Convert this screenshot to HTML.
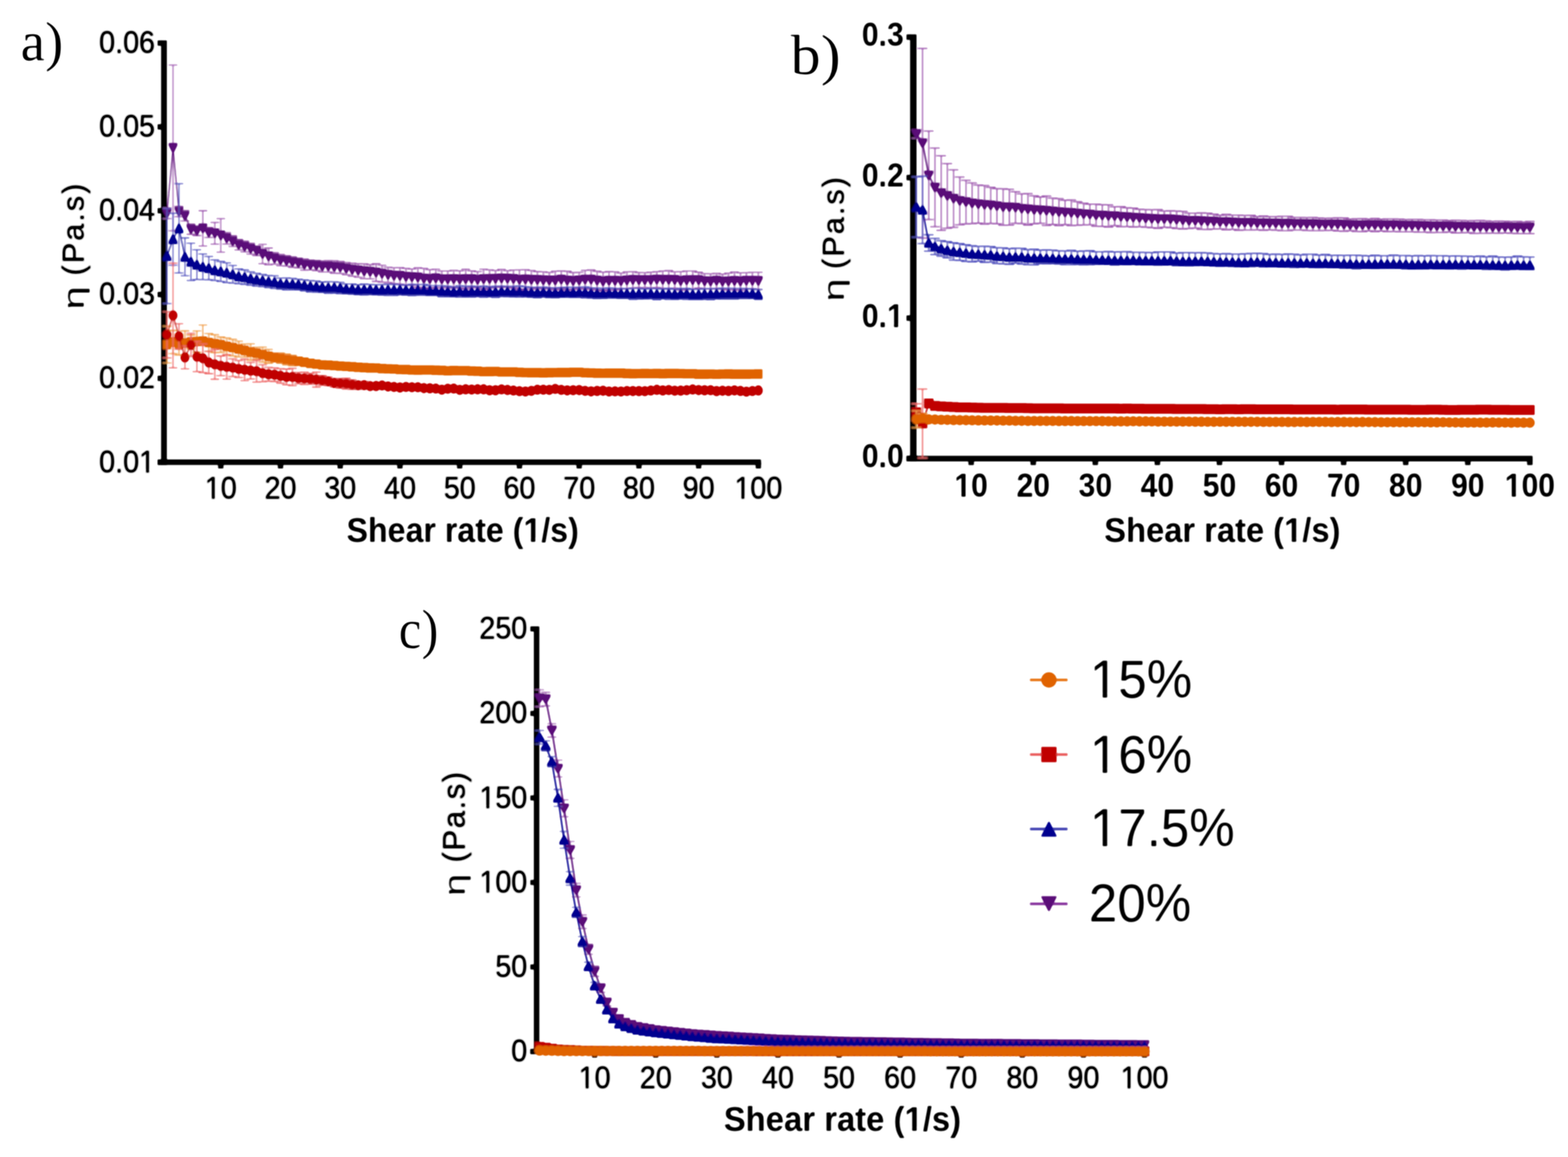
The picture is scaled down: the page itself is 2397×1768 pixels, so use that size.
<!DOCTYPE html>
<html lang="en">
<head>
<meta charset="utf-8">
<title>Viscosity vs shear rate</title>
<style>
html,body{margin:0;padding:0;background:#fff;}
body{width:2397px;height:1768px;overflow:hidden;}
svg{display:block;}
text{font-family:"Liberation Sans",Arial,Helvetica,sans-serif;fill:#000;font-kerning:none;font-variant-ligatures:none;}
.t{filter:url(#thick);}
.tb text,.tb2 text,.tb3 text{font-weight:bold;}
.tb{filter:url(#soft);}
.tb2{filter:url(#soft);}
.tb3{filter:url(#soft);}
.eta{filter:url(#soft);}
.lg{filter:url(#soft);}
.tag text{font-family:"Liberation Serif","DejaVu Serif",serif;}
.tag{filter:url(#thin);}
</style>
</head>
<body>
<svg width="2397" height="1768" viewBox="0 0 2397 1768">
<defs>
<filter id="thick" x="-20%" y="-20%" width="140%" height="140%"><feGaussianBlur stdDeviation="0.9"/><feComponentTransfer><feFuncA type="linear" slope="1.35" intercept="0"/></feComponentTransfer></filter>
<filter id="thick2" x="-20%" y="-20%" width="140%" height="140%"><feGaussianBlur stdDeviation="0.9"/><feComponentTransfer><feFuncA type="linear" slope="1.6" intercept="0"/></feComponentTransfer></filter>
<filter id="thick3" x="-20%" y="-20%" width="140%" height="140%"><feGaussianBlur stdDeviation="0.9"/><feComponentTransfer><feFuncA type="linear" slope="1.5" intercept="0"/></feComponentTransfer></filter>
<filter id="semib" x="-20%" y="-20%" width="140%" height="140%"><feGaussianBlur stdDeviation="0.9"/><feComponentTransfer><feFuncA type="linear" slope="1.5" intercept="-0.4"/></feComponentTransfer></filter>
<filter id="soft" x="-20%" y="-20%" width="140%" height="140%"><feGaussianBlur stdDeviation="0.9"/><feComponentTransfer><feFuncA type="linear" slope="1.3" intercept="-0.15"/></feComponentTransfer></filter>
<filter id="thin" x="-20%" y="-20%" width="140%" height="140%"><feGaussianBlur stdDeviation="0.9"/><feComponentTransfer><feFuncA type="linear" slope="1.5" intercept="-0.32"/></feComponentTransfer></filter>
<clipPath id="c1"><path clip-rule="evenodd" d="M-900 -200h1800v400h-1800zM-24.78 -4.22h10.00v6.22h-10.00zM-10.49 -4.22h9.62v6.22h-9.62z"/></clipPath><clipPath id="c2"><path clip-rule="evenodd" d="M-900 -200h1800v400h-1800zM-24.78 -4.22h10.00v6.22h-10.00zM-10.49 -4.22h9.62v6.22h-9.62z"/></clipPath><clipPath id="c3"><path clip-rule="evenodd" d="M-900 -200h1800v400h-1800zM-38.27 -4.22h10.00v6.22h-10.00zM-23.98 -4.22h9.62v6.22h-9.62z"/></clipPath><clipPath id="c4"><path clip-rule="evenodd" d="M-900 -200h1800v400h-1800zM100.04 -5.91h10.36v7.91h-10.36zM117.53 -5.91h9.70v7.91h-9.70z"/></clipPath><clipPath id="c5"><path clip-rule="evenodd" d="M-900 -200h1800v400h-1800zM-25.91 -5.65h9.94v7.65h-9.94zM-9.18 -5.65h9.31v7.65h-9.31z"/></clipPath><clipPath id="c6"><path clip-rule="evenodd" d="M-900 -200h1800v400h-1800zM-25.91 -5.65h9.94v7.65h-9.94zM-9.18 -5.65h9.31v7.65h-9.31z"/></clipPath><clipPath id="c7"><path clip-rule="evenodd" d="M-900 -200h1800v400h-1800zM-39.68 -5.65h9.94v7.65h-9.94zM-22.95 -5.65h9.31v7.65h-9.31z"/></clipPath><clipPath id="c8"><path clip-rule="evenodd" d="M-900 -200h1800v400h-1800zM-78.73 -4.22h10.00v6.22h-10.00zM-64.44 -4.22h9.62v6.22h-9.62z"/></clipPath><clipPath id="c9"><path clip-rule="evenodd" d="M-900 -200h1800v400h-1800zM-78.73 -4.22h10.00v6.22h-10.00zM-64.44 -4.22h9.62v6.22h-9.62z"/></clipPath><clipPath id="c10"><path clip-rule="evenodd" d="M-900 -200h1800v400h-1800zM4.75 -6.73h15.87v8.73h-15.87zM27.87 -6.73h15.23v8.73h-15.23z"/></clipPath><clipPath id="c11"><path clip-rule="evenodd" d="M-900 -200h1800v400h-1800zM4.75 -6.73h15.87v8.73h-15.87zM27.87 -6.73h15.23v8.73h-15.23z"/></clipPath><clipPath id="c12"><path clip-rule="evenodd" d="M-900 -200h1800v400h-1800zM4.75 -6.73h15.87v8.73h-15.87zM27.87 -6.73h15.23v8.73h-15.23z"/></clipPath>
<filter id="blur" x="-5%" y="-5%" width="110%" height="110%"><feGaussianBlur stdDeviation="0.9"/><feComponentTransfer><feFuncA type="linear" slope="1.3" intercept="-0.15"/></feComponentTransfer></filter>
</defs>
<rect width="2397" height="1768" fill="#fff"/>
<g id="panel-a">
<g filter="url(#blur)">
<g fill="#000"><rect x="246.3" y="61.7" width="8.8" height="648.8"/><rect x="240.9" y="702.1" width="922.5" height="8.4"/><rect x="240.9" y="702.2" width="6.4" height="8.2"/><rect x="240.9" y="574.1" width="6.4" height="8.2"/><rect x="240.9" y="446" width="6.4" height="8.2"/><rect x="240.9" y="317.9" width="6.4" height="8.2"/><rect x="240.9" y="189.8" width="6.4" height="8.2"/><rect x="240.9" y="61.7" width="6.4" height="8.2"/><rect x="333.4" y="706.3" width="8.2" height="9.6"/><rect x="424.7" y="706.3" width="8.2" height="9.6"/><rect x="516" y="706.3" width="8.2" height="9.6"/><rect x="607.3" y="706.3" width="8.2" height="9.6"/><rect x="698.6" y="706.3" width="8.2" height="9.6"/><rect x="790" y="706.3" width="8.2" height="9.6"/><rect x="881.3" y="706.3" width="8.2" height="9.6"/><rect x="972.6" y="706.3" width="8.2" height="9.6"/><rect x="1063.9" y="706.3" width="8.2" height="9.6"/><rect x="1155.2" y="706.3" width="8.2" height="9.6"/></g>
<path d="M255.3 317.6V334.1M248.6 317.6h13.5M248.6 334.1h13.5M264.5 99.3V352.6M257.7 99.3h13.5M257.7 352.6h13.5M273.6 315.5V331.1M266.8 315.5h13.5M266.8 331.1h13.5M282.7 321.7V337.7M276 321.7h13.5M276 337.7h13.5M291.9 342.3V358M285.1 342.3h13.5M285.1 358h13.5M301 345.5V360M294.2 345.5h13.5M294.2 360h13.5M310.1 322V375.8M303.4 322h13.5M303.4 375.8h13.5M319.2 347.7V362.9M312.5 347.7h13.5M312.5 362.9h13.5M328.4 339.9V373.2M321.6 339.9h13.5M321.6 373.2h13.5M337.5 334.1V385.3M330.8 334.1h13.5M330.8 385.3h13.5M346.6 355.3V372.8M339.9 355.3h13.5M339.9 372.8h13.5M355.8 360.2V376.7M349 360.2h13.5M349 376.7h13.5M364.9 366V381.9M358.2 366h13.5M358.2 381.9h13.5M374 368.5V384.9M367.3 368.5h13.5M367.3 384.9h13.5M383.2 371.6V388.3M376.4 371.6h13.5M376.4 388.3h13.5M392.3 376.1V390.5M385.5 376.1h13.5M385.5 390.5h13.5M401.4 373.3V402.8M394.7 373.3h13.5M394.7 402.8h13.5M410.6 379V404.6M403.8 379h13.5M403.8 404.6h13.5M419.7 385.9V403.6M412.9 385.9h13.5M412.9 403.6h13.5M428.8 388.7V406.2M422.1 388.7h13.5M422.1 406.2h13.5M438 390.7V406.7M431.2 390.7h13.5M431.2 406.7h13.5M447.1 392.4V408.5M440.3 392.4h13.5M440.3 408.5h13.5M456.2 394.5V409.4M449.5 394.5h13.5M449.5 409.4h13.5M465.3 395.7V412.9M458.6 395.7h13.5M458.6 412.9h13.5M474.5 397.5V412.4M467.7 397.5h13.5M467.7 412.4h13.5M483.6 397.9V413.5M476.9 397.9h13.5M476.9 413.5h13.5M492.7 398.7V415.6M486 398.7h13.5M486 415.6h13.5M501.9 398.2V415.6M495.1 398.2h13.5M495.1 415.6h13.5M511 398.5V417.5M504.2 398.5h13.5M504.2 417.5h13.5M520.1 399.5V417.8M513.4 399.5h13.5M513.4 417.8h13.5M529.3 401.2V419.9M522.5 401.2h13.5M522.5 419.9h13.5M538.4 402.1V422.2M531.6 402.1h13.5M531.6 422.2h13.5M547.5 403V423.6M540.8 403h13.5M540.8 423.6h13.5M556.7 403.1V425.9M549.9 403.1h13.5M549.9 425.9h13.5M565.8 404.5V426.1M559 404.5h13.5M559 426.1h13.5M574.9 403V430M568.2 403h13.5M568.2 430h13.5M584 405.3V431.1M577.3 405.3h13.5M577.3 431.1h13.5M593.2 408.3V431.7M586.4 408.3h13.5M586.4 431.7h13.5M602.3 409.2V433.5M595.6 409.2h13.5M595.6 433.5h13.5M611.4 408.9V434.2M604.7 408.9h13.5M604.7 434.2h13.5M620.6 410.1V435.9M613.8 410.1h13.5M613.8 435.9h13.5M629.7 411.2V435.8M623 411.2h13.5M623 435.8h13.5M638.8 409.1V438.8M632.1 409.1h13.5M632.1 438.8h13.5M648 410.2V441.3M641.2 410.2h13.5M641.2 441.3h13.5M657.1 412.2V440.2M650.3 412.2h13.5M650.3 440.2h13.5M666.2 411.3V439.3M659.5 411.3h13.5M659.5 439.3h13.5M675.4 414.2V439.5M668.6 414.2h13.5M668.6 439.5h13.5M684.5 414.1V439.4M677.7 414.1h13.5M677.7 439.4h13.5M693.6 413.2V440M686.9 413.2h13.5M686.9 440h13.5M702.8 413.9V440.1M696 413.9h13.5M696 440.1h13.5M711.9 411.5V441.4M705.1 411.5h13.5M705.1 441.4h13.5M721 413.8V439.2M714.3 413.8h13.5M714.3 439.2h13.5M730.1 415.2V439.7M723.4 415.2h13.5M723.4 439.7h13.5M739.3 411.3V441.9M732.5 411.3h13.5M732.5 441.9h13.5M748.4 412.4V440.1M741.7 412.4h13.5M741.7 440.1h13.5M757.5 413.4V438.4M750.8 413.4h13.5M750.8 438.4h13.5M766.7 411.6V439.2M759.9 411.6h13.5M759.9 439.2h13.5M775.8 413.7V437.9M769 413.7h13.5M769 437.9h13.5M784.9 412.6V440M778.2 412.6h13.5M778.2 440h13.5M794.1 412.3V442.5M787.3 412.3h13.5M787.3 442.5h13.5M803.2 412.2V441.7M796.4 412.2h13.5M796.4 441.7h13.5M812.3 413.3V441.6M805.6 413.3h13.5M805.6 441.6h13.5M821.5 415V440.4M814.7 415h13.5M814.7 440.4h13.5M830.6 415.3V441.3M823.8 415.3h13.5M823.8 441.3h13.5M839.7 416.3V440.9M833 416.3h13.5M833 440.9h13.5M848.8 414.3V442.7M842.1 414.3h13.5M842.1 442.7h13.5M858 413.9V440.8M851.2 413.9h13.5M851.2 440.8h13.5M867.1 414.5V442.9M860.4 414.5h13.5M860.4 442.9h13.5M876.2 416.5V441.9M869.5 416.5h13.5M869.5 441.9h13.5M885.4 416.2V440.8M878.6 416.2h13.5M878.6 440.8h13.5M894.5 413.2V441.5M887.8 413.2h13.5M887.8 441.5h13.5M903.6 412.5V441.9M896.9 412.5h13.5M896.9 441.9h13.5M912.8 414.5V442.9M906 414.5h13.5M906 442.9h13.5M921.9 415.9V444M915.1 415.9h13.5M915.1 444h13.5M931 415V443M924.3 415h13.5M924.3 443h13.5M940.2 415.4V442.9M933.4 415.4h13.5M933.4 442.9h13.5M949.3 417.3V441.6M942.5 417.3h13.5M942.5 441.6h13.5M958.4 415.4V441.4M951.7 415.4h13.5M951.7 441.4h13.5M967.5 415.2V440.2M960.8 415.2h13.5M960.8 440.2h13.5M976.7 416.5V439.3M969.9 416.5h13.5M969.9 439.3h13.5M985.8 416.6V439.4M979.1 416.6h13.5M979.1 439.4h13.5M994.9 415.8V440.1M988.2 415.8h13.5M988.2 440.1h13.5M1004.1 415.2V439.3M997.3 415.2h13.5M997.3 439.3h13.5M1013.2 414.1V440.7M1006.5 414.1h13.5M1006.5 440.7h13.5M1022.3 413.5V441.7M1015.6 413.5h13.5M1015.6 441.7h13.5M1031.5 415.3V440.3M1024.7 415.3h13.5M1024.7 440.3h13.5M1040.6 415.2V443.1M1033.8 415.2h13.5M1033.8 443.1h13.5M1049.7 414.2V442.3M1043 414.2h13.5M1043 442.3h13.5M1058.9 414.1V441.9M1052.1 414.1h13.5M1052.1 441.9h13.5M1068 416V440.2M1061.2 416h13.5M1061.2 440.2h13.5M1077.1 418.1V441.4M1070.4 418.1h13.5M1070.4 441.4h13.5M1086.3 418.3V441.5M1079.5 418.3h13.5M1079.5 441.5h13.5M1095.4 417.6V440.6M1088.6 417.6h13.5M1088.6 440.6h13.5M1104.5 418.8V441.8M1097.8 418.8h13.5M1097.8 441.8h13.5M1113.6 417.3V442.8M1106.9 417.3h13.5M1106.9 442.8h13.5M1122.8 415.7V442.7M1116 415.7h13.5M1116 442.7h13.5M1131.9 416.8V443.4M1125.2 416.8h13.5M1125.2 443.4h13.5M1141 416.7V441.1M1134.3 416.7h13.5M1134.3 441.1h13.5M1150.2 416.2V441.5M1143.4 416.2h13.5M1143.4 441.5h13.5M1159.3 416.2V442.3M1152.5 416.2h13.5M1152.5 442.3h13.5" fill="none" stroke="#a260b2" stroke-width="1.8"/>
<path d="M255.3 325.8L264.5 225.9L273.6 323.3L282.7 329.7L291.9 350.2L301 352.7L310.1 348.9L319.2 355.3L328.4 356.6L337.5 359.7L346.6 364L355.8 368.5L364.9 374L374 376.7L383.2 379.9L392.3 383.3L401.4 388.1L410.6 391.8L419.7 394.8L428.8 397.5L438 398.7L447.1 400.5L456.2 401.9L465.3 404.3L474.5 404.9L483.6 405.7L492.7 407.1L501.9 406.9L511 408L520.1 408.6L529.3 410.5L538.4 412.2L547.5 413.3L556.7 414.5L565.8 415.3L574.9 416.5L584 418.2L593.2 420L602.3 421.3L611.4 421.6L620.6 423L629.7 423.5L638.8 424L648 425.8L657.1 426.2L666.2 425.3L675.4 426.8L684.5 426.8L693.6 426.6L702.8 427L711.9 426.5L721 426.5L730.1 427.4L739.3 426.6L748.4 426.3L757.5 425.9L766.7 425.4L775.8 425.8L784.9 426.3L794.1 427.4L803.2 427L812.3 427.5L821.5 427.7L830.6 428.3L839.7 428.6L848.8 428.5L858 427.3L867.1 428.7L876.2 429.2L885.4 428.5L894.5 427.3L903.6 427.2L912.8 428.7L921.9 430L931 429L940.2 429.1L949.3 429.5L958.4 428.4L967.5 427.7L976.7 427.9L985.8 428L994.9 427.9L1004.1 427.2L1013.2 427.4L1022.3 427.6L1031.5 427.8L1040.6 429.2L1049.7 428.3L1058.9 428L1068 428.1L1077.1 429.7L1086.3 429.9L1095.4 429.1L1104.5 430.3L1113.6 430.1L1122.8 429.2L1131.9 430.1L1141 428.9L1150.2 428.9L1159.3 429.3" fill="none" stroke="#5a0a78" stroke-width="1.6" stroke-linejoin="round"/>
<path d="M254.2 333.3L256.4 333.3L261.9 322.2L261.9 318.3L248.7 318.3L248.7 322.2zM263.4 233.4L265.6 233.4L271.1 222.3L271.1 218.4L257.9 218.4L257.9 222.3zM272.5 330.8L274.7 330.8L280.2 319.7L280.2 315.8L267 315.8L267 319.7zM281.6 337.2L283.8 337.2L289.3 326.1L289.3 322.2L276.1 322.2L276.1 326.1zM290.8 357.7L293 357.7L298.5 346.6L298.5 342.7L285.3 342.7L285.3 346.6zM299.9 360.2L302.1 360.2L307.6 349.1L307.6 345.2L294.4 345.2L294.4 349.1zM309 356.4L311.2 356.4L316.7 345.3L316.7 341.4L303.5 341.4L303.5 345.3zM318.1 362.8L320.3 362.8L325.8 351.7L325.8 347.8L312.6 347.8L312.6 351.7zM327.3 364.1L329.5 364.1L335 353L335 349.1L321.8 349.1L321.8 353zM336.4 367.2L338.6 367.2L344.1 356.1L344.1 352.2L330.9 352.2L330.9 356.1zM345.5 371.5L347.7 371.5L353.2 360.4L353.2 356.5L340 356.5L340 360.4zM354.7 376L356.9 376L362.4 364.9L362.4 361L349.2 361L349.2 364.9zM363.8 381.5L366 381.5L371.5 370.4L371.5 366.5L358.3 366.5L358.3 370.4zM372.9 384.2L375.1 384.2L380.6 373.1L380.6 369.2L367.4 369.2L367.4 373.1zM382.1 387.4L384.3 387.4L389.8 376.3L389.8 372.4L376.6 372.4L376.6 376.3zM391.2 390.8L393.4 390.8L398.9 379.7L398.9 375.8L385.7 375.8L385.7 379.7zM400.3 395.6L402.5 395.6L408 384.5L408 380.6L394.8 380.6L394.8 384.5zM409.5 399.3L411.7 399.3L417.2 388.2L417.2 384.3L404 384.3L404 388.2zM418.6 402.3L420.8 402.3L426.3 391.2L426.3 387.3L413.1 387.3L413.1 391.2zM427.7 405L429.9 405L435.4 393.9L435.4 390L422.2 390L422.2 393.9zM436.9 406.2L439.1 406.2L444.6 395.1L444.6 391.2L431.4 391.2L431.4 395.1zM446 408L448.2 408L453.7 396.9L453.7 393L440.5 393L440.5 396.9zM455.1 409.4L457.3 409.4L462.8 398.3L462.8 394.4L449.6 394.4L449.6 398.3zM464.2 411.8L466.4 411.8L471.9 400.7L471.9 396.8L458.7 396.8L458.7 400.7zM473.4 412.4L475.6 412.4L481.1 401.3L481.1 397.4L467.9 397.4L467.9 401.3zM482.5 413.2L484.7 413.2L490.2 402.1L490.2 398.2L477 398.2L477 402.1zM491.6 414.6L493.8 414.6L499.3 403.5L499.3 399.6L486.1 399.6L486.1 403.5zM500.8 414.4L503 414.4L508.5 403.3L508.5 399.4L495.3 399.4L495.3 403.3zM509.9 415.5L512.1 415.5L517.6 404.4L517.6 400.5L504.4 400.5L504.4 404.4zM519 416.1L521.2 416.1L526.7 405L526.7 401.1L513.5 401.1L513.5 405zM528.2 418L530.4 418L535.9 406.9L535.9 403L522.7 403L522.7 406.9zM537.3 419.7L539.5 419.7L545 408.6L545 404.7L531.8 404.7L531.8 408.6zM546.4 420.8L548.6 420.8L554.1 409.7L554.1 405.8L540.9 405.8L540.9 409.7zM555.6 422L557.8 422L563.3 410.9L563.3 407L550.1 407L550.1 410.9zM564.7 422.8L566.9 422.8L572.4 411.7L572.4 407.8L559.2 407.8L559.2 411.7zM573.8 424L576 424L581.5 412.9L581.5 409L568.3 409L568.3 412.9zM582.9 425.7L585.1 425.7L590.6 414.6L590.6 410.7L577.4 410.7L577.4 414.6zM592.1 427.5L594.3 427.5L599.8 416.4L599.8 412.5L586.6 412.5L586.6 416.4zM601.2 428.8L603.4 428.8L608.9 417.7L608.9 413.8L595.7 413.8L595.7 417.7zM610.3 429.1L612.5 429.1L618 418L618 414.1L604.8 414.1L604.8 418zM619.5 430.5L621.7 430.5L627.2 419.4L627.2 415.5L614 415.5L614 419.4zM628.6 431L630.8 431L636.3 419.9L636.3 416L623.1 416L623.1 419.9zM637.7 431.5L639.9 431.5L645.4 420.4L645.4 416.5L632.2 416.5L632.2 420.4zM646.9 433.3L649.1 433.3L654.6 422.2L654.6 418.3L641.4 418.3L641.4 422.2zM656 433.7L658.2 433.7L663.7 422.6L663.7 418.7L650.5 418.7L650.5 422.6zM665.1 432.8L667.3 432.8L672.8 421.7L672.8 417.8L659.6 417.8L659.6 421.7zM674.3 434.3L676.5 434.3L682 423.2L682 419.3L668.8 419.3L668.8 423.2zM683.4 434.3L685.6 434.3L691.1 423.2L691.1 419.3L677.9 419.3L677.9 423.2zM692.5 434.1L694.7 434.1L700.2 423L700.2 419.1L687 419.1L687 423zM701.6 434.5L703.9 434.5L709.4 423.4L709.4 419.5L696.1 419.5L696.1 423.4zM710.8 434L713 434L718.5 422.9L718.5 419L705.3 419L705.3 422.9zM719.9 434L722.1 434L727.6 422.9L727.6 419L714.4 419L714.4 422.9zM729 434.9L731.2 434.9L736.7 423.8L736.7 419.9L723.5 419.9L723.5 423.8zM738.2 434.1L740.4 434.1L745.9 423L745.9 419.1L732.7 419.1L732.7 423zM747.3 433.8L749.5 433.8L755 422.7L755 418.8L741.8 418.8L741.8 422.7zM756.4 433.4L758.6 433.4L764.1 422.3L764.1 418.4L750.9 418.4L750.9 422.3zM765.6 432.9L767.8 432.9L773.3 421.8L773.3 417.9L760.1 417.9L760.1 421.8zM774.7 433.3L776.9 433.3L782.4 422.2L782.4 418.3L769.2 418.3L769.2 422.2zM783.8 433.8L786 433.8L791.5 422.7L791.5 418.8L778.3 418.8L778.3 422.7zM793 434.9L795.2 434.9L800.7 423.8L800.7 419.9L787.5 419.9L787.5 423.8zM802.1 434.5L804.3 434.5L809.8 423.4L809.8 419.5L796.6 419.5L796.6 423.4zM811.2 435L813.4 435L818.9 423.9L818.9 420L805.7 420L805.7 423.9zM820.4 435.2L822.6 435.2L828.1 424.1L828.1 420.2L814.9 420.2L814.9 424.1zM829.5 435.8L831.7 435.8L837.2 424.7L837.2 420.8L824 420.8L824 424.7zM838.6 436.1L840.8 436.1L846.3 425L846.3 421.1L833.1 421.1L833.1 425zM847.7 436L849.9 436L855.4 424.9L855.4 421L842.2 421L842.2 424.9zM856.9 434.8L859.1 434.8L864.6 423.7L864.6 419.8L851.4 419.8L851.4 423.7zM866 436.2L868.2 436.2L873.7 425.1L873.7 421.2L860.5 421.2L860.5 425.1zM875.1 436.7L877.3 436.7L882.8 425.6L882.8 421.7L869.6 421.7L869.6 425.6zM884.3 436L886.5 436L892 424.9L892 421L878.8 421L878.8 424.9zM893.4 434.8L895.6 434.8L901.1 423.7L901.1 419.8L887.9 419.8L887.9 423.7zM902.5 434.7L904.7 434.7L910.2 423.6L910.2 419.7L897 419.7L897 423.6zM911.7 436.2L913.9 436.2L919.4 425.1L919.4 421.2L906.2 421.2L906.2 425.1zM920.8 437.5L923 437.5L928.5 426.4L928.5 422.5L915.3 422.5L915.3 426.4zM929.9 436.5L932.1 436.5L937.6 425.4L937.6 421.5L924.4 421.5L924.4 425.4zM939.1 436.6L941.3 436.6L946.8 425.5L946.8 421.6L933.6 421.6L933.6 425.5zM948.2 437L950.4 437L955.9 425.9L955.9 422L942.7 422L942.7 425.9zM957.3 435.9L959.5 435.9L965 424.8L965 420.9L951.8 420.9L951.8 424.8zM966.4 435.2L968.6 435.2L974.1 424.1L974.1 420.2L960.9 420.2L960.9 424.1zM975.6 435.4L977.8 435.4L983.3 424.3L983.3 420.4L970.1 420.4L970.1 424.3zM984.7 435.5L986.9 435.5L992.4 424.4L992.4 420.5L979.2 420.5L979.2 424.4zM993.8 435.4L996 435.4L1001.5 424.3L1001.5 420.4L988.3 420.4L988.3 424.3zM1003 434.7L1005.2 434.7L1010.7 423.6L1010.7 419.7L997.5 419.7L997.5 423.6zM1012.1 434.9L1014.3 434.9L1019.8 423.8L1019.8 419.9L1006.6 419.9L1006.6 423.8zM1021.2 435.1L1023.4 435.1L1028.9 424L1028.9 420.1L1015.7 420.1L1015.7 424zM1030.4 435.3L1032.6 435.3L1038.1 424.2L1038.1 420.3L1024.9 420.3L1024.9 424.2zM1039.5 436.7L1041.7 436.7L1047.2 425.6L1047.2 421.7L1034 421.7L1034 425.6zM1048.6 435.8L1050.8 435.8L1056.3 424.7L1056.3 420.8L1043.1 420.8L1043.1 424.7zM1057.8 435.5L1060 435.5L1065.5 424.4L1065.5 420.5L1052.3 420.5L1052.3 424.4zM1066.9 435.6L1069.1 435.6L1074.6 424.5L1074.6 420.6L1061.4 420.6L1061.4 424.5zM1076 437.2L1078.2 437.2L1083.7 426.1L1083.7 422.2L1070.5 422.2L1070.5 426.1zM1085.2 437.4L1087.4 437.4L1092.9 426.3L1092.9 422.4L1079.7 422.4L1079.7 426.3zM1094.3 436.6L1096.5 436.6L1102 425.5L1102 421.6L1088.8 421.6L1088.8 425.5zM1103.4 437.8L1105.6 437.8L1111.1 426.7L1111.1 422.8L1097.9 422.8L1097.9 426.7zM1112.5 437.6L1114.7 437.6L1120.2 426.5L1120.2 422.6L1107 422.6L1107 426.5zM1121.7 436.7L1123.9 436.7L1129.4 425.6L1129.4 421.7L1116.2 421.7L1116.2 425.6zM1130.8 437.6L1133 437.6L1138.5 426.5L1138.5 422.6L1125.3 422.6L1125.3 426.5zM1139.9 436.4L1142.1 436.4L1147.6 425.3L1147.6 421.4L1134.4 421.4L1134.4 425.3zM1149.1 436.4L1151.3 436.4L1156.8 425.3L1156.8 421.4L1143.6 421.4L1143.6 425.3zM1158.2 436.8L1160.4 436.8L1165.9 425.7L1165.9 421.8L1152.7 421.8L1152.7 425.7z" fill="#5a0a78"/>
<path d="M255.3 318.6V463.8M248.6 318.6h13.5M248.6 463.8h13.5M264.5 325.8V405.3M257.7 325.8h13.5M257.7 405.3h13.5M273.6 280.6V417.2M266.8 280.6h13.5M266.8 417.2h13.5M282.7 363.5V421.4M276 363.5h13.5M276 421.4h13.5M291.9 371.6V428.7M285.1 371.6h13.5M285.1 428.7h13.5M301 381.7V427.1M294.2 381.7h13.5M294.2 427.1h13.5M310.1 388.2V427.3M303.4 388.2h13.5M303.4 427.3h13.5M319.2 391.8V427.5M312.5 391.8h13.5M312.5 427.5h13.5M328.4 397.1V428.6M321.6 397.1h13.5M321.6 428.6h13.5M337.5 399.5V430.2M330.8 399.5h13.5M330.8 430.2h13.5M346.6 401.6V431.9M339.9 401.6h13.5M339.9 431.9h13.5M355.8 405.7V432.7M349 405.7h13.5M349 432.7h13.5M364.9 410.9V433.5M358.2 410.9h13.5M358.2 433.5h13.5M374 412.5V434.5M367.3 412.5h13.5M367.3 434.5h13.5M383.2 415.4V435.9M376.4 415.4h13.5M376.4 435.9h13.5M392.3 417.7V437.3M385.5 417.7h13.5M385.5 437.3h13.5M401.4 419.4V438.1M394.7 419.4h13.5M394.7 438.1h13.5M410.6 420.8V439.5M403.8 420.8h13.5M403.8 439.5h13.5M419.7 421.4V440.9M412.9 421.4h13.5M412.9 440.9h13.5M428.8 424.9V441.9M422.1 424.9h13.5M422.1 441.9h13.5M438 424.6V443M431.2 424.6h13.5M431.2 443h13.5M447.1 425.3V443.1M440.3 425.3h13.5M440.3 443.1h13.5M456.2 426.6V443M449.5 426.6h13.5M449.5 443h13.5M465.3 427.6V444.7M458.6 427.6h13.5M458.6 444.7h13.5M474.5 428.6V446.4M467.7 428.6h13.5M467.7 446.4h13.5M483.6 429.3V446.6M476.9 429.3h13.5M476.9 446.6h13.5M492.7 431V446.8M486 431h13.5M486 446.8h13.5M501.9 430.3V448.4M495.1 430.3h13.5M495.1 448.4h13.5M511 430.6V448M504.2 430.6h13.5M504.2 448h13.5M520.1 431.3V448.9M513.4 431.3h13.5M513.4 448.9h13.5M529.3 433.9V449.2M522.5 433.9h13.5M522.5 449.2h13.5M538.4 433.9V449.7M531.6 433.9h13.5M531.6 449.7h13.5M547.5 435.1V450.3M540.8 435.1h13.5M540.8 450.3h13.5M556.7 433.8V450.9M549.9 433.8h13.5M549.9 450.9h13.5M565.8 434.6V450.4M559 434.6h13.5M559 450.4h13.5M574.9 435.2V450.6M568.2 435.2h13.5M568.2 450.6h13.5M584 434.9V451.1M577.3 434.9h13.5M577.3 451.1h13.5M593.2 434.1V451.5M586.4 434.1h13.5M586.4 451.5h13.5M602.3 434.5V451.7M595.6 434.5h13.5M595.6 451.7h13.5M611.4 434.9V450.6M604.7 434.9h13.5M604.7 450.6h13.5M620.6 435.6V451M613.8 435.6h13.5M613.8 451h13.5M629.7 434.5V451.9M623 434.5h13.5M623 451.9h13.5M638.8 434.8V451.3M632.1 434.8h13.5M632.1 451.3h13.5M648 434.6V451.4M641.2 434.6h13.5M641.2 451.4h13.5M657.1 436.4V451.6M650.3 436.4h13.5M650.3 451.6h13.5M666.2 436.4V451.5M659.5 436.4h13.5M659.5 451.5h13.5M675.4 436.7V453.5M668.6 436.7h13.5M668.6 453.5h13.5M684.5 437.4V453.5M677.7 437.4h13.5M677.7 453.5h13.5M693.6 438.6V453.7M686.9 438.6h13.5M686.9 453.7h13.5M702.8 436.6V454.1M696 436.6h13.5M696 454.1h13.5M711.9 437.5V454.2M705.1 437.5h13.5M705.1 454.2h13.5M721 437.2V454.2M714.3 437.2h13.5M714.3 454.2h13.5M730.1 438.2V453.3M723.4 438.2h13.5M723.4 453.3h13.5M739.3 437.2V454.3M732.5 437.2h13.5M732.5 454.3h13.5M748.4 438.5V453.6M741.7 438.5h13.5M741.7 453.6h13.5M757.5 437.3V454.5M750.8 437.3h13.5M750.8 454.5h13.5M766.7 437.2V453.3M759.9 437.2h13.5M759.9 453.3h13.5M775.8 437.7V453.5M769 437.7h13.5M769 453.5h13.5M784.9 437.5V453.9M778.2 437.5h13.5M778.2 453.9h13.5M794.1 436.9V454.2M787.3 436.9h13.5M787.3 454.2h13.5M803.2 438.2V453.8M796.4 438.2h13.5M796.4 453.8h13.5M812.3 439.1V454.4M805.6 439.1h13.5M805.6 454.4h13.5M821.5 438.8V455.1M814.7 438.8h13.5M814.7 455.1h13.5M830.6 438.7V454.2M823.8 438.7h13.5M823.8 454.2h13.5M839.7 439.7V454.9M833 439.7h13.5M833 454.9h13.5M848.8 439.8V455.1M842.1 439.8h13.5M842.1 455.1h13.5M858 439.4V454.4M851.2 439.4h13.5M851.2 454.4h13.5M867.1 439V454.4M860.4 439h13.5M860.4 454.4h13.5M876.2 439.1V454.7M869.5 439.1h13.5M869.5 454.7h13.5M885.4 438.9V454.6M878.6 438.9h13.5M878.6 454.6h13.5M894.5 438.5V455.4M887.8 438.5h13.5M887.8 455.4h13.5M903.6 439.9V455.5M896.9 439.9h13.5M896.9 455.5h13.5M912.8 440.2V456.4M906 440.2h13.5M906 456.4h13.5M921.9 440.7V456M915.1 440.7h13.5M915.1 456h13.5M931 439.9V455.6M924.3 439.9h13.5M924.3 455.6h13.5M940.2 440.6V455.5M933.4 440.6h13.5M933.4 455.5h13.5M949.3 440.7V456.2M942.5 440.7h13.5M942.5 456.2h13.5M958.4 441.2V456.1M951.7 441.2h13.5M951.7 456.1h13.5M967.5 440.7V457.5M960.8 440.7h13.5M960.8 457.5h13.5M976.7 440.7V457M969.9 440.7h13.5M969.9 457h13.5M985.8 441.5V456.8M979.1 441.5h13.5M979.1 456.8h13.5M994.9 440.7V456.7M988.2 440.7h13.5M988.2 456.7h13.5M1004.1 441V458.2M997.3 441h13.5M997.3 458.2h13.5M1013.2 441.5V456.6M1006.5 441.5h13.5M1006.5 456.6h13.5M1022.3 440.7V457.6M1015.6 440.7h13.5M1015.6 457.6h13.5M1031.5 441.8V457.7M1024.7 441.8h13.5M1024.7 457.7h13.5M1040.6 441V457.1M1033.8 441h13.5M1033.8 457.1h13.5M1049.7 440.6V457.5M1043 440.6h13.5M1043 457.5h13.5M1058.9 442V457.8M1052.1 442h13.5M1052.1 457.8h13.5M1068 441.8V457.9M1061.2 441.8h13.5M1061.2 457.9h13.5M1077.1 441.1V457.7M1070.4 441.1h13.5M1070.4 457.7h13.5M1086.3 440.8V458.1M1079.5 440.8h13.5M1079.5 458.1h13.5M1095.4 441.2V456.8M1088.6 441.2h13.5M1088.6 456.8h13.5M1104.5 440.3V457.2M1097.8 440.3h13.5M1097.8 457.2h13.5M1113.6 440.4V457M1106.9 440.4h13.5M1106.9 457h13.5M1122.8 440.6V457M1116 440.6h13.5M1116 457h13.5M1131.9 440.6V456.4M1125.2 440.6h13.5M1125.2 456.4h13.5M1141 440.8V456.4M1134.3 440.8h13.5M1134.3 456.4h13.5M1150.2 441.3V456.2M1143.4 441.3h13.5M1143.4 456.2h13.5M1159.3 442.4V457.5M1152.5 442.4h13.5M1152.5 457.5h13.5" fill="none" stroke="#5858c0" stroke-width="1.8"/>
<path d="M255.3 391.2L264.5 365.6L273.6 348.9L282.7 392.5L291.9 400.1L301 404.4L310.1 407.8L319.2 409.7L328.4 412.9L337.5 414.8L346.6 416.8L355.8 419.2L364.9 422.2L374 423.5L383.2 425.7L392.3 427.5L401.4 428.8L410.6 430.2L419.7 431.2L428.8 433.4L438 433.8L447.1 434.2L456.2 434.8L465.3 436.1L474.5 437.5L483.6 437.9L492.7 438.9L501.9 439.4L511 439.3L520.1 440.1L529.3 441.6L538.4 441.8L547.5 442.7L556.7 442.4L565.8 442.5L574.9 442.9L584 443L593.2 442.8L602.3 443.1L611.4 442.8L620.6 443.3L629.7 443.2L638.8 443.1L648 443L657.1 444L666.2 443.9L675.4 445.1L684.5 445.5L693.6 446.1L702.8 445.3L711.9 445.9L721 445.7L730.1 445.7L739.3 445.7L748.4 446L757.5 445.9L766.7 445.2L775.8 445.6L784.9 445.7L794.1 445.6L803.2 446L812.3 446.8L821.5 447L830.6 446.5L839.7 447.3L848.8 447.4L858 446.9L867.1 446.7L876.2 446.9L885.4 446.8L894.5 447L903.6 447.7L912.8 448.3L921.9 448.3L931 447.8L940.2 448.1L949.3 448.4L958.4 448.6L967.5 449.1L976.7 448.8L985.8 449.1L994.9 448.7L1004.1 449.6L1013.2 449L1022.3 449.1L1031.5 449.7L1040.6 449L1049.7 449L1058.9 449.9L1068 449.9L1077.1 449.4L1086.3 449.4L1095.4 449L1104.5 448.8L1113.6 448.7L1122.8 448.8L1131.9 448.5L1141 448.6L1150.2 448.8L1159.3 449.9" fill="none" stroke="#00008f" stroke-width="1.6" stroke-linejoin="round"/>
<path d="M254.2 383.7L256.4 383.7L261.9 394.8L261.9 398.7L248.7 398.7L248.7 394.8zM263.4 358.1L265.6 358.1L271.1 369.2L271.1 373.1L257.9 373.1L257.9 369.2zM272.5 341.4L274.7 341.4L280.2 352.5L280.2 356.4L267 356.4L267 352.5zM281.6 385L283.8 385L289.3 396.1L289.3 400L276.1 400L276.1 396.1zM290.8 392.6L293 392.6L298.5 403.7L298.5 407.6L285.3 407.6L285.3 403.7zM299.9 396.9L302.1 396.9L307.6 408L307.6 411.9L294.4 411.9L294.4 408zM309 400.3L311.2 400.3L316.7 411.4L316.7 415.3L303.5 415.3L303.5 411.4zM318.1 402.2L320.3 402.2L325.8 413.3L325.8 417.2L312.6 417.2L312.6 413.3zM327.3 405.4L329.5 405.4L335 416.5L335 420.4L321.8 420.4L321.8 416.5zM336.4 407.3L338.6 407.3L344.1 418.4L344.1 422.3L330.9 422.3L330.9 418.4zM345.5 409.3L347.7 409.3L353.2 420.4L353.2 424.3L340 424.3L340 420.4zM354.7 411.7L356.9 411.7L362.4 422.8L362.4 426.7L349.2 426.7L349.2 422.8zM363.8 414.7L366 414.7L371.5 425.8L371.5 429.7L358.3 429.7L358.3 425.8zM372.9 416L375.1 416L380.6 427.1L380.6 431L367.4 431L367.4 427.1zM382.1 418.2L384.3 418.2L389.8 429.3L389.8 433.2L376.6 433.2L376.6 429.3zM391.2 420L393.4 420L398.9 431.1L398.9 435L385.7 435L385.7 431.1zM400.3 421.3L402.5 421.3L408 432.4L408 436.3L394.8 436.3L394.8 432.4zM409.5 422.7L411.7 422.7L417.2 433.8L417.2 437.7L404 437.7L404 433.8zM418.6 423.7L420.8 423.7L426.3 434.8L426.3 438.7L413.1 438.7L413.1 434.8zM427.7 425.9L429.9 425.9L435.4 437L435.4 440.9L422.2 440.9L422.2 437zM436.9 426.3L439.1 426.3L444.6 437.4L444.6 441.3L431.4 441.3L431.4 437.4zM446 426.7L448.2 426.7L453.7 437.8L453.7 441.7L440.5 441.7L440.5 437.8zM455.1 427.3L457.3 427.3L462.8 438.4L462.8 442.3L449.6 442.3L449.6 438.4zM464.2 428.6L466.4 428.6L471.9 439.7L471.9 443.6L458.7 443.6L458.7 439.7zM473.4 430L475.6 430L481.1 441.1L481.1 445L467.9 445L467.9 441.1zM482.5 430.4L484.7 430.4L490.2 441.5L490.2 445.4L477 445.4L477 441.5zM491.6 431.4L493.8 431.4L499.3 442.5L499.3 446.4L486.1 446.4L486.1 442.5zM500.8 431.9L503 431.9L508.5 443L508.5 446.9L495.3 446.9L495.3 443zM509.9 431.8L512.1 431.8L517.6 442.9L517.6 446.8L504.4 446.8L504.4 442.9zM519 432.6L521.2 432.6L526.7 443.7L526.7 447.6L513.5 447.6L513.5 443.7zM528.2 434.1L530.4 434.1L535.9 445.2L535.9 449.1L522.7 449.1L522.7 445.2zM537.3 434.3L539.5 434.3L545 445.4L545 449.3L531.8 449.3L531.8 445.4zM546.4 435.2L548.6 435.2L554.1 446.3L554.1 450.2L540.9 450.2L540.9 446.3zM555.6 434.9L557.8 434.9L563.3 446L563.3 449.9L550.1 449.9L550.1 446zM564.7 435L566.9 435L572.4 446.1L572.4 450L559.2 450L559.2 446.1zM573.8 435.4L576 435.4L581.5 446.5L581.5 450.4L568.3 450.4L568.3 446.5zM582.9 435.5L585.1 435.5L590.6 446.6L590.6 450.5L577.4 450.5L577.4 446.6zM592.1 435.3L594.3 435.3L599.8 446.4L599.8 450.3L586.6 450.3L586.6 446.4zM601.2 435.6L603.4 435.6L608.9 446.7L608.9 450.6L595.7 450.6L595.7 446.7zM610.3 435.3L612.5 435.3L618 446.4L618 450.3L604.8 450.3L604.8 446.4zM619.5 435.8L621.7 435.8L627.2 446.9L627.2 450.8L614 450.8L614 446.9zM628.6 435.7L630.8 435.7L636.3 446.8L636.3 450.7L623.1 450.7L623.1 446.8zM637.7 435.6L639.9 435.6L645.4 446.7L645.4 450.6L632.2 450.6L632.2 446.7zM646.9 435.5L649.1 435.5L654.6 446.6L654.6 450.5L641.4 450.5L641.4 446.6zM656 436.5L658.2 436.5L663.7 447.6L663.7 451.5L650.5 451.5L650.5 447.6zM665.1 436.4L667.3 436.4L672.8 447.5L672.8 451.4L659.6 451.4L659.6 447.5zM674.3 437.6L676.5 437.6L682 448.7L682 452.6L668.8 452.6L668.8 448.7zM683.4 438L685.6 438L691.1 449.1L691.1 453L677.9 453L677.9 449.1zM692.5 438.6L694.7 438.6L700.2 449.7L700.2 453.6L687 453.6L687 449.7zM701.6 437.8L703.9 437.8L709.4 448.9L709.4 452.8L696.1 452.8L696.1 448.9zM710.8 438.4L713 438.4L718.5 449.5L718.5 453.4L705.3 453.4L705.3 449.5zM719.9 438.2L722.1 438.2L727.6 449.3L727.6 453.2L714.4 453.2L714.4 449.3zM729 438.2L731.2 438.2L736.7 449.3L736.7 453.2L723.5 453.2L723.5 449.3zM738.2 438.2L740.4 438.2L745.9 449.3L745.9 453.2L732.7 453.2L732.7 449.3zM747.3 438.5L749.5 438.5L755 449.6L755 453.5L741.8 453.5L741.8 449.6zM756.4 438.4L758.6 438.4L764.1 449.5L764.1 453.4L750.9 453.4L750.9 449.5zM765.6 437.7L767.8 437.7L773.3 448.8L773.3 452.7L760.1 452.7L760.1 448.8zM774.7 438.1L776.9 438.1L782.4 449.2L782.4 453.1L769.2 453.1L769.2 449.2zM783.8 438.2L786 438.2L791.5 449.3L791.5 453.2L778.3 453.2L778.3 449.3zM793 438.1L795.2 438.1L800.7 449.2L800.7 453.1L787.5 453.1L787.5 449.2zM802.1 438.5L804.3 438.5L809.8 449.6L809.8 453.5L796.6 453.5L796.6 449.6zM811.2 439.3L813.4 439.3L818.9 450.4L818.9 454.3L805.7 454.3L805.7 450.4zM820.4 439.5L822.6 439.5L828.1 450.6L828.1 454.5L814.9 454.5L814.9 450.6zM829.5 439L831.7 439L837.2 450.1L837.2 454L824 454L824 450.1zM838.6 439.8L840.8 439.8L846.3 450.9L846.3 454.8L833.1 454.8L833.1 450.9zM847.7 439.9L849.9 439.9L855.4 451L855.4 454.9L842.2 454.9L842.2 451zM856.9 439.4L859.1 439.4L864.6 450.5L864.6 454.4L851.4 454.4L851.4 450.5zM866 439.2L868.2 439.2L873.7 450.3L873.7 454.2L860.5 454.2L860.5 450.3zM875.1 439.4L877.3 439.4L882.8 450.5L882.8 454.4L869.6 454.4L869.6 450.5zM884.3 439.3L886.5 439.3L892 450.4L892 454.3L878.8 454.3L878.8 450.4zM893.4 439.5L895.6 439.5L901.1 450.6L901.1 454.5L887.9 454.5L887.9 450.6zM902.5 440.2L904.7 440.2L910.2 451.3L910.2 455.2L897 455.2L897 451.3zM911.7 440.8L913.9 440.8L919.4 451.9L919.4 455.8L906.2 455.8L906.2 451.9zM920.8 440.8L923 440.8L928.5 451.9L928.5 455.8L915.3 455.8L915.3 451.9zM929.9 440.3L932.1 440.3L937.6 451.4L937.6 455.3L924.4 455.3L924.4 451.4zM939.1 440.6L941.3 440.6L946.8 451.7L946.8 455.6L933.6 455.6L933.6 451.7zM948.2 440.9L950.4 440.9L955.9 452L955.9 455.9L942.7 455.9L942.7 452zM957.3 441.1L959.5 441.1L965 452.2L965 456.1L951.8 456.1L951.8 452.2zM966.4 441.6L968.6 441.6L974.1 452.7L974.1 456.6L960.9 456.6L960.9 452.7zM975.6 441.3L977.8 441.3L983.3 452.4L983.3 456.3L970.1 456.3L970.1 452.4zM984.7 441.6L986.9 441.6L992.4 452.7L992.4 456.6L979.2 456.6L979.2 452.7zM993.8 441.2L996 441.2L1001.5 452.3L1001.5 456.2L988.3 456.2L988.3 452.3zM1003 442.1L1005.2 442.1L1010.7 453.2L1010.7 457.1L997.5 457.1L997.5 453.2zM1012.1 441.5L1014.3 441.5L1019.8 452.6L1019.8 456.5L1006.6 456.5L1006.6 452.6zM1021.2 441.6L1023.4 441.6L1028.9 452.7L1028.9 456.6L1015.7 456.6L1015.7 452.7zM1030.4 442.2L1032.6 442.2L1038.1 453.3L1038.1 457.2L1024.9 457.2L1024.9 453.3zM1039.5 441.5L1041.7 441.5L1047.2 452.6L1047.2 456.5L1034 456.5L1034 452.6zM1048.6 441.5L1050.8 441.5L1056.3 452.6L1056.3 456.5L1043.1 456.5L1043.1 452.6zM1057.8 442.4L1060 442.4L1065.5 453.5L1065.5 457.4L1052.3 457.4L1052.3 453.5zM1066.9 442.4L1069.1 442.4L1074.6 453.5L1074.6 457.4L1061.4 457.4L1061.4 453.5zM1076 441.9L1078.2 441.9L1083.7 453L1083.7 456.9L1070.5 456.9L1070.5 453zM1085.2 441.9L1087.4 441.9L1092.9 453L1092.9 456.9L1079.7 456.9L1079.7 453zM1094.3 441.5L1096.5 441.5L1102 452.6L1102 456.5L1088.8 456.5L1088.8 452.6zM1103.4 441.3L1105.6 441.3L1111.1 452.4L1111.1 456.3L1097.9 456.3L1097.9 452.4zM1112.5 441.2L1114.7 441.2L1120.2 452.3L1120.2 456.2L1107 456.2L1107 452.3zM1121.7 441.3L1123.9 441.3L1129.4 452.4L1129.4 456.3L1116.2 456.3L1116.2 452.4zM1130.8 441L1133 441L1138.5 452.1L1138.5 456L1125.3 456L1125.3 452.1zM1139.9 441.1L1142.1 441.1L1147.6 452.2L1147.6 456.1L1134.4 456.1L1134.4 452.2zM1149.1 441.3L1151.3 441.3L1156.8 452.4L1156.8 456.3L1143.6 456.3L1143.6 452.4zM1158.2 442.4L1160.4 442.4L1165.9 453.5L1165.9 457.4L1152.7 457.4L1152.7 453.5z" fill="#00008f"/>
<path d="M255.3 498.5V554.7M248.6 498.5h13.5M248.6 554.7h13.5M264.5 505V540.4M257.7 505h13.5M257.7 540.4h13.5M273.6 510.9V542.5M266.8 510.9h13.5M266.8 542.5h13.5M282.7 505.5V542.7M276 505.5h13.5M276 542.7h13.5M291.9 512V533.1M285.1 512h13.5M285.1 533.1h13.5M301 505.6V538.1M294.2 505.6h13.5M294.2 538.1h13.5M310.1 496.6V545.9M303.4 496.6h13.5M303.4 545.9h13.5M319.2 509.6V537.2M312.5 509.6h13.5M312.5 537.2h13.5M328.4 511.5V538.9M321.6 511.5h13.5M321.6 538.9h13.5M337.5 515V538.5M330.8 515h13.5M330.8 538.5h13.5M346.6 516.3V542.1M339.9 516.3h13.5M339.9 542.1h13.5M355.8 518.5V543.8M349 518.5h13.5M349 543.8h13.5M364.9 521.3V545.4M358.2 521.3h13.5M358.2 545.4h13.5M374 525.7V545.3M367.3 525.7h13.5M367.3 545.3h13.5M383.2 525.4V550.6M376.4 525.4h13.5M376.4 550.6h13.5M392.3 530.6V548.7M385.5 530.6h13.5M385.5 548.7h13.5M401.4 530.4V553.3M394.7 530.4h13.5M394.7 553.3h13.5M410.6 533.9V555M403.8 533.9h13.5M403.8 555h13.5M419.7 539.4V553M412.9 539.4h13.5M412.9 553h13.5M428.8 539.5V555M422.1 539.5h13.5M422.1 555h13.5M438 541V557.5M431.2 541h13.5M431.2 557.5h13.5M447.1 542.8V558.9M440.3 542.8h13.5M440.3 558.9h13.5M456.2 546V558.1M449.5 546h13.5M449.5 558.1h13.5M465.3 548.4V558.7M458.6 548.4h13.5M458.6 558.7h13.5M474.5 550.7V559.8M467.7 550.7h13.5M467.7 559.8h13.5M483.6 551.6V561.3M476.9 551.6h13.5M476.9 561.3h13.5M492.7 554.9V560.3M486 554.9h13.5M486 560.3h13.5M501.9 555.9V560.1M495.1 555.9h13.5M495.1 560.1h13.5" fill="none" stroke="#f0a050" stroke-width="1.8"/>
<path d="M255.3 526.6L264.5 522.7L273.6 526.7L282.7 524.1L291.9 522.5L301 521.9L310.1 521.2L319.2 523.4L328.4 525.2L337.5 526.8L346.6 529.2L355.8 531.1L364.9 533.4L374 535.5L383.2 538L392.3 539.6L401.4 541.9L410.6 544.5L419.7 546.2L428.8 547.3L438 549.3L447.1 550.8L456.2 552L465.3 553.5L474.5 555.2L483.6 556.4L492.7 557.6L501.9 558L511 558.6L520.1 559.4L529.3 559.9L538.4 560.5L547.5 561.3L556.7 561.7L565.8 562.2L574.9 562.4L584 563.2L593.2 563.6L602.3 563.9L611.4 564.6L620.6 564.8L629.7 565.4L638.8 565.5L648 565.4L657.1 565.4L666.2 565.7L675.4 566L684.5 566.6L693.6 566.2L702.8 566.4L711.9 566.4L721 567L730.1 567.3L739.3 567.9L748.4 567.7L757.5 567.6L766.7 568.4L775.8 568.4L784.9 568.4L794.1 569L803.2 569.4L812.3 569.5L821.5 569.5L830.6 569.7L839.7 569.5L848.8 569.4L858 569.2L867.1 569.2L876.2 568.9L885.4 568.9L894.5 569.6L903.6 569.9L912.8 570.2L921.9 570.4L931 570.3L940.2 570.3L949.3 570.2L958.4 570.7L967.5 571L976.7 570.9L985.8 570.8L994.9 570.9L1004.1 570.8L1013.2 571L1022.3 570.8L1031.5 570.7L1040.6 570.9L1049.7 571.1L1058.9 571.1L1068 571.8L1077.1 571.8L1086.3 571.6L1095.4 571.9L1104.5 571.6L1113.6 571.5L1122.8 571.8L1131.9 571.8L1141 571.8L1150.2 571.6L1159.3 571.5" fill="none" stroke="#e06400" stroke-width="1.6" stroke-linejoin="round"/>
<path d="M249 519.4h12.6v14.4h-12.6zM258.2 515.5h12.6v14.4h-12.6zM267.3 519.5h12.6v14.4h-12.6zM276.4 516.9h12.6v14.4h-12.6zM285.6 515.3h12.6v14.4h-12.6zM294.7 514.7h12.6v14.4h-12.6zM303.8 514h12.6v14.4h-12.6zM312.9 516.2h12.6v14.4h-12.6zM322.1 518h12.6v14.4h-12.6zM331.2 519.6h12.6v14.4h-12.6zM340.3 522h12.6v14.4h-12.6zM349.5 523.9h12.6v14.4h-12.6zM358.6 526.2h12.6v14.4h-12.6zM367.7 528.3h12.6v14.4h-12.6zM376.9 530.8h12.6v14.4h-12.6zM386 532.4h12.6v14.4h-12.6zM395.1 534.7h12.6v14.4h-12.6zM404.3 537.3h12.6v14.4h-12.6zM413.4 539h12.6v14.4h-12.6zM422.5 540.1h12.6v14.4h-12.6zM431.7 542.1h12.6v14.4h-12.6zM440.8 543.6h12.6v14.4h-12.6zM449.9 544.8h12.6v14.4h-12.6zM459 546.3h12.6v14.4h-12.6zM468.2 548h12.6v14.4h-12.6zM477.3 549.2h12.6v14.4h-12.6zM486.4 550.4h12.6v14.4h-12.6zM495.6 550.8h12.6v14.4h-12.6zM504.7 551.4h12.6v14.4h-12.6zM513.8 552.2h12.6v14.4h-12.6zM523 552.7h12.6v14.4h-12.6zM532.1 553.3h12.6v14.4h-12.6zM541.2 554.1h12.6v14.4h-12.6zM550.4 554.5h12.6v14.4h-12.6zM559.5 555h12.6v14.4h-12.6zM568.6 555.2h12.6v14.4h-12.6zM577.7 556h12.6v14.4h-12.6zM586.9 556.4h12.6v14.4h-12.6zM596 556.7h12.6v14.4h-12.6zM605.1 557.4h12.6v14.4h-12.6zM614.3 557.6h12.6v14.4h-12.6zM623.4 558.2h12.6v14.4h-12.6zM632.5 558.3h12.6v14.4h-12.6zM641.7 558.2h12.6v14.4h-12.6zM650.8 558.2h12.6v14.4h-12.6zM659.9 558.5h12.6v14.4h-12.6zM669.1 558.8h12.6v14.4h-12.6zM678.2 559.4h12.6v14.4h-12.6zM687.3 559h12.6v14.4h-12.6zM696.5 559.2h12.6v14.4h-12.6zM705.6 559.2h12.6v14.4h-12.6zM714.7 559.8h12.6v14.4h-12.6zM723.8 560.1h12.6v14.4h-12.6zM733 560.7h12.6v14.4h-12.6zM742.1 560.5h12.6v14.4h-12.6zM751.2 560.4h12.6v14.4h-12.6zM760.4 561.2h12.6v14.4h-12.6zM769.5 561.2h12.6v14.4h-12.6zM778.6 561.2h12.6v14.4h-12.6zM787.8 561.8h12.6v14.4h-12.6zM796.9 562.2h12.6v14.4h-12.6zM806 562.3h12.6v14.4h-12.6zM815.2 562.3h12.6v14.4h-12.6zM824.3 562.5h12.6v14.4h-12.6zM833.4 562.3h12.6v14.4h-12.6zM842.5 562.2h12.6v14.4h-12.6zM851.7 562h12.6v14.4h-12.6zM860.8 562h12.6v14.4h-12.6zM869.9 561.7h12.6v14.4h-12.6zM879.1 561.7h12.6v14.4h-12.6zM888.2 562.4h12.6v14.4h-12.6zM897.3 562.7h12.6v14.4h-12.6zM906.5 563h12.6v14.4h-12.6zM915.6 563.2h12.6v14.4h-12.6zM924.7 563.1h12.6v14.4h-12.6zM933.9 563.1h12.6v14.4h-12.6zM943 563h12.6v14.4h-12.6zM952.1 563.5h12.6v14.4h-12.6zM961.2 563.8h12.6v14.4h-12.6zM970.4 563.7h12.6v14.4h-12.6zM979.5 563.6h12.6v14.4h-12.6zM988.6 563.7h12.6v14.4h-12.6zM997.8 563.6h12.6v14.4h-12.6zM1006.9 563.8h12.6v14.4h-12.6zM1016 563.6h12.6v14.4h-12.6zM1025.2 563.5h12.6v14.4h-12.6zM1034.3 563.7h12.6v14.4h-12.6zM1043.4 563.9h12.6v14.4h-12.6zM1052.6 563.9h12.6v14.4h-12.6zM1061.7 564.6h12.6v14.4h-12.6zM1070.8 564.6h12.6v14.4h-12.6zM1080 564.4h12.6v14.4h-12.6zM1089.1 564.7h12.6v14.4h-12.6zM1098.2 564.4h12.6v14.4h-12.6zM1107.3 564.3h12.6v14.4h-12.6zM1116.5 564.6h12.6v14.4h-12.6zM1125.6 564.6h12.6v14.4h-12.6zM1134.7 564.6h12.6v14.4h-12.6zM1143.9 564.4h12.6v14.4h-12.6zM1153 564.3h12.6v14.4h-12.6z" fill="#e06400"/>
<path d="M255.3 476.3V546.9M248.6 476.3h13.5M248.6 546.9h13.5M264.5 402.2V562.1M257.7 402.2h13.5M257.7 562.1h13.5M273.6 494.6V533.7M266.8 494.6h13.5M266.8 533.7h13.5M282.7 528.8V563.6M276 528.8h13.5M276 563.6h13.5M291.9 509.3V544.6M285.1 509.3h13.5M285.1 544.6h13.5M301 521.9V567.8M294.2 521.9h13.5M294.2 567.8h13.5M310.1 525.6V569.3M303.4 525.6h13.5M303.4 569.3h13.5M319.2 536.7V571M312.5 536.7h13.5M312.5 571h13.5M328.4 534.2V579.5M321.6 534.2h13.5M321.6 579.5h13.5M337.5 544V574.2M330.8 544h13.5M330.8 574.2h13.5M346.6 541.8V579.3M339.9 541.8h13.5M339.9 579.3h13.5M355.8 548.3V575.3M349 548.3h13.5M349 575.3h13.5M364.9 550.8V576.8M358.2 550.8h13.5M358.2 576.8h13.5M374 548.6V581.6M367.3 548.6h13.5M367.3 581.6h13.5M383.2 553.8V579.1M376.4 553.8h13.5M376.4 579.1h13.5M392.3 550.5V583.8M385.5 550.5h13.5M385.5 583.8h13.5M401.4 557.3V583.4M394.7 557.3h13.5M394.7 583.4h13.5M410.6 561.3V582.5M403.8 561.3h13.5M403.8 582.5h13.5M419.7 562.2V583M412.9 562.2h13.5M412.9 583h13.5M428.8 563.4V585.5M422.1 563.4h13.5M422.1 585.5h13.5M438 564V588.1M431.2 564h13.5M431.2 588.1h13.5M447.1 562.9V589.3M440.3 562.9h13.5M440.3 589.3h13.5M456.2 569.2V586.3M449.5 569.2h13.5M449.5 586.3h13.5M465.3 568.7V587.6M458.6 568.7h13.5M458.6 587.6h13.5M474.5 570.6V587.1M467.7 570.6h13.5M467.7 587.1h13.5M483.6 568.7V591.5M476.9 568.7h13.5M476.9 591.5h13.5M492.7 574V588.5M486 574h13.5M486 588.5h13.5M501.9 576.2V589.3M495.1 576.2h13.5M495.1 589.3h13.5M511 578.8V591.4M504.2 578.8h13.5M504.2 591.4h13.5M520.1 578.5V593.1M513.4 578.5h13.5M513.4 593.1h13.5M529.3 578V594.6M522.5 578h13.5M522.5 594.6h13.5M538.4 580.5V595.1M531.6 580.5h13.5M531.6 595.1h13.5M547.5 582.8V594.8M540.8 582.8h13.5M540.8 594.8h13.5M556.7 582.8V594.3M549.9 582.8h13.5M549.9 594.3h13.5M565.8 585.3V594.7M559 585.3h13.5M559 594.7h13.5M574.9 587V592.7M568.2 587h13.5M568.2 592.7h13.5M584 587V590.9M577.3 587h13.5M577.3 590.9h13.5M593.2 588.8V592.5M586.4 588.8h13.5M586.4 592.5h13.5" fill="none" stroke="#ee6a6a" stroke-width="1.8"/>
<path d="M255.3 511.6L264.5 482.1L273.6 514.1L282.7 546.2L291.9 527L301 544.9L310.1 547.5L319.2 553.9L328.4 556.8L337.5 559.1L346.6 560.5L355.8 561.8L364.9 563.8L374 565.1L383.2 566.4L392.3 567.2L401.4 570.3L410.6 571.9L419.7 572.6L428.8 574.4L438 576L447.1 576.1L456.2 577.7L465.3 578.2L474.5 578.9L483.6 580.1L492.7 581.2L501.9 582.7L511 585.1L520.1 585.8L529.3 586.3L538.4 587.8L547.5 588.8L556.7 588.6L565.8 590L574.9 589.9L584 589L593.2 590.6L602.3 591.3L611.4 592.1L620.6 591.2L629.7 591.7L638.8 591.7L648 593.1L657.1 593.4L666.2 593.8L675.4 595.5L684.5 594L693.6 593.7L702.8 595.7L711.9 594.9L721 595.2L730.1 594.9L739.3 594.9L748.4 596.4L757.5 596.4L766.7 595L775.8 595.9L784.9 596.8L794.1 597.8L803.2 598.2L812.3 597.2L821.5 595.5L830.6 595.5L839.7 595.7L848.8 594.3L858 595.7L867.1 596.6L876.2 596.3L885.4 596.1L894.5 597.2L903.6 598.1L912.8 597.4L921.9 597.1L931 598.2L940.2 598L949.3 598.2L958.4 597.5L967.5 597.6L976.7 597.6L985.8 597.8L994.9 596.7L1004.1 595.7L1013.2 596.6L1022.3 596L1031.5 597L1040.6 596.9L1049.7 596.2L1058.9 595.2L1068 596.1L1077.1 596.4L1086.3 596.3L1095.4 597.6L1104.5 597.1L1113.6 597.4L1122.8 596.6L1131.9 597.4L1141 598.5L1150.2 597.5L1159.3 596.7" fill="none" stroke="#c00000" stroke-width="1.6" stroke-linejoin="round"/>
<path d="M248.5 511.6a6.8 7.8 0 1 0 13.6 0a6.8 7.8 0 1 0 -13.6 0zM257.7 482.1a6.8 7.8 0 1 0 13.6 0a6.8 7.8 0 1 0 -13.6 0zM266.8 514.1a6.8 7.8 0 1 0 13.6 0a6.8 7.8 0 1 0 -13.6 0zM275.9 546.2a6.8 7.8 0 1 0 13.6 0a6.8 7.8 0 1 0 -13.6 0zM285.1 527a6.8 7.8 0 1 0 13.6 0a6.8 7.8 0 1 0 -13.6 0zM294.2 544.9a6.8 7.8 0 1 0 13.6 0a6.8 7.8 0 1 0 -13.6 0zM303.3 547.5a6.8 7.8 0 1 0 13.6 0a6.8 7.8 0 1 0 -13.6 0zM312.4 553.9a6.8 7.8 0 1 0 13.6 0a6.8 7.8 0 1 0 -13.6 0zM321.6 556.8a6.8 7.8 0 1 0 13.6 0a6.8 7.8 0 1 0 -13.6 0zM330.7 559.1a6.8 7.8 0 1 0 13.6 0a6.8 7.8 0 1 0 -13.6 0zM339.8 560.5a6.8 7.8 0 1 0 13.6 0a6.8 7.8 0 1 0 -13.6 0zM349 561.8a6.8 7.8 0 1 0 13.6 0a6.8 7.8 0 1 0 -13.6 0zM358.1 563.8a6.8 7.8 0 1 0 13.6 0a6.8 7.8 0 1 0 -13.6 0zM367.2 565.1a6.8 7.8 0 1 0 13.6 0a6.8 7.8 0 1 0 -13.6 0zM376.4 566.4a6.8 7.8 0 1 0 13.6 0a6.8 7.8 0 1 0 -13.6 0zM385.5 567.2a6.8 7.8 0 1 0 13.6 0a6.8 7.8 0 1 0 -13.6 0zM394.6 570.3a6.8 7.8 0 1 0 13.6 0a6.8 7.8 0 1 0 -13.6 0zM403.8 571.9a6.8 7.8 0 1 0 13.6 0a6.8 7.8 0 1 0 -13.6 0zM412.9 572.6a6.8 7.8 0 1 0 13.6 0a6.8 7.8 0 1 0 -13.6 0zM422 574.4a6.8 7.8 0 1 0 13.6 0a6.8 7.8 0 1 0 -13.6 0zM431.2 576a6.8 7.8 0 1 0 13.6 0a6.8 7.8 0 1 0 -13.6 0zM440.3 576.1a6.8 7.8 0 1 0 13.6 0a6.8 7.8 0 1 0 -13.6 0zM449.4 577.7a6.8 7.8 0 1 0 13.6 0a6.8 7.8 0 1 0 -13.6 0zM458.5 578.2a6.8 7.8 0 1 0 13.6 0a6.8 7.8 0 1 0 -13.6 0zM467.7 578.9a6.8 7.8 0 1 0 13.6 0a6.8 7.8 0 1 0 -13.6 0zM476.8 580.1a6.8 7.8 0 1 0 13.6 0a6.8 7.8 0 1 0 -13.6 0zM485.9 581.2a6.8 7.8 0 1 0 13.6 0a6.8 7.8 0 1 0 -13.6 0zM495.1 582.7a6.8 7.8 0 1 0 13.6 0a6.8 7.8 0 1 0 -13.6 0zM504.2 585.1a6.8 7.8 0 1 0 13.6 0a6.8 7.8 0 1 0 -13.6 0zM513.3 585.8a6.8 7.8 0 1 0 13.6 0a6.8 7.8 0 1 0 -13.6 0zM522.5 586.3a6.8 7.8 0 1 0 13.6 0a6.8 7.8 0 1 0 -13.6 0zM531.6 587.8a6.8 7.8 0 1 0 13.6 0a6.8 7.8 0 1 0 -13.6 0zM540.7 588.8a6.8 7.8 0 1 0 13.6 0a6.8 7.8 0 1 0 -13.6 0zM549.9 588.6a6.8 7.8 0 1 0 13.6 0a6.8 7.8 0 1 0 -13.6 0zM559 590a6.8 7.8 0 1 0 13.6 0a6.8 7.8 0 1 0 -13.6 0zM568.1 589.9a6.8 7.8 0 1 0 13.6 0a6.8 7.8 0 1 0 -13.6 0zM577.2 589a6.8 7.8 0 1 0 13.6 0a6.8 7.8 0 1 0 -13.6 0zM586.4 590.6a6.8 7.8 0 1 0 13.6 0a6.8 7.8 0 1 0 -13.6 0zM595.5 591.3a6.8 7.8 0 1 0 13.6 0a6.8 7.8 0 1 0 -13.6 0zM604.6 592.1a6.8 7.8 0 1 0 13.6 0a6.8 7.8 0 1 0 -13.6 0zM613.8 591.2a6.8 7.8 0 1 0 13.6 0a6.8 7.8 0 1 0 -13.6 0zM622.9 591.7a6.8 7.8 0 1 0 13.6 0a6.8 7.8 0 1 0 -13.6 0zM632 591.7a6.8 7.8 0 1 0 13.6 0a6.8 7.8 0 1 0 -13.6 0zM641.2 593.1a6.8 7.8 0 1 0 13.6 0a6.8 7.8 0 1 0 -13.6 0zM650.3 593.4a6.8 7.8 0 1 0 13.6 0a6.8 7.8 0 1 0 -13.6 0zM659.4 593.8a6.8 7.8 0 1 0 13.6 0a6.8 7.8 0 1 0 -13.6 0zM668.6 595.5a6.8 7.8 0 1 0 13.6 0a6.8 7.8 0 1 0 -13.6 0zM677.7 594a6.8 7.8 0 1 0 13.6 0a6.8 7.8 0 1 0 -13.6 0zM686.8 593.7a6.8 7.8 0 1 0 13.6 0a6.8 7.8 0 1 0 -13.6 0zM696 595.7a6.8 7.8 0 1 0 13.6 0a6.8 7.8 0 1 0 -13.6 0zM705.1 594.9a6.8 7.8 0 1 0 13.6 0a6.8 7.8 0 1 0 -13.6 0zM714.2 595.2a6.8 7.8 0 1 0 13.6 0a6.8 7.8 0 1 0 -13.6 0zM723.3 594.9a6.8 7.8 0 1 0 13.6 0a6.8 7.8 0 1 0 -13.6 0zM732.5 594.9a6.8 7.8 0 1 0 13.6 0a6.8 7.8 0 1 0 -13.6 0zM741.6 596.4a6.8 7.8 0 1 0 13.6 0a6.8 7.8 0 1 0 -13.6 0zM750.7 596.4a6.8 7.8 0 1 0 13.6 0a6.8 7.8 0 1 0 -13.6 0zM759.9 595a6.8 7.8 0 1 0 13.6 0a6.8 7.8 0 1 0 -13.6 0zM769 595.9a6.8 7.8 0 1 0 13.6 0a6.8 7.8 0 1 0 -13.6 0zM778.1 596.8a6.8 7.8 0 1 0 13.6 0a6.8 7.8 0 1 0 -13.6 0zM787.3 597.8a6.8 7.8 0 1 0 13.6 0a6.8 7.8 0 1 0 -13.6 0zM796.4 598.2a6.8 7.8 0 1 0 13.6 0a6.8 7.8 0 1 0 -13.6 0zM805.5 597.2a6.8 7.8 0 1 0 13.6 0a6.8 7.8 0 1 0 -13.6 0zM814.7 595.5a6.8 7.8 0 1 0 13.6 0a6.8 7.8 0 1 0 -13.6 0zM823.8 595.5a6.8 7.8 0 1 0 13.6 0a6.8 7.8 0 1 0 -13.6 0zM832.9 595.7a6.8 7.8 0 1 0 13.6 0a6.8 7.8 0 1 0 -13.6 0zM842 594.3a6.8 7.8 0 1 0 13.6 0a6.8 7.8 0 1 0 -13.6 0zM851.2 595.7a6.8 7.8 0 1 0 13.6 0a6.8 7.8 0 1 0 -13.6 0zM860.3 596.6a6.8 7.8 0 1 0 13.6 0a6.8 7.8 0 1 0 -13.6 0zM869.4 596.3a6.8 7.8 0 1 0 13.6 0a6.8 7.8 0 1 0 -13.6 0zM878.6 596.1a6.8 7.8 0 1 0 13.6 0a6.8 7.8 0 1 0 -13.6 0zM887.7 597.2a6.8 7.8 0 1 0 13.6 0a6.8 7.8 0 1 0 -13.6 0zM896.8 598.1a6.8 7.8 0 1 0 13.6 0a6.8 7.8 0 1 0 -13.6 0zM906 597.4a6.8 7.8 0 1 0 13.6 0a6.8 7.8 0 1 0 -13.6 0zM915.1 597.1a6.8 7.8 0 1 0 13.6 0a6.8 7.8 0 1 0 -13.6 0zM924.2 598.2a6.8 7.8 0 1 0 13.6 0a6.8 7.8 0 1 0 -13.6 0zM933.4 598a6.8 7.8 0 1 0 13.6 0a6.8 7.8 0 1 0 -13.6 0zM942.5 598.2a6.8 7.8 0 1 0 13.6 0a6.8 7.8 0 1 0 -13.6 0zM951.6 597.5a6.8 7.8 0 1 0 13.6 0a6.8 7.8 0 1 0 -13.6 0zM960.7 597.6a6.8 7.8 0 1 0 13.6 0a6.8 7.8 0 1 0 -13.6 0zM969.9 597.6a6.8 7.8 0 1 0 13.6 0a6.8 7.8 0 1 0 -13.6 0zM979 597.8a6.8 7.8 0 1 0 13.6 0a6.8 7.8 0 1 0 -13.6 0zM988.1 596.7a6.8 7.8 0 1 0 13.6 0a6.8 7.8 0 1 0 -13.6 0zM997.3 595.7a6.8 7.8 0 1 0 13.6 0a6.8 7.8 0 1 0 -13.6 0zM1006.4 596.6a6.8 7.8 0 1 0 13.6 0a6.8 7.8 0 1 0 -13.6 0zM1015.5 596a6.8 7.8 0 1 0 13.6 0a6.8 7.8 0 1 0 -13.6 0zM1024.7 597a6.8 7.8 0 1 0 13.6 0a6.8 7.8 0 1 0 -13.6 0zM1033.8 596.9a6.8 7.8 0 1 0 13.6 0a6.8 7.8 0 1 0 -13.6 0zM1042.9 596.2a6.8 7.8 0 1 0 13.6 0a6.8 7.8 0 1 0 -13.6 0zM1052.1 595.2a6.8 7.8 0 1 0 13.6 0a6.8 7.8 0 1 0 -13.6 0zM1061.2 596.1a6.8 7.8 0 1 0 13.6 0a6.8 7.8 0 1 0 -13.6 0zM1070.3 596.4a6.8 7.8 0 1 0 13.6 0a6.8 7.8 0 1 0 -13.6 0zM1079.5 596.3a6.8 7.8 0 1 0 13.6 0a6.8 7.8 0 1 0 -13.6 0zM1088.6 597.6a6.8 7.8 0 1 0 13.6 0a6.8 7.8 0 1 0 -13.6 0zM1097.7 597.1a6.8 7.8 0 1 0 13.6 0a6.8 7.8 0 1 0 -13.6 0zM1106.8 597.4a6.8 7.8 0 1 0 13.6 0a6.8 7.8 0 1 0 -13.6 0zM1116 596.6a6.8 7.8 0 1 0 13.6 0a6.8 7.8 0 1 0 -13.6 0zM1125.1 597.4a6.8 7.8 0 1 0 13.6 0a6.8 7.8 0 1 0 -13.6 0zM1134.2 598.5a6.8 7.8 0 1 0 13.6 0a6.8 7.8 0 1 0 -13.6 0zM1143.4 597.5a6.8 7.8 0 1 0 13.6 0a6.8 7.8 0 1 0 -13.6 0zM1152.5 596.7a6.8 7.8 0 1 0 13.6 0a6.8 7.8 0 1 0 -13.6 0z" fill="#c00000"/>
</g>
<g class="t" transform="translate(237 721.5) scale(0.905 1)"><text font-size="48.5" text-anchor="end" clip-path="url(#c1)">0.01</text></g>
<g class="t" transform="translate(237 593.4) scale(0.905 1)"><text font-size="48.5" text-anchor="end">0.02</text></g>
<g class="t" transform="translate(237 465.3) scale(0.905 1)"><text font-size="48.5" text-anchor="end">0.03</text></g>
<g class="t" transform="translate(237 337.2) scale(0.905 1)"><text font-size="48.5" text-anchor="end">0.04</text></g>
<g class="t" transform="translate(237 209.1) scale(0.905 1)"><text font-size="48.5" text-anchor="end">0.05</text></g>
<g class="t" transform="translate(237 81) scale(0.905 1)"><text font-size="48.5" text-anchor="end">0.06</text></g>
<g class="t" transform="translate(337.5 762.3) scale(0.905 1)"><text font-size="48.5" text-anchor="middle" clip-path="url(#c2)">10</text></g>
<g class="t" transform="translate(428.8 762.3) scale(0.905 1)"><text font-size="48.5" text-anchor="middle">20</text></g>
<g class="t" transform="translate(520.1 762.3) scale(0.905 1)"><text font-size="48.5" text-anchor="middle">30</text></g>
<g class="t" transform="translate(611.4 762.3) scale(0.905 1)"><text font-size="48.5" text-anchor="middle">40</text></g>
<g class="t" transform="translate(702.8 762.3) scale(0.905 1)"><text font-size="48.5" text-anchor="middle">50</text></g>
<g class="t" transform="translate(794.1 762.3) scale(0.905 1)"><text font-size="48.5" text-anchor="middle">60</text></g>
<g class="t" transform="translate(885.4 762.3) scale(0.905 1)"><text font-size="48.5" text-anchor="middle">70</text></g>
<g class="t" transform="translate(976.7 762.3) scale(0.905 1)"><text font-size="48.5" text-anchor="middle">80</text></g>
<g class="t" transform="translate(1068 762.3) scale(0.905 1)"><text font-size="48.5" text-anchor="middle">90</text></g>
<g class="t" transform="translate(1159.3 762.3) scale(0.905 1)"><text font-size="48.5" text-anchor="middle" clip-path="url(#c3)">100</text></g>
<g class="tb" transform="translate(707.3 828) scale(0.945 1)"><text font-size="52" text-anchor="middle" clip-path="url(#c4)">Shear rate (1/s)</text></g>
<g class="t eta" transform="translate(128 473) rotate(-90) scale(1.43 1)"><text font-size="45" text-anchor="start">η</text></g>
<g class="t" transform="translate(128 421) rotate(-90)"><text font-size="47" text-anchor="start" letter-spacing="3.0">(Pa.s)</text></g>
<g class="tag" transform="translate(31.5 91.5)"><text font-size="84" text-anchor="start">a)</text></g>
</g>
<g id="panel-b">
<g filter="url(#blur)">
<g fill="#000"><rect x="1391.3" y="52.5" width="9.8" height="652.6"/><rect x="1385.7" y="696.5" width="957.2" height="8.6"/><rect x="1385.7" y="696.6" width="6.6" height="8.4"/><rect x="1385.7" y="481.9" width="6.6" height="8.4"/><rect x="1385.7" y="267.2" width="6.6" height="8.4"/><rect x="1385.7" y="52.5" width="6.6" height="8.4"/><rect x="1480.4" y="700.8" width="8.4" height="9.9"/><rect x="1575.3" y="700.8" width="8.4" height="9.9"/><rect x="1670.2" y="700.8" width="8.4" height="9.9"/><rect x="1765.1" y="700.8" width="8.4" height="9.9"/><rect x="1860" y="700.8" width="8.4" height="9.9"/><rect x="1954.9" y="700.8" width="8.4" height="9.9"/><rect x="2049.8" y="700.8" width="8.4" height="9.9"/><rect x="2144.7" y="700.8" width="8.4" height="9.9"/><rect x="2239.6" y="700.8" width="8.4" height="9.9"/><rect x="2334.5" y="700.8" width="8.4" height="9.9"/></g>
<path d="M1400.9 198.4V211.3M1393.4 198.4h15M1393.4 211.3h15M1410.3 73.9V363.7M1402.8 73.9h15M1402.8 363.7h15M1419.8 200.3V335.6M1412.3 200.3h15M1412.3 335.6h15M1429.3 226.3V346.5M1421.8 226.3h15M1421.8 346.5h15M1438.8 238.1V351.9M1431.3 238.1h15M1431.3 351.9h15M1448.2 249.9V348.7M1440.7 249.9h15M1440.7 348.7h15M1457.7 259.6V347.6M1450.2 259.6h15M1450.2 347.6h15M1467.2 270.4V343.4M1459.7 270.4h15M1459.7 343.4h15M1476.7 275.6V342.2M1469.2 275.6h15M1469.2 342.2h15M1486.1 279.5V341.8M1478.6 279.5h15M1478.6 341.8h15M1495.6 282.8V341.1M1488.1 282.8h15M1488.1 341.1h15M1505.1 283.6V342.4M1497.6 283.6h15M1497.6 342.4h15M1514.5 286.3V341.4M1507 286.3h15M1507 341.4h15M1524 288.2V341.9M1516.5 288.2h15M1516.5 341.9h15M1533.5 288.6V344.2M1526 288.6h15M1526 344.2h15M1543 289.3V344M1535.5 289.3h15M1535.5 344h15M1552.4 293.1V341.3M1544.9 293.1h15M1544.9 341.3h15M1561.9 296.2V341.7M1554.4 296.2h15M1554.4 341.7h15M1571.4 295.8V344M1563.9 295.8h15M1563.9 344h15M1580.9 299.2V342.1M1573.4 299.2h15M1573.4 342.1h15M1590.3 301.1V341.3M1582.8 301.1h15M1582.8 341.3h15M1599.8 299.5V344.4M1592.3 299.5h15M1592.3 344.4h15M1609.3 302.8V343.1M1601.8 302.8h15M1601.8 343.1h15M1618.8 303.4V344.7M1611.3 303.4h15M1611.3 344.7h15M1628.2 306.1V343.3M1620.7 306.1h15M1620.7 343.3h15M1637.7 305.6V344.8M1630.2 305.6h15M1630.2 344.8h15M1647.2 308.3V344.2M1639.7 308.3h15M1639.7 344.2h15M1656.6 310.5V343.8M1649.1 310.5h15M1649.1 343.8h15M1666.1 311.9V343.6M1658.6 311.9h15M1658.6 343.6h15M1675.6 312V345.8M1668.1 312h15M1668.1 345.8h15M1685.1 312.7V346.1M1677.6 312.7h15M1677.6 346.1h15M1694.5 313V346.9M1687 313h15M1687 346.9h15M1704 315.9V344.8M1696.5 315.9h15M1696.5 344.8h15M1713.5 315.8V346.4M1706 315.8h15M1706 346.4h15M1723 317.6V346.2M1715.5 317.6h15M1715.5 346.2h15M1732.4 318.1V346.9M1724.9 318.1h15M1724.9 346.9h15M1741.9 319.7V346.4M1734.4 319.7h15M1734.4 346.4h15M1751.4 320.3V347.2M1743.9 320.3h15M1743.9 347.2h15M1760.8 320.5V348M1753.3 320.5h15M1753.3 348h15M1770.3 320.3V349M1762.8 320.3h15M1762.8 349h15M1779.8 322.4V347.2M1772.3 322.4h15M1772.3 347.2h15M1789.3 322V347.9M1781.8 322h15M1781.8 347.9h15M1798.7 322.4V349.2M1791.2 322.4h15M1791.2 349.2h15M1808.2 323V349.9M1800.7 323h15M1800.7 349.9h15M1817.7 325.8V349.2M1810.2 325.8h15M1810.2 349.2h15M1827.2 325.8V348.6M1819.7 325.8h15M1819.7 348.6h15M1836.6 325.2V350.6M1829.1 325.2h15M1829.1 350.6h15M1846.1 325.7V350.8M1838.6 325.7h15M1838.6 350.8h15M1855.6 327.2V349.9M1848.1 327.2h15M1848.1 349.9h15M1865.1 329V349.7M1857.6 329h15M1857.6 349.7h15M1874.5 327.5V351.2M1867 327.5h15M1867 351.2h15M1884 328.8V350.4M1876.5 328.8h15M1876.5 350.4h15M1893.5 328.7V352M1886 328.7h15M1886 352h15M1902.9 329.3V351.4M1895.4 329.3h15M1895.4 351.4h15M1912.4 328.9V351.6M1904.9 328.9h15M1904.9 351.6h15M1921.9 331V351.2M1914.4 331h15M1914.4 351.2h15M1931.4 329.9V352.1M1923.9 329.9h15M1923.9 352.1h15M1940.8 331.1V351.3M1933.3 331.1h15M1933.3 351.3h15M1950.3 331.1V351.7M1942.8 331.1h15M1942.8 351.7h15M1959.8 330.6V352.6M1952.3 330.6h15M1952.3 352.6h15M1969.3 330.6V352.4M1961.8 330.6h15M1961.8 352.4h15M1978.7 332.2V351.6M1971.2 332.2h15M1971.2 351.6h15M1988.2 332.2V351.6M1980.7 332.2h15M1980.7 351.6h15M1997.7 332.4V352.3M1990.2 332.4h15M1990.2 352.3h15M2007.1 332.3V352.4M1999.6 332.3h15M1999.6 352.4h15M2016.6 333V352.6M2009.1 333h15M2009.1 352.6h15M2026.1 333.6V352.2M2018.6 333.6h15M2018.6 352.2h15M2035.6 333.2V352M2028.1 333.2h15M2028.1 352h15M2045 332.7V352.9M2037.5 332.7h15M2037.5 352.9h15M2054.5 332.9V353.4M2047 332.9h15M2047 353.4h15M2064 334.7V352.6M2056.5 334.7h15M2056.5 352.6h15M2073.5 334.2V353.7M2066 334.2h15M2066 353.7h15M2082.9 333.9V354M2075.4 333.9h15M2075.4 354h15M2092.4 334.8V352.7M2084.9 334.8h15M2084.9 352.7h15M2101.9 333.7V354M2094.4 333.7h15M2094.4 354h15M2111.3 334.9V353M2103.8 334.9h15M2103.8 353h15M2120.8 334.5V354M2113.3 334.5h15M2113.3 354h15M2130.3 334.4V353.8M2122.8 334.4h15M2122.8 353.8h15M2139.8 334.7V354.3M2132.3 334.7h15M2132.3 354.3h15M2149.2 335.6V354.2M2141.7 335.6h15M2141.7 354.2h15M2158.7 335.3V354.2M2151.2 335.3h15M2151.2 354.2h15M2168.2 335.3V354.7M2160.7 335.3h15M2160.7 354.7h15M2177.7 335.8V354.8M2170.2 335.8h15M2170.2 354.8h15M2187.1 335.8V355.4M2179.6 335.8h15M2179.6 355.4h15M2196.6 336.3V355.3M2189.1 336.3h15M2189.1 355.3h15M2206.1 336.3V355.2M2198.6 336.3h15M2198.6 355.2h15M2215.6 337V354.6M2208.1 337h15M2208.1 354.6h15M2225 336.6V356.1M2217.5 336.6h15M2217.5 356.1h15M2234.5 336.8V355.8M2227 336.8h15M2227 355.8h15M2244 337.3V355.5M2236.5 337.3h15M2236.5 355.5h15M2253.4 336.9V356.8M2245.9 336.9h15M2245.9 356.8h15M2262.9 336.8V356.6M2255.4 336.8h15M2255.4 356.6h15M2272.4 337.5V356.4M2264.9 337.5h15M2264.9 356.4h15M2281.9 338.2V356.2M2274.4 338.2h15M2274.4 356.2h15M2291.3 337.7V356.5M2283.8 337.7h15M2283.8 356.5h15M2300.8 338.1V355.9M2293.3 338.1h15M2293.3 355.9h15M2310.3 338.6V356.4M2302.8 338.6h15M2302.8 356.4h15M2319.8 338.2V356.9M2312.3 338.2h15M2312.3 356.9h15M2329.2 339.2V356.9M2321.7 339.2h15M2321.7 356.9h15M2338.7 338.2V356.9M2331.2 338.2h15M2331.2 356.9h15" fill="none" stroke="#a260b2" stroke-width="2.0"/>
<path d="M1400.9 204.8L1410.3 218.8L1419.8 268L1429.3 286.4L1438.8 295L1448.2 299.3L1457.7 303.6L1467.2 306.9L1476.7 308.9L1486.1 310.7L1495.6 311.9L1505.1 313L1514.5 313.9L1524 315.1L1533.5 316.4L1543 316.6L1552.4 317.2L1561.9 319L1571.4 319.9L1580.9 320.7L1590.3 321.2L1599.8 322L1609.3 323L1618.8 324.1L1628.2 324.7L1637.7 325.2L1647.2 326.3L1656.6 327.2L1666.1 327.8L1675.6 328.9L1685.1 329.4L1694.5 330L1704 330.3L1713.5 331.1L1723 331.9L1732.4 332.5L1741.9 333L1751.4 333.7L1760.8 334.3L1770.3 334.6L1779.8 334.8L1789.3 334.9L1798.7 335.8L1808.2 336.4L1817.7 337.5L1827.2 337.2L1836.6 337.9L1846.1 338.3L1855.6 338.5L1865.1 339.3L1874.5 339.4L1884 339.6L1893.5 340.4L1902.9 340.4L1912.4 340.3L1921.9 341.1L1931.4 341L1940.8 341.2L1950.3 341.4L1959.8 341.6L1969.3 341.5L1978.7 341.9L1988.2 341.9L1997.7 342.3L2007.1 342.3L2016.6 342.8L2026.1 342.9L2035.6 342.6L2045 342.8L2054.5 343.1L2064 343.7L2073.5 343.9L2082.9 343.9L2092.4 343.8L2101.9 343.9L2111.3 344L2120.8 344.2L2130.3 344.1L2139.8 344.5L2149.2 344.9L2158.7 344.8L2168.2 345L2177.7 345.3L2187.1 345.6L2196.6 345.8L2206.1 345.7L2215.6 345.8L2225 346.3L2234.5 346.3L2244 346.4L2253.4 346.8L2262.9 346.7L2272.4 347L2281.9 347.2L2291.3 347.1L2300.8 347L2310.3 347.5L2319.8 347.6L2329.2 348L2338.7 347.5" fill="none" stroke="#5a0a78" stroke-width="2.2" stroke-linejoin="round"/>
<path d="M1399.8 212.1L1402 212.1L1407.9 201.4L1407.9 197.6L1393.9 197.6L1393.9 201.4zM1409.2 226L1411.4 226L1417.3 215.3L1417.3 211.5L1403.3 211.5L1403.3 215.3zM1418.7 275.2L1420.9 275.2L1426.8 264.5L1426.8 260.7L1412.8 260.7L1412.8 264.5zM1428.2 293.7L1430.4 293.7L1436.3 282.9L1436.3 279.2L1422.3 279.2L1422.3 282.9zM1437.7 302.3L1439.9 302.3L1445.8 291.5L1445.8 287.8L1431.8 287.8L1431.8 291.5zM1447.1 306.5L1449.3 306.5L1455.2 295.8L1455.2 292L1441.2 292L1441.2 295.8zM1456.6 310.8L1458.8 310.8L1464.7 300.1L1464.7 296.3L1450.7 296.3L1450.7 300.1zM1466.1 314.2L1468.3 314.2L1474.2 303.4L1474.2 299.7L1460.2 299.7L1460.2 303.4zM1475.6 316.1L1477.8 316.1L1483.7 305.4L1483.7 301.6L1469.7 301.6L1469.7 305.4zM1485 317.9L1487.2 317.9L1493.1 307.2L1493.1 303.4L1479.1 303.4L1479.1 307.2zM1494.5 319.2L1496.7 319.2L1502.6 308.4L1502.6 304.7L1488.6 304.7L1488.6 308.4zM1504 320.3L1506.2 320.3L1512.1 309.5L1512.1 305.8L1498.1 305.8L1498.1 309.5zM1513.4 321.1L1515.6 321.1L1521.5 310.4L1521.5 306.6L1507.5 306.6L1507.5 310.4zM1522.9 322.3L1525.1 322.3L1531 311.6L1531 307.8L1517 307.8L1517 311.6zM1532.4 323.7L1534.6 323.7L1540.5 312.9L1540.5 309.2L1526.5 309.2L1526.5 312.9zM1541.9 323.9L1544.1 323.9L1550 313.2L1550 309.4L1536 309.4L1536 313.2zM1551.3 324.4L1553.5 324.4L1559.4 313.7L1559.4 309.9L1545.4 309.9L1545.4 313.7zM1560.8 326.2L1563 326.2L1568.9 315.5L1568.9 311.7L1554.9 311.7L1554.9 315.5zM1570.3 327.1L1572.5 327.1L1578.4 316.4L1578.4 312.6L1564.4 312.6L1564.4 316.4zM1579.8 327.9L1582 327.9L1587.9 317.2L1587.9 313.4L1573.9 313.4L1573.9 317.2zM1589.2 328.5L1591.4 328.5L1597.3 317.8L1597.3 314L1583.3 314L1583.3 317.8zM1598.7 329.2L1600.9 329.2L1606.8 318.5L1606.8 314.7L1592.8 314.7L1592.8 318.5zM1608.2 330.2L1610.4 330.2L1616.3 319.5L1616.3 315.7L1602.3 315.7L1602.3 319.5zM1617.7 331.3L1619.9 331.3L1625.8 320.6L1625.8 316.8L1611.8 316.8L1611.8 320.6zM1627.1 332L1629.3 332L1635.2 321.2L1635.2 317.5L1621.2 317.5L1621.2 321.2zM1636.6 332.4L1638.8 332.4L1644.7 321.7L1644.7 317.9L1630.7 317.9L1630.7 321.7zM1646.1 333.5L1648.3 333.5L1654.2 322.8L1654.2 319L1640.2 319L1640.2 322.8zM1655.5 334.4L1657.7 334.4L1663.6 323.7L1663.6 319.9L1649.6 319.9L1649.6 323.7zM1665 335L1667.2 335L1673.1 324.3L1673.1 320.5L1659.1 320.5L1659.1 324.3zM1674.5 336.2L1676.7 336.2L1682.6 325.4L1682.6 321.7L1668.6 321.7L1668.6 325.4zM1684 336.6L1686.2 336.6L1692.1 325.9L1692.1 322.1L1678.1 322.1L1678.1 325.9zM1693.4 337.2L1695.6 337.2L1701.5 326.5L1701.5 322.7L1687.5 322.7L1687.5 326.5zM1702.9 337.6L1705.1 337.6L1711 326.9L1711 323.1L1697 323.1L1697 326.9zM1712.4 338.4L1714.6 338.4L1720.5 327.6L1720.5 323.9L1706.5 323.9L1706.5 327.6zM1721.9 339.1L1724.1 339.1L1730 328.4L1730 324.6L1716 324.6L1716 328.4zM1731.3 339.7L1733.5 339.7L1739.4 329L1739.4 325.2L1725.4 325.2L1725.4 329zM1740.8 340.3L1743 340.3L1748.9 329.5L1748.9 325.8L1734.9 325.8L1734.9 329.5zM1750.3 341L1752.5 341L1758.4 330.3L1758.4 326.5L1744.4 326.5L1744.4 330.3zM1759.7 341.5L1761.9 341.5L1767.8 330.8L1767.8 327L1753.8 327L1753.8 330.8zM1769.2 341.9L1771.4 341.9L1777.3 331.2L1777.3 327.4L1763.3 327.4L1763.3 331.2zM1778.7 342.1L1780.9 342.1L1786.8 331.3L1786.8 327.6L1772.8 327.6L1772.8 331.3zM1788.2 342.2L1790.4 342.2L1796.3 331.5L1796.3 327.7L1782.3 327.7L1782.3 331.5zM1797.6 343.1L1799.8 343.1L1805.7 332.4L1805.7 328.6L1791.7 328.6L1791.7 332.4zM1807.1 343.7L1809.3 343.7L1815.2 333L1815.2 329.2L1801.2 329.2L1801.2 333zM1816.6 344.8L1818.8 344.8L1824.7 334L1824.7 330.3L1810.7 330.3L1810.7 334zM1826.1 344.5L1828.3 344.5L1834.2 333.7L1834.2 330L1820.2 330L1820.2 333.7zM1835.5 345.1L1837.7 345.1L1843.6 334.4L1843.6 330.6L1829.6 330.6L1829.6 334.4zM1845 345.5L1847.2 345.5L1853.1 334.8L1853.1 331L1839.1 331L1839.1 334.8zM1854.5 345.8L1856.7 345.8L1862.6 335L1862.6 331.3L1848.6 331.3L1848.6 335zM1864 346.6L1866.2 346.6L1872.1 335.8L1872.1 332.1L1858.1 332.1L1858.1 335.8zM1873.4 346.6L1875.6 346.6L1881.5 335.9L1881.5 332.1L1867.5 332.1L1867.5 335.9zM1882.9 346.9L1885.1 346.9L1891 336.2L1891 332.4L1877 332.4L1877 336.2zM1892.4 347.6L1894.6 347.6L1900.5 336.9L1900.5 333.1L1886.5 333.1L1886.5 336.9zM1901.8 347.6L1904 347.6L1909.9 336.9L1909.9 333.1L1895.9 333.1L1895.9 336.9zM1911.3 347.5L1913.5 347.5L1919.4 336.8L1919.4 333L1905.4 333L1905.4 336.8zM1920.8 348.3L1923 348.3L1928.9 337.6L1928.9 333.8L1914.9 333.8L1914.9 337.6zM1930.3 348.3L1932.5 348.3L1938.4 337.5L1938.4 333.8L1924.4 333.8L1924.4 337.5zM1939.7 348.5L1941.9 348.5L1947.8 337.7L1947.8 334L1933.8 334L1933.8 337.7zM1949.2 348.6L1951.4 348.6L1957.3 337.9L1957.3 334.1L1943.3 334.1L1943.3 337.9zM1958.7 348.9L1960.9 348.9L1966.8 338.1L1966.8 334.4L1952.8 334.4L1952.8 338.1zM1968.2 348.8L1970.4 348.8L1976.3 338L1976.3 334.3L1962.3 334.3L1962.3 338zM1977.6 349.2L1979.8 349.2L1985.7 338.4L1985.7 334.7L1971.7 334.7L1971.7 338.4zM1987.1 349.2L1989.3 349.2L1995.2 338.4L1995.2 334.7L1981.2 334.7L1981.2 338.4zM1996.6 349.6L1998.8 349.6L2004.7 338.8L2004.7 335.1L1990.7 335.1L1990.7 338.8zM2006 349.6L2008.2 349.6L2014.1 338.8L2014.1 335.1L2000.1 335.1L2000.1 338.8zM2015.5 350L2017.7 350L2023.6 339.3L2023.6 335.5L2009.6 335.5L2009.6 339.3zM2025 350.2L2027.2 350.2L2033.1 339.5L2033.1 335.7L2019.1 335.7L2019.1 339.5zM2034.5 349.9L2036.7 349.9L2042.6 339.1L2042.6 335.4L2028.6 335.4L2028.6 339.1zM2043.9 350.1L2046.1 350.1L2052 339.3L2052 335.6L2038 335.6L2038 339.3zM2053.4 350.4L2055.6 350.4L2061.5 339.7L2061.5 335.9L2047.5 335.9L2047.5 339.7zM2062.9 350.9L2065.1 350.9L2071 340.2L2071 336.4L2057 336.4L2057 340.2zM2072.4 351.2L2074.6 351.2L2080.5 340.5L2080.5 336.7L2066.5 336.7L2066.5 340.5zM2081.8 351.2L2084 351.2L2089.9 340.4L2089.9 336.7L2075.9 336.7L2075.9 340.4zM2091.3 351L2093.5 351L2099.4 340.3L2099.4 336.5L2085.4 336.5L2085.4 340.3zM2100.8 351.1L2103 351.1L2108.9 340.4L2108.9 336.6L2094.9 336.6L2094.9 340.4zM2110.2 351.2L2112.4 351.2L2118.3 340.5L2118.3 336.7L2104.3 336.7L2104.3 340.5zM2119.7 351.5L2121.9 351.5L2127.8 340.8L2127.8 337L2113.8 337L2113.8 340.8zM2129.2 351.3L2131.4 351.3L2137.3 340.6L2137.3 336.8L2123.3 336.8L2123.3 340.6zM2138.7 351.8L2140.9 351.8L2146.8 341L2146.8 337.3L2132.8 337.3L2132.8 341zM2148.1 352.1L2150.3 352.1L2156.2 341.4L2156.2 337.6L2142.2 337.6L2142.2 341.4zM2157.6 352L2159.8 352L2165.7 341.3L2165.7 337.5L2151.7 337.5L2151.7 341.3zM2167.1 352.3L2169.3 352.3L2175.2 341.5L2175.2 337.8L2161.2 337.8L2161.2 341.5zM2176.6 352.5L2178.8 352.5L2184.7 341.8L2184.7 338L2170.7 338L2170.7 341.8zM2186 352.9L2188.2 352.9L2194.1 342.1L2194.1 338.4L2180.1 338.4L2180.1 342.1zM2195.5 353L2197.7 353L2203.6 342.3L2203.6 338.5L2189.6 338.5L2189.6 342.3zM2205 353L2207.2 353L2213.1 342.2L2213.1 338.5L2199.1 338.5L2199.1 342.2zM2214.5 353.1L2216.7 353.1L2222.6 342.3L2222.6 338.6L2208.6 338.6L2208.6 342.3zM2223.9 353.6L2226.1 353.6L2232 342.9L2232 339.1L2218 339.1L2218 342.9zM2233.4 353.6L2235.6 353.6L2241.5 342.8L2241.5 339.1L2227.5 339.1L2227.5 342.8zM2242.9 353.7L2245.1 353.7L2251 342.9L2251 339.2L2237 339.2L2237 342.9zM2252.3 354.1L2254.5 354.1L2260.4 343.4L2260.4 339.6L2246.4 339.6L2246.4 343.4zM2261.8 354L2264 354L2269.9 343.2L2269.9 339.5L2255.9 339.5L2255.9 343.2zM2271.3 354.2L2273.5 354.2L2279.4 343.5L2279.4 339.7L2265.4 339.7L2265.4 343.5zM2280.8 354.4L2283 354.4L2288.9 343.7L2288.9 339.9L2274.9 339.9L2274.9 343.7zM2290.2 354.4L2292.4 354.4L2298.3 343.6L2298.3 339.9L2284.3 339.9L2284.3 343.6zM2299.7 354.2L2301.9 354.2L2307.8 343.5L2307.8 339.7L2293.8 339.7L2293.8 343.5zM2309.2 354.7L2311.4 354.7L2317.3 344L2317.3 340.2L2303.3 340.2L2303.3 344zM2318.7 354.8L2320.9 354.8L2326.8 344.1L2326.8 340.3L2312.8 340.3L2312.8 344.1zM2328.1 355.3L2330.3 355.3L2336.2 344.5L2336.2 340.8L2322.2 340.8L2322.2 344.5zM2337.6 354.8L2339.8 354.8L2345.7 344L2345.7 340.3L2331.7 340.3L2331.7 344z" fill="#5a0a78"/>
<path d="M1400.9 270.3V362.6M1393.4 270.3h15M1393.4 362.6h15M1410.3 269.3V372.3M1402.8 269.3h15M1402.8 372.3h15M1419.8 358.8V383.7M1412.3 358.8h15M1412.3 383.7h15M1429.3 364.2V389.1M1421.8 364.2h15M1421.8 389.1h15M1438.8 367.7V391.6M1431.3 367.7h15M1431.3 391.6h15M1448.2 369.3V393.9M1440.7 369.3h15M1440.7 393.9h15M1457.7 371V397.4M1450.2 371h15M1450.2 397.4h15M1467.2 372.2V398.1M1459.7 372.2h15M1459.7 398.1h15M1476.7 374.1V399.4M1469.2 374.1h15M1469.2 399.4h15M1486.1 375.4V400.3M1478.6 375.4h15M1478.6 400.3h15M1495.6 376.4V399.1M1488.1 376.4h15M1488.1 399.1h15M1505.1 376.2V400.9M1497.6 376.2h15M1497.6 400.9h15M1514.5 376.7V400.5M1507 376.7h15M1507 400.5h15M1524 378.5V402.7M1516.5 378.5h15M1516.5 402.7h15M1533.5 378.7V403.2M1526 378.7h15M1526 403.2h15M1543 379.9V403.9M1535.5 379.9h15M1535.5 403.9h15M1552.4 379.2V402.1M1544.9 379.2h15M1544.9 402.1h15M1561.9 379.4V403.4M1554.4 379.4h15M1554.4 403.4h15M1571.4 381.4V404.5M1563.9 381.4h15M1563.9 404.5h15M1580.9 380.8V404.7M1573.4 380.8h15M1573.4 404.7h15M1590.3 382.2V403M1582.8 382.2h15M1582.8 403h15M1599.8 381.8V403.3M1592.3 381.8h15M1592.3 403.3h15M1609.3 382.2V403.1M1601.8 382.2h15M1601.8 403.1h15M1618.8 383.2V403.5M1611.3 383.2h15M1611.3 403.5h15M1628.2 383.4V404.6M1620.7 383.4h15M1620.7 404.6h15M1637.7 382.5V404.5M1630.2 382.5h15M1630.2 404.5h15M1647.2 384V404.3M1639.7 384h15M1639.7 404.3h15M1656.6 383.5V404.8M1649.1 383.5h15M1649.1 404.8h15M1666.1 383V404.4M1658.6 383h15M1658.6 404.4h15M1675.6 384.7V404.1M1668.1 384.7h15M1668.1 404.1h15M1685.1 384.7V403.7M1677.6 384.7h15M1677.6 403.7h15M1694.5 384.3V403.7M1687 384.3h15M1687 403.7h15M1704 385.1V405M1696.5 385.1h15M1696.5 405h15M1713.5 384.8V404M1706 384.8h15M1706 404h15M1723 384.5V404.2M1715.5 384.5h15M1715.5 404.2h15M1732.4 385.5V404.2M1724.9 385.5h15M1724.9 404.2h15M1741.9 385.6V404.1M1734.4 385.6h15M1734.4 404.1h15M1751.4 385.7V404.5M1743.9 385.7h15M1743.9 404.5h15M1760.8 386.1V404.5M1753.3 386.1h15M1753.3 404.5h15M1770.3 385V405.3M1762.8 385h15M1762.8 405.3h15M1779.8 385.1V404.7M1772.3 385.1h15M1772.3 404.7h15M1789.3 385V404.5M1781.8 385h15M1781.8 404.5h15M1798.7 386.7V406M1791.2 386.7h15M1791.2 406h15M1808.2 386.1V406M1800.7 386.1h15M1800.7 406h15M1817.7 386.1V406.3M1810.2 386.1h15M1810.2 406.3h15M1827.2 386.3V405.8M1819.7 386.3h15M1819.7 405.8h15M1836.6 386V405.2M1829.1 386h15M1829.1 405.2h15M1846.1 386.6V405.8M1838.6 386.6h15M1838.6 405.8h15M1855.6 387.4V406.3M1848.1 387.4h15M1848.1 406.3h15M1865.1 387.9V407.1M1857.6 387.9h15M1857.6 407.1h15M1874.5 387.6V406.5M1867 387.6h15M1867 406.5h15M1884 388.3V407.3M1876.5 388.3h15M1876.5 407.3h15M1893.5 388.3V407.6M1886 388.3h15M1886 407.6h15M1902.9 387.8V407.3M1895.4 387.8h15M1895.4 407.3h15M1912.4 387.3V407.5M1904.9 387.3h15M1904.9 407.5h15M1921.9 386.9V406.3M1914.4 386.9h15M1914.4 406.3h15M1931.4 387.6V407.8M1923.9 387.6h15M1923.9 407.8h15M1940.8 388.7V407.3M1933.3 388.7h15M1933.3 407.3h15M1950.3 388.3V407.2M1942.8 388.3h15M1942.8 407.2h15M1959.8 388.7V407.7M1952.3 388.7h15M1952.3 407.7h15M1969.3 388V408.2M1961.8 388h15M1961.8 408.2h15M1978.7 388.6V408.7M1971.2 388.6h15M1971.2 408.7h15M1988.2 389.4V407.9M1980.7 389.4h15M1980.7 407.9h15M1997.7 388.6V408.3M1990.2 388.6h15M1990.2 408.3h15M2007.1 388.4V408.6M1999.6 388.4h15M1999.6 408.6h15M2016.6 389.7V409.1M2009.1 389.7h15M2009.1 409.1h15M2026.1 388.8V408.4M2018.6 388.8h15M2018.6 408.4h15M2035.6 390.3V409M2028.1 390.3h15M2028.1 409h15M2045 390V408.9M2037.5 390h15M2037.5 408.9h15M2054.5 390.3V409.8M2047 390.3h15M2047 409.8h15M2064 389.9V409.5M2056.5 389.9h15M2056.5 409.5h15M2073.5 390V410.8M2066 390h15M2066 410.8h15M2082.9 390.4V410M2075.4 390.4h15M2075.4 410h15M2092.4 391V409.8M2084.9 391h15M2084.9 409.8h15M2101.9 390V410.3M2094.4 390h15M2094.4 410.3h15M2111.3 390.8V410M2103.8 390.8h15M2103.8 410h15M2120.8 390.8V409.4M2113.3 390.8h15M2113.3 409.4h15M2130.3 389.8V410.1M2122.8 389.8h15M2122.8 410.1h15M2139.8 390.5V409.7M2132.3 390.5h15M2132.3 409.7h15M2149.2 390.6V410.8M2141.7 390.6h15M2141.7 410.8h15M2158.7 391.1V411.1M2151.2 391.1h15M2151.2 411.1h15M2168.2 390.5V411.1M2160.7 390.5h15M2160.7 411.1h15M2177.7 391.1V410.7M2170.2 391.1h15M2170.2 410.7h15M2187.1 390.5V410.3M2179.6 390.5h15M2179.6 410.3h15M2196.6 390.8V410.5M2189.1 390.8h15M2189.1 410.5h15M2206.1 390.7V410.6M2198.6 390.7h15M2198.6 410.6h15M2215.6 391.2V411.1M2208.1 391.2h15M2208.1 411.1h15M2225 390.9V410.3M2217.5 390.9h15M2217.5 410.3h15M2234.5 391.2V411.3M2227 391.2h15M2227 411.3h15M2244 391.6V410.2M2236.5 391.6h15M2236.5 410.2h15M2253.4 391.9V410.6M2245.9 391.9h15M2245.9 410.6h15M2262.9 391.2V410.6M2255.4 391.2h15M2255.4 410.6h15M2272.4 392.4V411.8M2264.9 392.4h15M2264.9 411.8h15M2281.9 391.3V411.5M2274.4 391.3h15M2274.4 411.5h15M2291.3 392.8V411.6M2283.8 392.8h15M2283.8 411.6h15M2300.8 393.1V412.4M2293.3 393.1h15M2293.3 412.4h15M2310.3 392.7V411.2M2302.8 392.7h15M2302.8 411.2h15M2319.8 391.2V411.3M2312.3 391.2h15M2312.3 411.3h15M2329.2 392.4V411.7M2321.7 392.4h15M2321.7 411.7h15M2338.7 392.8V412.1M2331.2 392.8h15M2331.2 412.1h15" fill="none" stroke="#5858c0" stroke-width="2.0"/>
<path d="M1400.9 316.5L1410.3 320.8L1419.8 371.2L1429.3 376.6L1438.8 379.9L1448.2 382.4L1457.7 384.5L1467.2 385.5L1476.7 386.9L1486.1 388L1495.6 388.6L1505.1 389.4L1514.5 389.7L1524 391.2L1533.5 391.9L1543 392.7L1552.4 392.8L1561.9 392.7L1571.4 393.9L1580.9 394.3L1590.3 394.4L1599.8 394.8L1609.3 395L1618.8 395.7L1628.2 395.7L1637.7 395.8L1647.2 396.1L1656.6 396.6L1666.1 396.6L1675.6 397.1L1685.1 397.1L1694.5 397.4L1704 398L1713.5 398L1723 398L1732.4 397.9L1741.9 398.3L1751.4 398.4L1760.8 398.4L1770.3 398.5L1779.8 398.5L1789.3 398.3L1798.7 398.9L1808.2 399.6L1817.7 399.4L1827.2 399.2L1836.6 399.3L1846.1 399.5L1855.6 399.9L1865.1 400.3L1874.5 400.2L1884 400.6L1893.5 401.1L1902.9 401.2L1912.4 400.6L1921.9 400.4L1931.4 400.9L1940.8 401.3L1950.3 401.4L1959.8 401.7L1969.3 401.4L1978.7 401.7L1988.2 402.1L1997.7 401.8L2007.1 402.2L2016.6 402.2L2026.1 402.4L2035.6 402.6L2045 402.6L2054.5 402.9L2064 403.4L2073.5 403.7L2082.9 403.8L2092.4 403.8L2101.9 403.6L2111.3 403.6L2120.8 403.5L2130.3 403.5L2139.8 403.8L2149.2 404L2158.7 404.4L2168.2 404.3L2177.7 404.1L2187.1 404.1L2196.6 404.2L2206.1 404.3L2215.6 404.2L2225 404.4L2234.5 404.3L2244 404.4L2253.4 404.5L2262.9 404.4L2272.4 404.8L2281.9 405L2291.3 405.3L2300.8 405.5L2310.3 405.1L2319.8 404.9L2329.2 405.2L2338.7 405.3" fill="none" stroke="#00008f" stroke-width="2.2" stroke-linejoin="round"/>
<path d="M1399.8 309.2L1402 309.2L1407.9 320L1407.9 323.7L1393.9 323.7L1393.9 320zM1409.2 313.5L1411.4 313.5L1417.3 324.3L1417.3 328L1403.3 328L1403.3 324.3zM1418.7 364L1420.9 364L1426.8 374.7L1426.8 378.5L1412.8 378.5L1412.8 374.7zM1428.2 369.4L1430.4 369.4L1436.3 380.1L1436.3 383.9L1422.3 383.9L1422.3 380.1zM1437.7 372.7L1439.9 372.7L1445.8 383.4L1445.8 387.2L1431.8 387.2L1431.8 383.4zM1447.1 375.2L1449.3 375.2L1455.2 385.9L1455.2 389.7L1441.2 389.7L1441.2 385.9zM1456.6 377.2L1458.8 377.2L1464.7 387.9L1464.7 391.7L1450.7 391.7L1450.7 387.9zM1466.1 378.3L1468.3 378.3L1474.2 389L1474.2 392.8L1460.2 392.8L1460.2 389zM1475.6 379.6L1477.8 379.6L1483.7 390.4L1483.7 394.1L1469.7 394.1L1469.7 390.4zM1485 380.7L1487.2 380.7L1493.1 391.5L1493.1 395.2L1479.1 395.2L1479.1 391.5zM1494.5 381.3L1496.7 381.3L1502.6 392L1502.6 395.8L1488.6 395.8L1488.6 392zM1504 382.1L1506.2 382.1L1512.1 392.8L1512.1 396.6L1498.1 396.6L1498.1 392.8zM1513.4 382.4L1515.6 382.4L1521.5 393.1L1521.5 396.9L1507.5 396.9L1507.5 393.1zM1522.9 383.9L1525.1 383.9L1531 394.6L1531 398.4L1517 398.4L1517 394.6zM1532.4 384.6L1534.6 384.6L1540.5 395.3L1540.5 399.1L1526.5 399.1L1526.5 395.3zM1541.9 385.4L1544.1 385.4L1550 396.2L1550 399.9L1536 399.9L1536 396.2zM1551.3 385.5L1553.5 385.5L1559.4 396.2L1559.4 400L1545.4 400L1545.4 396.2zM1560.8 385.4L1563 385.4L1568.9 396.2L1568.9 399.9L1554.9 399.9L1554.9 396.2zM1570.3 386.7L1572.5 386.7L1578.4 397.4L1578.4 401.2L1564.4 401.2L1564.4 397.4zM1579.8 387.1L1582 387.1L1587.9 397.8L1587.9 401.6L1573.9 401.6L1573.9 397.8zM1589.2 387.2L1591.4 387.2L1597.3 397.9L1597.3 401.7L1583.3 401.7L1583.3 397.9zM1598.7 387.6L1600.9 387.6L1606.8 398.3L1606.8 402.1L1592.8 402.1L1592.8 398.3zM1608.2 387.7L1610.4 387.7L1616.3 398.4L1616.3 402.2L1602.3 402.2L1602.3 398.4zM1617.7 388.5L1619.9 388.5L1625.8 399.2L1625.8 403L1611.8 403L1611.8 399.2zM1627.1 388.4L1629.3 388.4L1635.2 399.2L1635.2 402.9L1621.2 402.9L1621.2 399.2zM1636.6 388.6L1638.8 388.6L1644.7 399.3L1644.7 403.1L1630.7 403.1L1630.7 399.3zM1646.1 388.9L1648.3 388.9L1654.2 399.6L1654.2 403.4L1640.2 403.4L1640.2 399.6zM1655.5 389.3L1657.7 389.3L1663.6 400L1663.6 403.8L1649.6 403.8L1649.6 400zM1665 389.4L1667.2 389.4L1673.1 400.1L1673.1 403.9L1659.1 403.9L1659.1 400.1zM1674.5 389.8L1676.7 389.8L1682.6 400.5L1682.6 404.3L1668.6 404.3L1668.6 400.5zM1684 389.9L1686.2 389.9L1692.1 400.6L1692.1 404.4L1678.1 404.4L1678.1 400.6zM1693.4 390.2L1695.6 390.2L1701.5 400.9L1701.5 404.7L1687.5 404.7L1687.5 400.9zM1702.9 390.8L1705.1 390.8L1711 401.5L1711 405.3L1697 405.3L1697 401.5zM1712.4 390.7L1714.6 390.7L1720.5 401.5L1720.5 405.2L1706.5 405.2L1706.5 401.5zM1721.9 390.7L1724.1 390.7L1730 401.4L1730 405.2L1716 405.2L1716 401.4zM1731.3 390.6L1733.5 390.6L1739.4 401.4L1739.4 405.1L1725.4 405.1L1725.4 401.4zM1740.8 391L1743 391L1748.9 401.8L1748.9 405.5L1734.9 405.5L1734.9 401.8zM1750.3 391.1L1752.5 391.1L1758.4 401.9L1758.4 405.6L1744.4 405.6L1744.4 401.9zM1759.7 391.1L1761.9 391.1L1767.8 401.9L1767.8 405.6L1753.8 405.6L1753.8 401.9zM1769.2 391.3L1771.4 391.3L1777.3 402L1777.3 405.8L1763.3 405.8L1763.3 402zM1778.7 391.2L1780.9 391.2L1786.8 401.9L1786.8 405.7L1772.8 405.7L1772.8 401.9zM1788.2 391.1L1790.4 391.1L1796.3 401.8L1796.3 405.6L1782.3 405.6L1782.3 401.8zM1797.6 391.7L1799.8 391.7L1805.7 402.4L1805.7 406.2L1791.7 406.2L1791.7 402.4zM1807.1 392.3L1809.3 392.3L1815.2 403L1815.2 406.8L1801.2 406.8L1801.2 403zM1816.6 392.2L1818.8 392.2L1824.7 402.9L1824.7 406.7L1810.7 406.7L1810.7 402.9zM1826.1 392L1828.3 392L1834.2 402.7L1834.2 406.5L1820.2 406.5L1820.2 402.7zM1835.5 392.1L1837.7 392.1L1843.6 402.8L1843.6 406.6L1829.6 406.6L1829.6 402.8zM1845 392.2L1847.2 392.2L1853.1 403L1853.1 406.7L1839.1 406.7L1839.1 403zM1854.5 392.7L1856.7 392.7L1862.6 403.4L1862.6 407.2L1848.6 407.2L1848.6 403.4zM1864 393.1L1866.2 393.1L1872.1 403.8L1872.1 407.6L1858.1 407.6L1858.1 403.8zM1873.4 393L1875.6 393L1881.5 403.7L1881.5 407.5L1867.5 407.5L1867.5 403.7zM1882.9 393.3L1885.1 393.3L1891 404.1L1891 407.8L1877 407.8L1877 404.1zM1892.4 393.8L1894.6 393.8L1900.5 404.5L1900.5 408.3L1886.5 408.3L1886.5 404.5zM1901.8 394L1904 394L1909.9 404.7L1909.9 408.5L1895.9 408.5L1895.9 404.7zM1911.3 393.4L1913.5 393.4L1919.4 404.1L1919.4 407.9L1905.4 407.9L1905.4 404.1zM1920.8 393.2L1923 393.2L1928.9 403.9L1928.9 407.7L1914.9 407.7L1914.9 403.9zM1930.3 393.7L1932.5 393.7L1938.4 404.4L1938.4 408.2L1924.4 408.2L1924.4 404.4zM1939.7 394L1941.9 394L1947.8 404.8L1947.8 408.5L1933.8 408.5L1933.8 404.8zM1949.2 394.1L1951.4 394.1L1957.3 404.8L1957.3 408.6L1943.3 408.6L1943.3 404.8zM1958.7 394.4L1960.9 394.4L1966.8 405.1L1966.8 408.9L1952.8 408.9L1952.8 405.1zM1968.2 394.2L1970.4 394.2L1976.3 404.9L1976.3 408.7L1962.3 408.7L1962.3 404.9zM1977.6 394.4L1979.8 394.4L1985.7 405.1L1985.7 408.9L1971.7 408.9L1971.7 405.1zM1987.1 394.8L1989.3 394.8L1995.2 405.5L1995.2 409.3L1981.2 409.3L1981.2 405.5zM1996.6 394.6L1998.8 394.6L2004.7 405.3L2004.7 409.1L1990.7 409.1L1990.7 405.3zM2006 394.9L2008.2 394.9L2014.1 405.7L2014.1 409.4L2000.1 409.4L2000.1 405.7zM2015.5 395L2017.7 395L2023.6 405.7L2023.6 409.5L2009.6 409.5L2009.6 405.7zM2025 395.1L2027.2 395.1L2033.1 405.9L2033.1 409.6L2019.1 409.6L2019.1 405.9zM2034.5 395.3L2036.7 395.3L2042.6 406.1L2042.6 409.8L2028.6 409.8L2028.6 406.1zM2043.9 395.4L2046.1 395.4L2052 406.1L2052 409.9L2038 409.9L2038 406.1zM2053.4 395.7L2055.6 395.7L2061.5 406.4L2061.5 410.2L2047.5 410.2L2047.5 406.4zM2062.9 396.1L2065.1 396.1L2071 406.8L2071 410.6L2057 410.6L2057 406.8zM2072.4 396.5L2074.6 396.5L2080.5 407.2L2080.5 411L2066.5 411L2066.5 407.2zM2081.8 396.6L2084 396.6L2089.9 407.3L2089.9 411.1L2075.9 411.1L2075.9 407.3zM2091.3 396.5L2093.5 396.5L2099.4 407.2L2099.4 411L2085.4 411L2085.4 407.2zM2100.8 396.4L2103 396.4L2108.9 407.1L2108.9 410.9L2094.9 410.9L2094.9 407.1zM2110.2 396.3L2112.4 396.3L2118.3 407L2118.3 410.8L2104.3 410.8L2104.3 407zM2119.7 396.2L2121.9 396.2L2127.8 406.9L2127.8 410.7L2113.8 410.7L2113.8 406.9zM2129.2 396.3L2131.4 396.3L2137.3 407L2137.3 410.8L2123.3 410.8L2123.3 407zM2138.7 396.5L2140.9 396.5L2146.8 407.3L2146.8 411L2132.8 411L2132.8 407.3zM2148.1 396.7L2150.3 396.7L2156.2 407.5L2156.2 411.2L2142.2 411.2L2142.2 407.5zM2157.6 397.2L2159.8 397.2L2165.7 407.9L2165.7 411.7L2151.7 411.7L2151.7 407.9zM2167.1 397.1L2169.3 397.1L2175.2 407.8L2175.2 411.6L2161.2 411.6L2161.2 407.8zM2176.6 396.9L2178.8 396.9L2184.7 407.6L2184.7 411.4L2170.7 411.4L2170.7 407.6zM2186 396.8L2188.2 396.8L2194.1 407.5L2194.1 411.3L2180.1 411.3L2180.1 407.5zM2195.5 396.9L2197.7 396.9L2203.6 407.7L2203.6 411.4L2189.6 411.4L2189.6 407.7zM2205 397.1L2207.2 397.1L2213.1 407.8L2213.1 411.6L2199.1 411.6L2199.1 407.8zM2214.5 397L2216.7 397L2222.6 407.7L2222.6 411.5L2208.6 411.5L2208.6 407.7zM2223.9 397.1L2226.1 397.1L2232 407.8L2232 411.6L2218 411.6L2218 407.8zM2233.4 397.1L2235.6 397.1L2241.5 407.8L2241.5 411.6L2227.5 411.6L2227.5 407.8zM2242.9 397.1L2245.1 397.1L2251 407.9L2251 411.6L2237 411.6L2237 407.9zM2252.3 397.3L2254.5 397.3L2260.4 408L2260.4 411.8L2246.4 411.8L2246.4 408zM2261.8 397.2L2264 397.2L2269.9 407.9L2269.9 411.7L2255.9 411.7L2255.9 407.9zM2271.3 397.6L2273.5 397.6L2279.4 408.3L2279.4 412.1L2265.4 412.1L2265.4 408.3zM2280.8 397.8L2283 397.8L2288.9 408.5L2288.9 412.3L2274.9 412.3L2274.9 408.5zM2290.2 398L2292.4 398L2298.3 408.8L2298.3 412.5L2284.3 412.5L2284.3 408.8zM2299.7 398.2L2301.9 398.2L2307.8 409L2307.8 412.7L2293.8 412.7L2293.8 409zM2309.2 397.9L2311.4 397.9L2317.3 408.6L2317.3 412.4L2303.3 412.4L2303.3 408.6zM2318.7 397.7L2320.9 397.7L2326.8 408.4L2326.8 412.2L2312.8 412.2L2312.8 408.4zM2328.1 398L2330.3 398L2336.2 408.7L2336.2 412.5L2322.2 412.5L2322.2 408.7zM2337.6 398L2339.8 398L2345.7 408.8L2345.7 412.5L2331.7 412.5L2331.7 408.8z" fill="#00008f"/>
<path d="M1400.9 617.1V642.8M1393.4 617.1h15M1393.4 642.8h15M1410.3 594.5V699.7M1402.8 594.5h15M1402.8 699.7h15M1419.8 614.5V618.8M1412.3 614.5h15M1412.3 618.8h15" fill="none" stroke="#ee6a6a" stroke-width="2.0"/>
<path d="M1400.9 629.9L1410.3 647.1L1419.8 616.6L1429.3 620.3L1438.8 621L1448.2 621.6L1457.7 622L1467.2 622.4L1476.7 622.6L1486.1 622.8L1495.6 622.9L1505.1 623.2L1514.5 623.2L1524 623.2L1533.5 623.3L1543 623.5L1552.4 623.6L1561.9 623.6L1571.4 623.8L1580.9 624.1L1590.3 624L1599.8 624L1609.3 624.1L1618.8 624L1628.2 624.2L1637.7 624.2L1647.2 624.3L1656.6 624.3L1666.1 624.2L1675.6 624.3L1685.1 624.2L1694.5 624.2L1704 624.3L1713.5 624.4L1723 624.3L1732.4 624.5L1741.9 624.6L1751.4 624.8L1760.8 624.7L1770.3 624.7L1779.8 624.7L1789.3 624.8L1798.7 624.9L1808.2 624.9L1817.7 625.1L1827.2 625L1836.6 625.1L1846.1 625.2L1855.6 625.3L1865.1 625.4L1874.5 625.3L1884 625.2L1893.5 625.4L1902.9 625.3L1912.4 625.3L1921.9 625.4L1931.4 625.5L1940.8 625.6L1950.3 625.6L1959.8 625.5L1969.3 625.6L1978.7 625.7L1988.2 625.7L1997.7 625.8L2007.1 625.7L2016.6 625.8L2026.1 625.8L2035.6 625.8L2045 625.9L2054.5 625.7L2064 625.7L2073.5 625.7L2082.9 625.7L2092.4 625.9L2101.9 626L2111.3 626L2120.8 626.1L2130.3 626L2139.8 626.1L2149.2 626.1L2158.7 626.2L2168.2 626.3L2177.7 626.2L2187.1 626.1L2196.6 626.1L2206.1 626.2L2215.6 626.4L2225 626.4L2234.5 626.2L2244 626.2L2253.4 626.2L2262.9 626.1L2272.4 626.1L2281.9 626.3L2291.3 626.2L2300.8 626.3L2310.3 626.5L2319.8 626.5L2329.2 626.6L2338.7 626.6" fill="none" stroke="#c00000" stroke-width="2.2" stroke-linejoin="round"/>
<path d="M1393.6 622.4h14.5v15h-14.5zM1403.1 639.6h14.5v15h-14.5zM1412.6 609.1h14.5v15h-14.5zM1422 612.8h14.5v15h-14.5zM1431.5 613.5h14.5v15h-14.5zM1441 614.1h14.5v15h-14.5zM1450.5 614.5h14.5v15h-14.5zM1459.9 614.9h14.5v15h-14.5zM1469.4 615.1h14.5v15h-14.5zM1478.9 615.3h14.5v15h-14.5zM1488.4 615.4h14.5v15h-14.5zM1497.8 615.7h14.5v15h-14.5zM1507.3 615.7h14.5v15h-14.5zM1516.8 615.7h14.5v15h-14.5zM1526.2 615.8h14.5v15h-14.5zM1535.7 616h14.5v15h-14.5zM1545.2 616.1h14.5v15h-14.5zM1554.7 616.1h14.5v15h-14.5zM1564.1 616.3h14.5v15h-14.5zM1573.6 616.6h14.5v15h-14.5zM1583.1 616.5h14.5v15h-14.5zM1592.6 616.5h14.5v15h-14.5zM1602 616.6h14.5v15h-14.5zM1611.5 616.5h14.5v15h-14.5zM1621 616.7h14.5v15h-14.5zM1630.4 616.7h14.5v15h-14.5zM1639.9 616.8h14.5v15h-14.5zM1649.4 616.8h14.5v15h-14.5zM1658.9 616.7h14.5v15h-14.5zM1668.3 616.8h14.5v15h-14.5zM1677.8 616.7h14.5v15h-14.5zM1687.3 616.7h14.5v15h-14.5zM1696.8 616.8h14.5v15h-14.5zM1706.2 616.9h14.5v15h-14.5zM1715.7 616.8h14.5v15h-14.5zM1725.2 617h14.5v15h-14.5zM1734.7 617.1h14.5v15h-14.5zM1744.1 617.3h14.5v15h-14.5zM1753.6 617.2h14.5v15h-14.5zM1763.1 617.2h14.5v15h-14.5zM1772.5 617.2h14.5v15h-14.5zM1782 617.3h14.5v15h-14.5zM1791.5 617.4h14.5v15h-14.5zM1801 617.4h14.5v15h-14.5zM1810.4 617.6h14.5v15h-14.5zM1819.9 617.5h14.5v15h-14.5zM1829.4 617.6h14.5v15h-14.5zM1838.9 617.7h14.5v15h-14.5zM1848.3 617.8h14.5v15h-14.5zM1857.8 617.9h14.5v15h-14.5zM1867.3 617.8h14.5v15h-14.5zM1876.7 617.7h14.5v15h-14.5zM1886.2 617.9h14.5v15h-14.5zM1895.7 617.8h14.5v15h-14.5zM1905.2 617.8h14.5v15h-14.5zM1914.6 617.9h14.5v15h-14.5zM1924.1 618h14.5v15h-14.5zM1933.6 618.1h14.5v15h-14.5zM1943.1 618.1h14.5v15h-14.5zM1952.5 618h14.5v15h-14.5zM1962 618.1h14.5v15h-14.5zM1971.5 618.2h14.5v15h-14.5zM1980.9 618.2h14.5v15h-14.5zM1990.4 618.3h14.5v15h-14.5zM1999.9 618.2h14.5v15h-14.5zM2009.4 618.3h14.5v15h-14.5zM2018.8 618.3h14.5v15h-14.5zM2028.3 618.3h14.5v15h-14.5zM2037.8 618.4h14.5v15h-14.5zM2047.3 618.2h14.5v15h-14.5zM2056.7 618.2h14.5v15h-14.5zM2066.2 618.2h14.5v15h-14.5zM2075.7 618.2h14.5v15h-14.5zM2085.2 618.4h14.5v15h-14.5zM2094.6 618.5h14.5v15h-14.5zM2104.1 618.5h14.5v15h-14.5zM2113.6 618.6h14.5v15h-14.5zM2123 618.5h14.5v15h-14.5zM2132.5 618.6h14.5v15h-14.5zM2142 618.6h14.5v15h-14.5zM2151.5 618.7h14.5v15h-14.5zM2160.9 618.8h14.5v15h-14.5zM2170.4 618.7h14.5v15h-14.5zM2179.9 618.6h14.5v15h-14.5zM2189.4 618.6h14.5v15h-14.5zM2198.8 618.7h14.5v15h-14.5zM2208.3 618.9h14.5v15h-14.5zM2217.8 618.9h14.5v15h-14.5zM2227.2 618.7h14.5v15h-14.5zM2236.7 618.7h14.5v15h-14.5zM2246.2 618.7h14.5v15h-14.5zM2255.7 618.6h14.5v15h-14.5zM2265.1 618.6h14.5v15h-14.5zM2274.6 618.8h14.5v15h-14.5zM2284.1 618.7h14.5v15h-14.5zM2293.6 618.8h14.5v15h-14.5zM2303 619h14.5v15h-14.5zM2312.5 619h14.5v15h-14.5zM2322 619.1h14.5v15h-14.5zM2331.5 619.1h14.5v15h-14.5z" fill="#c00000"/>
<path d="M1400.9 627.8V653.5M1393.4 627.8h15M1393.4 653.5h15M1410.3 632.1V645M1402.8 632.1h15M1402.8 645h15M1419.8 638.7V643M1412.3 638.7h15M1412.3 643h15" fill="none" stroke="#f0a050" stroke-width="2.0"/>
<path d="M1400.9 640.6L1410.3 638.6L1419.8 640.9L1429.3 641.1L1438.8 641.5L1448.2 641.6L1457.7 641.9L1467.2 642L1476.7 642.1L1486.1 642.2L1495.6 642.4L1505.1 642.5L1514.5 642.6L1524 642.6L1533.5 642.7L1543 642.8L1552.4 643L1561.9 643.1L1571.4 643.2L1580.9 643.2L1590.3 643.3L1599.8 643.2L1609.3 643.2L1618.8 643.4L1628.2 643.4L1637.7 643.4L1647.2 643.5L1656.6 643.5L1666.1 643.5L1675.6 643.5L1685.1 643.6L1694.5 643.8L1704 643.9L1713.5 643.9L1723 643.9L1732.4 643.8L1741.9 643.9L1751.4 643.9L1760.8 644L1770.3 644.2L1779.8 644.2L1789.3 644.2L1798.7 644.3L1808.2 644.3L1817.7 644.3L1827.2 644.4L1836.6 644.4L1846.1 644.5L1855.6 644.6L1865.1 644.5L1874.5 644.6L1884 644.6L1893.5 644.5L1902.9 644.6L1912.4 644.6L1921.9 644.6L1931.4 644.7L1940.8 644.7L1950.3 644.8L1959.8 644.8L1969.3 644.9L1978.7 644.9L1988.2 644.8L1997.7 644.9L2007.1 644.8L2016.6 644.8L2026.1 644.8L2035.6 645L2045 644.9L2054.5 644.9L2064 645L2073.5 645.1L2082.9 644.9L2092.4 645L2101.9 645.1L2111.3 645.2L2120.8 645.2L2130.3 645.2L2139.8 645.3L2149.2 645.2L2158.7 645.3L2168.2 645.3L2177.7 645.3L2187.1 645.4L2196.6 645.4L2206.1 645.3L2215.6 645.5L2225 645.6L2234.5 645.7L2244 645.8L2253.4 645.7L2262.9 645.8L2272.4 645.7L2281.9 645.6L2291.3 645.8L2300.8 645.8L2310.3 645.9L2319.8 645.8L2329.2 645.9L2338.7 645.9" fill="none" stroke="#e06400" stroke-width="2.2" stroke-linejoin="round"/>
<path d="M1393.4 640.6a7.5 7.8 0 1 0 15 0a7.5 7.8 0 1 0 -15 0zM1402.8 638.6a7.5 7.8 0 1 0 15 0a7.5 7.8 0 1 0 -15 0zM1412.3 640.9a7.5 7.8 0 1 0 15 0a7.5 7.8 0 1 0 -15 0zM1421.8 641.1a7.5 7.8 0 1 0 15 0a7.5 7.8 0 1 0 -15 0zM1431.3 641.5a7.5 7.8 0 1 0 15 0a7.5 7.8 0 1 0 -15 0zM1440.7 641.6a7.5 7.8 0 1 0 15 0a7.5 7.8 0 1 0 -15 0zM1450.2 641.9a7.5 7.8 0 1 0 15 0a7.5 7.8 0 1 0 -15 0zM1459.7 642a7.5 7.8 0 1 0 15 0a7.5 7.8 0 1 0 -15 0zM1469.2 642.1a7.5 7.8 0 1 0 15 0a7.5 7.8 0 1 0 -15 0zM1478.6 642.2a7.5 7.8 0 1 0 15 0a7.5 7.8 0 1 0 -15 0zM1488.1 642.4a7.5 7.8 0 1 0 15 0a7.5 7.8 0 1 0 -15 0zM1497.6 642.5a7.5 7.8 0 1 0 15 0a7.5 7.8 0 1 0 -15 0zM1507 642.6a7.5 7.8 0 1 0 15 0a7.5 7.8 0 1 0 -15 0zM1516.5 642.6a7.5 7.8 0 1 0 15 0a7.5 7.8 0 1 0 -15 0zM1526 642.7a7.5 7.8 0 1 0 15 0a7.5 7.8 0 1 0 -15 0zM1535.5 642.8a7.5 7.8 0 1 0 15 0a7.5 7.8 0 1 0 -15 0zM1544.9 643a7.5 7.8 0 1 0 15 0a7.5 7.8 0 1 0 -15 0zM1554.4 643.1a7.5 7.8 0 1 0 15 0a7.5 7.8 0 1 0 -15 0zM1563.9 643.2a7.5 7.8 0 1 0 15 0a7.5 7.8 0 1 0 -15 0zM1573.4 643.2a7.5 7.8 0 1 0 15 0a7.5 7.8 0 1 0 -15 0zM1582.8 643.3a7.5 7.8 0 1 0 15 0a7.5 7.8 0 1 0 -15 0zM1592.3 643.2a7.5 7.8 0 1 0 15 0a7.5 7.8 0 1 0 -15 0zM1601.8 643.2a7.5 7.8 0 1 0 15 0a7.5 7.8 0 1 0 -15 0zM1611.3 643.4a7.5 7.8 0 1 0 15 0a7.5 7.8 0 1 0 -15 0zM1620.7 643.4a7.5 7.8 0 1 0 15 0a7.5 7.8 0 1 0 -15 0zM1630.2 643.4a7.5 7.8 0 1 0 15 0a7.5 7.8 0 1 0 -15 0zM1639.7 643.5a7.5 7.8 0 1 0 15 0a7.5 7.8 0 1 0 -15 0zM1649.1 643.5a7.5 7.8 0 1 0 15 0a7.5 7.8 0 1 0 -15 0zM1658.6 643.5a7.5 7.8 0 1 0 15 0a7.5 7.8 0 1 0 -15 0zM1668.1 643.5a7.5 7.8 0 1 0 15 0a7.5 7.8 0 1 0 -15 0zM1677.6 643.6a7.5 7.8 0 1 0 15 0a7.5 7.8 0 1 0 -15 0zM1687 643.8a7.5 7.8 0 1 0 15 0a7.5 7.8 0 1 0 -15 0zM1696.5 643.9a7.5 7.8 0 1 0 15 0a7.5 7.8 0 1 0 -15 0zM1706 643.9a7.5 7.8 0 1 0 15 0a7.5 7.8 0 1 0 -15 0zM1715.5 643.9a7.5 7.8 0 1 0 15 0a7.5 7.8 0 1 0 -15 0zM1724.9 643.8a7.5 7.8 0 1 0 15 0a7.5 7.8 0 1 0 -15 0zM1734.4 643.9a7.5 7.8 0 1 0 15 0a7.5 7.8 0 1 0 -15 0zM1743.9 643.9a7.5 7.8 0 1 0 15 0a7.5 7.8 0 1 0 -15 0zM1753.3 644a7.5 7.8 0 1 0 15 0a7.5 7.8 0 1 0 -15 0zM1762.8 644.2a7.5 7.8 0 1 0 15 0a7.5 7.8 0 1 0 -15 0zM1772.3 644.2a7.5 7.8 0 1 0 15 0a7.5 7.8 0 1 0 -15 0zM1781.8 644.2a7.5 7.8 0 1 0 15 0a7.5 7.8 0 1 0 -15 0zM1791.2 644.3a7.5 7.8 0 1 0 15 0a7.5 7.8 0 1 0 -15 0zM1800.7 644.3a7.5 7.8 0 1 0 15 0a7.5 7.8 0 1 0 -15 0zM1810.2 644.3a7.5 7.8 0 1 0 15 0a7.5 7.8 0 1 0 -15 0zM1819.7 644.4a7.5 7.8 0 1 0 15 0a7.5 7.8 0 1 0 -15 0zM1829.1 644.4a7.5 7.8 0 1 0 15 0a7.5 7.8 0 1 0 -15 0zM1838.6 644.5a7.5 7.8 0 1 0 15 0a7.5 7.8 0 1 0 -15 0zM1848.1 644.6a7.5 7.8 0 1 0 15 0a7.5 7.8 0 1 0 -15 0zM1857.6 644.5a7.5 7.8 0 1 0 15 0a7.5 7.8 0 1 0 -15 0zM1867 644.6a7.5 7.8 0 1 0 15 0a7.5 7.8 0 1 0 -15 0zM1876.5 644.6a7.5 7.8 0 1 0 15 0a7.5 7.8 0 1 0 -15 0zM1886 644.5a7.5 7.8 0 1 0 15 0a7.5 7.8 0 1 0 -15 0zM1895.4 644.6a7.5 7.8 0 1 0 15 0a7.5 7.8 0 1 0 -15 0zM1904.9 644.6a7.5 7.8 0 1 0 15 0a7.5 7.8 0 1 0 -15 0zM1914.4 644.6a7.5 7.8 0 1 0 15 0a7.5 7.8 0 1 0 -15 0zM1923.9 644.7a7.5 7.8 0 1 0 15 0a7.5 7.8 0 1 0 -15 0zM1933.3 644.7a7.5 7.8 0 1 0 15 0a7.5 7.8 0 1 0 -15 0zM1942.8 644.8a7.5 7.8 0 1 0 15 0a7.5 7.8 0 1 0 -15 0zM1952.3 644.8a7.5 7.8 0 1 0 15 0a7.5 7.8 0 1 0 -15 0zM1961.8 644.9a7.5 7.8 0 1 0 15 0a7.5 7.8 0 1 0 -15 0zM1971.2 644.9a7.5 7.8 0 1 0 15 0a7.5 7.8 0 1 0 -15 0zM1980.7 644.8a7.5 7.8 0 1 0 15 0a7.5 7.8 0 1 0 -15 0zM1990.2 644.9a7.5 7.8 0 1 0 15 0a7.5 7.8 0 1 0 -15 0zM1999.6 644.8a7.5 7.8 0 1 0 15 0a7.5 7.8 0 1 0 -15 0zM2009.1 644.8a7.5 7.8 0 1 0 15 0a7.5 7.8 0 1 0 -15 0zM2018.6 644.8a7.5 7.8 0 1 0 15 0a7.5 7.8 0 1 0 -15 0zM2028.1 645a7.5 7.8 0 1 0 15 0a7.5 7.8 0 1 0 -15 0zM2037.5 644.9a7.5 7.8 0 1 0 15 0a7.5 7.8 0 1 0 -15 0zM2047 644.9a7.5 7.8 0 1 0 15 0a7.5 7.8 0 1 0 -15 0zM2056.5 645a7.5 7.8 0 1 0 15 0a7.5 7.8 0 1 0 -15 0zM2066 645.1a7.5 7.8 0 1 0 15 0a7.5 7.8 0 1 0 -15 0zM2075.4 644.9a7.5 7.8 0 1 0 15 0a7.5 7.8 0 1 0 -15 0zM2084.9 645a7.5 7.8 0 1 0 15 0a7.5 7.8 0 1 0 -15 0zM2094.4 645.1a7.5 7.8 0 1 0 15 0a7.5 7.8 0 1 0 -15 0zM2103.8 645.2a7.5 7.8 0 1 0 15 0a7.5 7.8 0 1 0 -15 0zM2113.3 645.2a7.5 7.8 0 1 0 15 0a7.5 7.8 0 1 0 -15 0zM2122.8 645.2a7.5 7.8 0 1 0 15 0a7.5 7.8 0 1 0 -15 0zM2132.3 645.3a7.5 7.8 0 1 0 15 0a7.5 7.8 0 1 0 -15 0zM2141.7 645.2a7.5 7.8 0 1 0 15 0a7.5 7.8 0 1 0 -15 0zM2151.2 645.3a7.5 7.8 0 1 0 15 0a7.5 7.8 0 1 0 -15 0zM2160.7 645.3a7.5 7.8 0 1 0 15 0a7.5 7.8 0 1 0 -15 0zM2170.2 645.3a7.5 7.8 0 1 0 15 0a7.5 7.8 0 1 0 -15 0zM2179.6 645.4a7.5 7.8 0 1 0 15 0a7.5 7.8 0 1 0 -15 0zM2189.1 645.4a7.5 7.8 0 1 0 15 0a7.5 7.8 0 1 0 -15 0zM2198.6 645.3a7.5 7.8 0 1 0 15 0a7.5 7.8 0 1 0 -15 0zM2208.1 645.5a7.5 7.8 0 1 0 15 0a7.5 7.8 0 1 0 -15 0zM2217.5 645.6a7.5 7.8 0 1 0 15 0a7.5 7.8 0 1 0 -15 0zM2227 645.7a7.5 7.8 0 1 0 15 0a7.5 7.8 0 1 0 -15 0zM2236.5 645.8a7.5 7.8 0 1 0 15 0a7.5 7.8 0 1 0 -15 0zM2245.9 645.7a7.5 7.8 0 1 0 15 0a7.5 7.8 0 1 0 -15 0zM2255.4 645.8a7.5 7.8 0 1 0 15 0a7.5 7.8 0 1 0 -15 0zM2264.9 645.7a7.5 7.8 0 1 0 15 0a7.5 7.8 0 1 0 -15 0zM2274.4 645.6a7.5 7.8 0 1 0 15 0a7.5 7.8 0 1 0 -15 0zM2283.8 645.8a7.5 7.8 0 1 0 15 0a7.5 7.8 0 1 0 -15 0zM2293.3 645.8a7.5 7.8 0 1 0 15 0a7.5 7.8 0 1 0 -15 0zM2302.8 645.9a7.5 7.8 0 1 0 15 0a7.5 7.8 0 1 0 -15 0zM2312.3 645.8a7.5 7.8 0 1 0 15 0a7.5 7.8 0 1 0 -15 0zM2321.7 645.9a7.5 7.8 0 1 0 15 0a7.5 7.8 0 1 0 -15 0zM2331.2 645.9a7.5 7.8 0 1 0 15 0a7.5 7.8 0 1 0 -15 0z" fill="#e06400"/>
</g>
<g class="tb2" transform="translate(1381.5 714.3) scale(0.93 1)"><text font-size="49.5" text-anchor="end">0.0</text></g>
<g class="tb2" transform="translate(1381.5 499.6) scale(0.93 1)"><text font-size="49.5" text-anchor="end" clip-path="url(#c5)">0.1</text></g>
<g class="tb2" transform="translate(1381.5 284.9) scale(0.93 1)"><text font-size="49.5" text-anchor="end">0.2</text></g>
<g class="tb2" transform="translate(1381.5 70.2) scale(0.93 1)"><text font-size="49.5" text-anchor="end">0.3</text></g>
<g class="tb2" transform="translate(1484.6 759) scale(0.93 1)"><text font-size="49.5" text-anchor="middle" clip-path="url(#c6)">10</text></g>
<g class="tb2" transform="translate(1579.5 759) scale(0.93 1)"><text font-size="49.5" text-anchor="middle">20</text></g>
<g class="tb2" transform="translate(1674.4 759) scale(0.93 1)"><text font-size="49.5" text-anchor="middle">30</text></g>
<g class="tb2" transform="translate(1769.3 759) scale(0.93 1)"><text font-size="49.5" text-anchor="middle">40</text></g>
<g class="tb2" transform="translate(1864.2 759) scale(0.93 1)"><text font-size="49.5" text-anchor="middle">50</text></g>
<g class="tb2" transform="translate(1959.1 759) scale(0.93 1)"><text font-size="49.5" text-anchor="middle">60</text></g>
<g class="tb2" transform="translate(2054 759) scale(0.93 1)"><text font-size="49.5" text-anchor="middle">70</text></g>
<g class="tb2" transform="translate(2148.9 759) scale(0.93 1)"><text font-size="49.5" text-anchor="middle">80</text></g>
<g class="tb2" transform="translate(2243.8 759) scale(0.93 1)"><text font-size="49.5" text-anchor="middle">90</text></g>
<g class="tb2" transform="translate(2338.7 759) scale(0.93 1)"><text font-size="49.5" text-anchor="middle" clip-path="url(#c7)">100</text></g>
<g class="tb3" transform="translate(1868.6 828) scale(0.961 1)"><text font-size="52" text-anchor="middle" clip-path="url(#c4)">Shear rate (1/s)</text></g>
<g class="t eta" transform="translate(1290 460.5) rotate(-90) scale(1.4 1)"><text font-size="45" text-anchor="start">η</text></g>
<g class="t" transform="translate(1290 411) rotate(-90)"><text font-size="47" text-anchor="start" letter-spacing="3.0">(Pa.s)</text></g>
<g class="tag" transform="translate(1208.5 112.5) scale(1.07 1)"><text font-size="86" text-anchor="start">b)</text></g>
</g>
<g id="panel-c">
<g filter="url(#blur)">
<g fill="#000"><rect x="816.1" y="957.1" width="8.4" height="653.6"/><rect x="810.7" y="1602.8" width="942.8" height="8"/><rect x="810.7" y="1602.9" width="6.4" height="7.8"/><rect x="810.7" y="1473.7" width="6.4" height="7.8"/><rect x="810.7" y="1344.6" width="6.4" height="7.8"/><rect x="810.7" y="1215.4" width="6.4" height="7.8"/><rect x="810.7" y="1086.3" width="6.4" height="7.8"/><rect x="810.7" y="957.1" width="6.4" height="7.8"/><rect x="905.1" y="1606.8" width="7.8" height="9.4"/><rect x="998.5" y="1606.8" width="7.8" height="9.4"/><rect x="1091.9" y="1606.8" width="7.8" height="9.4"/><rect x="1185.3" y="1606.8" width="7.8" height="9.4"/><rect x="1278.7" y="1606.8" width="7.8" height="9.4"/><rect x="1372.1" y="1606.8" width="7.8" height="9.4"/><rect x="1465.5" y="1606.8" width="7.8" height="9.4"/><rect x="1558.9" y="1606.8" width="7.8" height="9.4"/><rect x="1652.3" y="1606.8" width="7.8" height="9.4"/><rect x="1745.7" y="1606.8" width="7.8" height="9.4"/></g>
<path d="M824.9 1054V1079.9M817.9 1054h14M817.9 1079.9h14M834.3 1057.9V1078.6M827.3 1057.9h14M827.3 1078.6h14M843.6 1105.7V1126.4M836.6 1105.7h14M836.6 1126.4h14M853 1161.5V1187.3M846 1161.5h14M846 1187.3h14M862.3 1222.2V1248M855.3 1222.2h14M855.3 1248h14M871.6 1285.7V1311.6M864.6 1285.7h14M864.6 1311.6h14M881 1349.8V1370.5M874 1349.8h14M874 1370.5h14M890.3 1398.1V1418.8M883.3 1398.1h14M883.3 1418.8h14M899.7 1442.8V1458.3M892.7 1442.8h14M892.7 1458.3h14M909 1476.4V1491.9M902 1476.4h14M902 1491.9h14M918.3 1503.5V1516.4M911.3 1503.5h14M911.3 1516.4h14M927.7 1526.7V1537.1M920.7 1526.7h14M920.7 1537.1h14" fill="none" stroke="#a260b2" stroke-width="1.6"/>
<path d="M824.9 1067L834.3 1068.2L843.6 1116L853 1174.4L862.3 1235.1L871.6 1298.6L881 1360.1L890.3 1408.4L899.7 1450.5L909 1484.1L918.3 1509.9L927.7 1531.9L937 1547.4L946.4 1556.9L955.7 1562.9L965 1566L974.4 1569.1L983.7 1570.7L993.1 1572.4L1002.4 1574L1011.7 1575L1021.1 1576L1030.4 1577L1039.8 1578L1049.1 1578.9L1058.4 1579.9L1067.8 1580.6L1077.1 1581.4L1086.5 1582.1L1095.8 1582.8L1105.1 1583.3L1114.5 1583.9L1123.8 1584.4L1133.2 1584.9L1142.5 1585.5L1151.8 1586L1161.2 1586.6L1170.5 1587.1L1179.9 1587.7L1189.2 1588.2L1198.5 1588.5L1207.9 1588.8L1217.2 1589.1L1226.6 1589.4L1235.9 1589.8L1245.2 1590.1L1254.6 1590.4L1263.9 1590.7L1273.3 1591L1282.6 1591.3L1291.9 1591.5L1301.3 1591.6L1310.6 1591.8L1320 1591.9L1329.3 1592.1L1338.6 1592.2L1348 1592.4L1357.3 1592.5L1366.7 1592.7L1376 1592.9L1385.3 1593L1394.7 1593.2L1404 1593.3L1413.4 1593.5L1422.7 1593.6L1432 1593.8L1441.4 1593.9L1450.7 1594.1L1460.1 1594.2L1469.4 1594.4L1478.7 1594.5L1488.1 1594.6L1497.4 1594.6L1506.8 1594.7L1516.1 1594.8L1525.4 1594.9L1534.8 1594.9L1544.1 1595L1553.5 1595.1L1562.8 1595.2L1572.1 1595.3L1581.5 1595.3L1590.8 1595.4L1600.2 1595.5L1609.5 1595.6L1618.8 1595.6L1628.2 1595.7L1637.5 1595.8L1646.9 1595.9L1656.2 1596L1665.5 1596L1674.9 1596.1L1684.2 1596.2L1693.6 1596.3L1702.9 1596.3L1712.2 1596.4L1721.6 1596.5L1730.9 1596.6L1740.3 1596.6L1749.6 1596.7" fill="none" stroke="#5a0a78" stroke-width="2.4" stroke-linejoin="round"/>
<path d="M823.8 1074.2L826 1074.2L832.2 1063.5L832.2 1059.7L817.7 1059.7L817.7 1063.5zM833.2 1075.5L835.4 1075.5L841.5 1064.8L841.5 1061L827 1061L827 1064.8zM842.5 1123.3L844.7 1123.3L850.9 1112.5L850.9 1108.8L836.4 1108.8L836.4 1112.5zM851.9 1181.7L854.1 1181.7L860.2 1170.9L860.2 1167.2L845.7 1167.2L845.7 1170.9zM861.2 1242.4L863.4 1242.4L869.6 1231.6L869.6 1227.9L855.1 1227.9L855.1 1231.6zM870.5 1305.9L872.7 1305.9L878.9 1295.2L878.9 1291.4L864.4 1291.4L864.4 1295.2zM879.9 1367.4L882.1 1367.4L888.2 1356.6L888.2 1352.9L873.7 1352.9L873.7 1356.6zM889.2 1415.7L891.4 1415.7L897.6 1404.9L897.6 1401.2L883.1 1401.2L883.1 1404.9zM898.6 1457.8L900.8 1457.8L906.9 1447L906.9 1443.3L892.4 1443.3L892.4 1447zM907.9 1491.4L910.1 1491.4L916.2 1480.6L916.2 1476.9L901.8 1476.9L901.8 1480.6zM917.2 1517.2L919.4 1517.2L925.6 1506.5L925.6 1502.7L911.1 1502.7L911.1 1506.5zM926.6 1539.1L928.8 1539.1L934.9 1528.4L934.9 1524.6L920.4 1524.6L920.4 1528.4zM935.9 1554.6L938.1 1554.6L944.3 1543.9L944.3 1540.1L929.8 1540.1L929.8 1543.9zM945.3 1564.2L947.5 1564.2L953.6 1553.5L953.6 1549.7L939.1 1549.7L939.1 1553.5zM954.6 1570.1L956.8 1570.1L963 1559.4L963 1555.6L948.5 1555.6L948.5 1559.4zM963.9 1573.2L966.1 1573.2L972.3 1562.5L972.3 1558.7L957.8 1558.7L957.8 1562.5zM973.3 1576.3L975.5 1576.3L981.6 1565.6L981.6 1561.8L967.1 1561.8L967.1 1565.6zM982.6 1578L984.8 1578L991 1567.2L991 1563.5L976.5 1563.5L976.5 1567.2zM992 1579.6L994.2 1579.6L1000.3 1568.9L1000.3 1565.1L985.8 1565.1L985.8 1568.9zM1001.3 1581.2L1003.5 1581.2L1009.7 1570.5L1009.7 1566.7L995.2 1566.7L995.2 1570.5zM1010.6 1582.2L1012.8 1582.2L1019 1571.5L1019 1567.7L1004.5 1567.7L1004.5 1571.5zM1020 1583.2L1022.2 1583.2L1028.3 1572.5L1028.3 1568.7L1013.8 1568.7L1013.8 1572.5zM1029.3 1584.2L1031.5 1584.2L1037.7 1573.5L1037.7 1569.7L1023.2 1569.7L1023.2 1573.5zM1038.7 1585.2L1040.9 1585.2L1047 1574.5L1047 1570.7L1032.5 1570.7L1032.5 1574.5zM1048 1586.2L1050.2 1586.2L1056.3 1575.5L1056.3 1571.7L1041.8 1571.7L1041.8 1575.5zM1057.3 1587.2L1059.5 1587.2L1065.7 1576.5L1065.7 1572.7L1051.2 1572.7L1051.2 1576.5zM1066.7 1587.9L1068.9 1587.9L1075 1577.2L1075 1573.4L1060.5 1573.4L1060.5 1577.2zM1076 1588.6L1078.2 1588.6L1084.4 1577.9L1084.4 1574.1L1069.9 1574.1L1069.9 1577.9zM1085.4 1589.3L1087.6 1589.3L1093.7 1578.6L1093.7 1574.8L1079.2 1574.8L1079.2 1578.6zM1094.7 1590L1096.9 1590L1103 1579.3L1103 1575.5L1088.5 1575.5L1088.5 1579.3zM1104 1590.6L1106.2 1590.6L1112.4 1579.8L1112.4 1576.1L1097.9 1576.1L1097.9 1579.8zM1113.4 1591.1L1115.6 1591.1L1121.7 1580.4L1121.7 1576.6L1107.2 1576.6L1107.2 1580.4zM1122.7 1591.7L1124.9 1591.7L1131.1 1580.9L1131.1 1577.2L1116.6 1577.2L1116.6 1580.9zM1132.1 1592.2L1134.3 1592.2L1140.4 1581.5L1140.4 1577.7L1125.9 1577.7L1125.9 1581.5zM1141.4 1592.7L1143.6 1592.7L1149.8 1582L1149.8 1578.2L1135.2 1578.2L1135.2 1582zM1150.7 1593.3L1152.9 1593.3L1159.1 1582.6L1159.1 1578.8L1144.6 1578.8L1144.6 1582.6zM1160.1 1593.8L1162.3 1593.8L1168.4 1583.1L1168.4 1579.3L1153.9 1579.3L1153.9 1583.1zM1169.4 1594.4L1171.6 1594.4L1177.8 1583.6L1177.8 1579.9L1163.3 1579.9L1163.3 1583.6zM1178.8 1594.9L1181 1594.9L1187.1 1584.2L1187.1 1580.4L1172.6 1580.4L1172.6 1584.2zM1188.1 1595.5L1190.3 1595.5L1196.5 1584.7L1196.5 1581L1182 1581L1182 1584.7zM1197.4 1595.8L1199.6 1595.8L1205.8 1585L1205.8 1581.3L1191.3 1581.3L1191.3 1585zM1206.8 1596.1L1209 1596.1L1215.1 1585.3L1215.1 1581.6L1200.6 1581.6L1200.6 1585.3zM1216.1 1596.4L1218.3 1596.4L1224.5 1585.7L1224.5 1581.9L1210 1581.9L1210 1585.7zM1225.5 1596.7L1227.7 1596.7L1233.8 1586L1233.8 1582.2L1219.3 1582.2L1219.3 1586zM1234.8 1597L1237 1597L1243.2 1586.3L1243.2 1582.5L1228.7 1582.5L1228.7 1586.3zM1244.1 1597.3L1246.3 1597.3L1252.5 1586.6L1252.5 1582.8L1238 1582.8L1238 1586.6zM1253.5 1597.6L1255.7 1597.6L1261.8 1586.9L1261.8 1583.1L1247.3 1583.1L1247.3 1586.9zM1262.8 1597.9L1265 1597.9L1271.2 1587.2L1271.2 1583.4L1256.7 1583.4L1256.7 1587.2zM1272.2 1598.2L1274.4 1598.2L1280.5 1587.5L1280.5 1583.7L1266 1583.7L1266 1587.5zM1281.5 1598.6L1283.7 1598.6L1289.8 1587.8L1289.8 1584.1L1275.3 1584.1L1275.3 1587.8zM1290.8 1598.7L1293 1598.7L1299.2 1588L1299.2 1584.2L1284.7 1584.2L1284.7 1588zM1300.2 1598.9L1302.4 1598.9L1308.5 1588.1L1308.5 1584.4L1294 1584.4L1294 1588.1zM1309.5 1599L1311.7 1599L1317.9 1588.3L1317.9 1584.5L1303.4 1584.5L1303.4 1588.3zM1318.9 1599.2L1321.1 1599.2L1327.2 1588.4L1327.2 1584.7L1312.7 1584.7L1312.7 1588.4zM1328.2 1599.3L1330.4 1599.3L1336.6 1588.6L1336.6 1584.8L1322.1 1584.8L1322.1 1588.6zM1337.5 1599.5L1339.7 1599.5L1345.9 1588.8L1345.9 1585L1331.4 1585L1331.4 1588.8zM1346.9 1599.6L1349.1 1599.6L1355.2 1588.9L1355.2 1585.1L1340.7 1585.1L1340.7 1588.9zM1356.2 1599.8L1358.4 1599.8L1364.6 1589.1L1364.6 1585.3L1350.1 1585.3L1350.1 1589.1zM1365.6 1599.9L1367.8 1599.9L1373.9 1589.2L1373.9 1585.4L1359.4 1585.4L1359.4 1589.2zM1374.9 1600.1L1377.1 1600.1L1383.2 1589.4L1383.2 1585.6L1368.8 1585.6L1368.8 1589.4zM1384.2 1600.3L1386.4 1600.3L1392.6 1589.5L1392.6 1585.8L1378.1 1585.8L1378.1 1589.5zM1393.6 1600.4L1395.8 1600.4L1401.9 1589.7L1401.9 1585.9L1387.4 1585.9L1387.4 1589.7zM1402.9 1600.6L1405.1 1600.6L1411.3 1589.8L1411.3 1586.1L1396.8 1586.1L1396.8 1589.8zM1412.3 1600.7L1414.5 1600.7L1420.6 1590L1420.6 1586.2L1406.1 1586.2L1406.1 1590zM1421.6 1600.9L1423.8 1600.9L1430 1590.1L1430 1586.4L1415.5 1586.4L1415.5 1590.1zM1430.9 1601L1433.1 1601L1439.3 1590.3L1439.3 1586.5L1424.8 1586.5L1424.8 1590.3zM1440.3 1601.2L1442.5 1601.2L1448.6 1590.5L1448.6 1586.7L1434.1 1586.7L1434.1 1590.5zM1449.6 1601.3L1451.8 1601.3L1458 1590.6L1458 1586.8L1443.5 1586.8L1443.5 1590.6zM1459 1601.5L1461.2 1601.5L1467.3 1590.8L1467.3 1587L1452.8 1587L1452.8 1590.8zM1468.3 1601.7L1470.5 1601.7L1476.7 1590.9L1476.7 1587.2L1462.2 1587.2L1462.2 1590.9zM1477.6 1601.7L1479.8 1601.7L1486 1591L1486 1587.2L1471.5 1587.2L1471.5 1591zM1487 1601.8L1489.2 1601.8L1495.3 1591.1L1495.3 1587.3L1480.8 1587.3L1480.8 1591.1zM1496.3 1601.9L1498.5 1601.9L1504.7 1591.2L1504.7 1587.4L1490.2 1587.4L1490.2 1591.2zM1505.7 1602L1507.9 1602L1514 1591.2L1514 1587.5L1499.5 1587.5L1499.5 1591.2zM1515 1602L1517.2 1602L1523.3 1591.3L1523.3 1587.5L1508.8 1587.5L1508.8 1591.3zM1524.3 1602.1L1526.5 1602.1L1532.7 1591.4L1532.7 1587.6L1518.2 1587.6L1518.2 1591.4zM1533.7 1602.2L1535.9 1602.2L1542 1591.5L1542 1587.7L1527.5 1587.7L1527.5 1591.5zM1543 1602.3L1545.2 1602.3L1551.4 1591.5L1551.4 1587.8L1536.9 1587.8L1536.9 1591.5zM1552.4 1602.3L1554.6 1602.3L1560.7 1591.6L1560.7 1587.8L1546.2 1587.8L1546.2 1591.6zM1561.7 1602.4L1563.9 1602.4L1570.1 1591.7L1570.1 1587.9L1555.6 1587.9L1555.6 1591.7zM1571 1602.5L1573.2 1602.5L1579.4 1591.8L1579.4 1588L1564.9 1588L1564.9 1591.8zM1580.4 1602.6L1582.6 1602.6L1588.7 1591.9L1588.7 1588.1L1574.2 1588.1L1574.2 1591.9zM1589.7 1602.7L1591.9 1602.7L1598.1 1591.9L1598.1 1588.2L1583.6 1588.2L1583.6 1591.9zM1599.1 1602.7L1601.3 1602.7L1607.4 1592L1607.4 1588.2L1592.9 1588.2L1592.9 1592zM1608.4 1602.8L1610.6 1602.8L1616.8 1592.1L1616.8 1588.3L1602.2 1588.3L1602.2 1592.1zM1617.7 1602.9L1619.9 1602.9L1626.1 1592.2L1626.1 1588.4L1611.6 1588.4L1611.6 1592.2zM1627.1 1603L1629.3 1603L1635.4 1592.2L1635.4 1588.5L1620.9 1588.5L1620.9 1592.2zM1636.4 1603L1638.6 1603L1644.8 1592.3L1644.8 1588.5L1630.3 1588.5L1630.3 1592.3zM1645.8 1603.1L1648 1603.1L1654.1 1592.4L1654.1 1588.6L1639.6 1588.6L1639.6 1592.4zM1655.1 1603.2L1657.3 1603.2L1663.5 1592.5L1663.5 1588.7L1649 1588.7L1649 1592.5zM1664.4 1603.3L1666.6 1603.3L1672.8 1592.5L1672.8 1588.8L1658.3 1588.8L1658.3 1592.5zM1673.8 1603.4L1676 1603.4L1682.1 1592.6L1682.1 1588.9L1667.6 1588.9L1667.6 1592.6zM1683.1 1603.4L1685.3 1603.4L1691.5 1592.7L1691.5 1588.9L1677 1588.9L1677 1592.7zM1692.5 1603.5L1694.7 1603.5L1700.8 1592.8L1700.8 1589L1686.3 1589L1686.3 1592.8zM1701.8 1603.6L1704 1603.6L1710.2 1592.9L1710.2 1589.1L1695.7 1589.1L1695.7 1592.9zM1711.1 1603.7L1713.3 1603.7L1719.5 1592.9L1719.5 1589.2L1705 1589.2L1705 1592.9zM1720.5 1603.7L1722.7 1603.7L1728.8 1593L1728.8 1589.2L1714.3 1589.2L1714.3 1593zM1729.8 1603.8L1732 1603.8L1738.2 1593.1L1738.2 1589.3L1723.7 1589.3L1723.7 1593.1zM1739.2 1603.9L1741.4 1603.9L1747.5 1593.2L1747.5 1589.4L1733 1589.4L1733 1593.2zM1748.5 1604L1750.7 1604L1756.8 1593.2L1756.8 1589.5L1742.3 1589.5L1742.3 1593.2z" fill="#5a0a78"/>
<path d="M824.9 1116.3V1137M817.9 1116.3h14M817.9 1137h14M834.3 1132V1147.5M827.3 1132h14M827.3 1147.5h14M843.6 1156.3V1171.8M836.6 1156.3h14M836.6 1171.8h14M853 1206.4V1232.3M846 1206.4h14M846 1232.3h14M862.3 1270.5V1296.3M855.3 1270.5h14M855.3 1296.3h14M871.6 1332V1352.6M864.6 1332h14M864.6 1352.6h14M881 1386.5V1402M874 1386.5h14M874 1402h14M890.3 1431.2V1446.7M883.3 1431.2h14M883.3 1446.7h14M899.7 1470.4V1483.3M892.7 1470.4h14M892.7 1483.3h14M909 1501.2V1511.5M902 1501.2h14M902 1511.5h14" fill="none" stroke="#5858c0" stroke-width="1.6"/>
<path d="M824.9 1126.6L834.3 1139.8L843.6 1164.1L853 1219.3L862.3 1283.4L871.6 1342.3L881 1394.2L890.3 1438.9L899.7 1476.9L909 1506.3L918.3 1526.7L927.7 1543L937 1556.4L946.4 1564.4L955.7 1568.6L965 1571.2L974.4 1573.7L983.7 1575.1L993.1 1576.5L1002.4 1577.9L1011.7 1578.9L1021.1 1579.9L1030.4 1580.8L1039.8 1581.8L1049.1 1582.8L1058.4 1583.8L1067.8 1584.6L1077.1 1585.4L1086.5 1586.1L1095.8 1586.9L1105.1 1587.4L1114.5 1587.8L1123.8 1588.3L1133.2 1588.8L1142.5 1589.2L1151.8 1589.7L1161.2 1590.2L1170.5 1590.6L1179.9 1591.1L1189.2 1591.6L1198.5 1591.8L1207.9 1592L1217.2 1592.3L1226.6 1592.5L1235.9 1592.7L1245.2 1593L1254.6 1593.2L1263.9 1593.4L1273.3 1593.7L1282.6 1593.9L1291.9 1594L1301.3 1594.1L1310.6 1594.3L1320 1594.4L1329.3 1594.5L1338.6 1594.7L1348 1594.8L1357.3 1594.9L1366.7 1595L1376 1595.2L1385.3 1595.3L1394.7 1595.4L1404 1595.6L1413.4 1595.7L1422.7 1595.8L1432 1596L1441.4 1596.1L1450.7 1596.2L1460.1 1596.3L1469.4 1596.5L1478.7 1596.5L1488.1 1596.6L1497.4 1596.7L1506.8 1596.7L1516.1 1596.8L1525.4 1596.9L1534.8 1597L1544.1 1597L1553.5 1597.1L1562.8 1597.2L1572.1 1597.2L1581.5 1597.3L1590.8 1597.4L1600.2 1597.4L1609.5 1597.5L1618.8 1597.6L1628.2 1597.6L1637.5 1597.7L1646.9 1597.8L1656.2 1597.8L1665.5 1597.9L1674.9 1598L1684.2 1598.1L1693.6 1598.1L1702.9 1598.2L1712.2 1598.3L1721.6 1598.3L1730.9 1598.4L1740.3 1598.5L1749.6 1598.5" fill="none" stroke="#00008f" stroke-width="2.4" stroke-linejoin="round"/>
<path d="M823.8 1119.4L826 1119.4L832.2 1130.1L832.2 1133.9L817.7 1133.9L817.7 1130.1zM833.2 1132.5L835.4 1132.5L841.5 1143.3L841.5 1147L827 1147L827 1143.3zM842.5 1156.8L844.7 1156.8L850.9 1167.6L850.9 1171.3L836.4 1171.3L836.4 1167.6zM851.9 1212.1L854.1 1212.1L860.2 1222.8L860.2 1226.6L845.7 1226.6L845.7 1222.8zM861.2 1276.2L863.4 1276.2L869.6 1286.9L869.6 1290.7L855.1 1290.7L855.1 1286.9zM870.5 1335.1L872.7 1335.1L878.9 1345.8L878.9 1349.6L864.4 1349.6L864.4 1345.8zM879.9 1387L882.1 1387L888.2 1397.7L888.2 1401.5L873.7 1401.5L873.7 1397.7zM889.2 1431.7L891.4 1431.7L897.6 1442.4L897.6 1446.2L883.1 1446.2L883.1 1442.4zM898.6 1469.6L900.8 1469.6L906.9 1480.4L906.9 1484.1L892.4 1484.1L892.4 1480.4zM907.9 1499.1L910.1 1499.1L916.2 1509.8L916.2 1513.6L901.8 1513.6L901.8 1509.8zM917.2 1519.5L919.4 1519.5L925.6 1530.2L925.6 1534L911.1 1534L911.1 1530.2zM926.6 1535.7L928.8 1535.7L934.9 1546.5L934.9 1550.2L920.4 1550.2L920.4 1546.5zM935.9 1549.2L938.1 1549.2L944.3 1559.9L944.3 1563.7L929.8 1563.7L929.8 1559.9zM945.3 1557.2L947.5 1557.2L953.6 1567.9L953.6 1571.7L939.1 1571.7L939.1 1567.9zM954.6 1561.3L956.8 1561.3L963 1572.1L963 1575.8L948.5 1575.8L948.5 1572.1zM963.9 1563.9L966.1 1563.9L972.3 1574.6L972.3 1578.4L957.8 1578.4L957.8 1574.6zM973.3 1566.5L975.5 1566.5L981.6 1577.2L981.6 1581L967.1 1581L967.1 1577.2zM982.6 1567.9L984.8 1567.9L991 1578.6L991 1582.4L976.5 1582.4L976.5 1578.6zM992 1569.2L994.2 1569.2L1000.3 1580L1000.3 1583.7L985.8 1583.7L985.8 1580zM1001.3 1570.6L1003.5 1570.6L1009.7 1581.4L1009.7 1585.1L995.2 1585.1L995.2 1581.4zM1010.6 1571.6L1012.8 1571.6L1019 1582.3L1019 1586.1L1004.5 1586.1L1004.5 1582.3zM1020 1572.6L1022.2 1572.6L1028.3 1583.3L1028.3 1587.1L1013.8 1587.1L1013.8 1583.3zM1029.3 1573.6L1031.5 1573.6L1037.7 1584.3L1037.7 1588.1L1023.2 1588.1L1023.2 1584.3zM1038.7 1574.6L1040.9 1574.6L1047 1585.3L1047 1589.1L1032.5 1589.1L1032.5 1585.3zM1048 1575.6L1050.2 1575.6L1056.3 1586.3L1056.3 1590.1L1041.8 1590.1L1041.8 1586.3zM1057.3 1576.6L1059.5 1576.6L1065.7 1587.3L1065.7 1591.1L1051.2 1591.1L1051.2 1587.3zM1066.7 1577.3L1068.9 1577.3L1075 1588.1L1075 1591.8L1060.5 1591.8L1060.5 1588.1zM1076 1578.1L1078.2 1578.1L1084.4 1588.8L1084.4 1592.6L1069.9 1592.6L1069.9 1588.8zM1085.4 1578.9L1087.6 1578.9L1093.7 1589.6L1093.7 1593.4L1079.2 1593.4L1079.2 1589.6zM1094.7 1579.7L1096.9 1579.7L1103 1590.4L1103 1594.2L1088.5 1594.2L1088.5 1590.4zM1104 1580.1L1106.2 1580.1L1112.4 1590.9L1112.4 1594.6L1097.9 1594.6L1097.9 1590.9zM1113.4 1580.6L1115.6 1580.6L1121.7 1591.3L1121.7 1595.1L1107.2 1595.1L1107.2 1591.3zM1122.7 1581.1L1124.9 1581.1L1131.1 1591.8L1131.1 1595.6L1116.6 1595.6L1116.6 1591.8zM1132.1 1581.5L1134.3 1581.5L1140.4 1592.3L1140.4 1596L1125.9 1596L1125.9 1592.3zM1141.4 1582L1143.6 1582L1149.8 1592.7L1149.8 1596.5L1135.2 1596.5L1135.2 1592.7zM1150.7 1582.5L1152.9 1582.5L1159.1 1593.2L1159.1 1597L1144.6 1597L1144.6 1593.2zM1160.1 1582.9L1162.3 1582.9L1168.4 1593.6L1168.4 1597.4L1153.9 1597.4L1153.9 1593.6zM1169.4 1583.4L1171.6 1583.4L1177.8 1594.1L1177.8 1597.9L1163.3 1597.9L1163.3 1594.1zM1178.8 1583.8L1181 1583.8L1187.1 1594.6L1187.1 1598.3L1172.6 1598.3L1172.6 1594.6zM1188.1 1584.3L1190.3 1584.3L1196.5 1595L1196.5 1598.8L1182 1598.8L1182 1595zM1197.4 1584.5L1199.6 1584.5L1205.8 1595.3L1205.8 1599L1191.3 1599L1191.3 1595.3zM1206.8 1584.8L1209 1584.8L1215.1 1595.5L1215.1 1599.3L1200.6 1599.3L1200.6 1595.5zM1216.1 1585L1218.3 1585L1224.5 1595.7L1224.5 1599.5L1210 1599.5L1210 1595.7zM1225.5 1585.2L1227.7 1585.2L1233.8 1596L1233.8 1599.7L1219.3 1599.7L1219.3 1596zM1234.8 1585.5L1237 1585.5L1243.2 1596.2L1243.2 1600L1228.7 1600L1228.7 1596.2zM1244.1 1585.7L1246.3 1585.7L1252.5 1596.4L1252.5 1600.2L1238 1600.2L1238 1596.4zM1253.5 1585.9L1255.7 1585.9L1261.8 1596.7L1261.8 1600.4L1247.3 1600.4L1247.3 1596.7zM1262.8 1586.2L1265 1586.2L1271.2 1596.9L1271.2 1600.7L1256.7 1600.7L1256.7 1596.9zM1272.2 1586.4L1274.4 1586.4L1280.5 1597.1L1280.5 1600.9L1266 1600.9L1266 1597.1zM1281.5 1586.6L1283.7 1586.6L1289.8 1597.4L1289.8 1601.1L1275.3 1601.1L1275.3 1597.4zM1290.8 1586.8L1293 1586.8L1299.2 1597.5L1299.2 1601.3L1284.7 1601.3L1284.7 1597.5zM1300.2 1586.9L1302.4 1586.9L1308.5 1597.6L1308.5 1601.4L1294 1601.4L1294 1597.6zM1309.5 1587L1311.7 1587L1317.9 1597.8L1317.9 1601.5L1303.4 1601.5L1303.4 1597.8zM1318.9 1587.2L1321.1 1587.2L1327.2 1597.9L1327.2 1601.7L1312.7 1601.7L1312.7 1597.9zM1328.2 1587.3L1330.4 1587.3L1336.6 1598L1336.6 1601.8L1322.1 1601.8L1322.1 1598zM1337.5 1587.4L1339.7 1587.4L1345.9 1598.1L1345.9 1601.9L1331.4 1601.9L1331.4 1598.1zM1346.9 1587.5L1349.1 1587.5L1355.2 1598.3L1355.2 1602L1340.7 1602L1340.7 1598.3zM1356.2 1587.7L1358.4 1587.7L1364.6 1598.4L1364.6 1602.2L1350.1 1602.2L1350.1 1598.4zM1365.6 1587.8L1367.8 1587.8L1373.9 1598.5L1373.9 1602.3L1359.4 1602.3L1359.4 1598.5zM1374.9 1587.9L1377.1 1587.9L1383.2 1598.7L1383.2 1602.4L1368.8 1602.4L1368.8 1598.7zM1384.2 1588.1L1386.4 1588.1L1392.6 1598.8L1392.6 1602.6L1378.1 1602.6L1378.1 1598.8zM1393.6 1588.2L1395.8 1588.2L1401.9 1598.9L1401.9 1602.7L1387.4 1602.7L1387.4 1598.9zM1402.9 1588.3L1405.1 1588.3L1411.3 1599L1411.3 1602.8L1396.8 1602.8L1396.8 1599zM1412.3 1588.4L1414.5 1588.4L1420.6 1599.2L1420.6 1602.9L1406.1 1602.9L1406.1 1599.2zM1421.6 1588.6L1423.8 1588.6L1430 1599.3L1430 1603.1L1415.5 1603.1L1415.5 1599.3zM1430.9 1588.7L1433.1 1588.7L1439.3 1599.4L1439.3 1603.2L1424.8 1603.2L1424.8 1599.4zM1440.3 1588.8L1442.5 1588.8L1448.6 1599.6L1448.6 1603.3L1434.1 1603.3L1434.1 1599.6zM1449.6 1589L1451.8 1589L1458 1599.7L1458 1603.5L1443.5 1603.5L1443.5 1599.7zM1459 1589.1L1461.2 1589.1L1467.3 1599.8L1467.3 1603.6L1452.8 1603.6L1452.8 1599.8zM1468.3 1589.2L1470.5 1589.2L1476.7 1599.9L1476.7 1603.7L1462.2 1603.7L1462.2 1599.9zM1477.6 1589.3L1479.8 1589.3L1486 1600L1486 1603.8L1471.5 1603.8L1471.5 1600zM1487 1589.4L1489.2 1589.4L1495.3 1600.1L1495.3 1603.9L1480.8 1603.9L1480.8 1600.1zM1496.3 1589.4L1498.5 1589.4L1504.7 1600.2L1504.7 1603.9L1490.2 1603.9L1490.2 1600.2zM1505.7 1589.5L1507.9 1589.5L1514 1600.2L1514 1604L1499.5 1604L1499.5 1600.2zM1515 1589.6L1517.2 1589.6L1523.3 1600.3L1523.3 1604.1L1508.8 1604.1L1508.8 1600.3zM1524.3 1589.6L1526.5 1589.6L1532.7 1600.4L1532.7 1604.1L1518.2 1604.1L1518.2 1600.4zM1533.7 1589.7L1535.9 1589.7L1542 1600.4L1542 1604.2L1527.5 1604.2L1527.5 1600.4zM1543 1589.8L1545.2 1589.8L1551.4 1600.5L1551.4 1604.3L1536.9 1604.3L1536.9 1600.5zM1552.4 1589.8L1554.6 1589.8L1560.7 1600.6L1560.7 1604.3L1546.2 1604.3L1546.2 1600.6zM1561.7 1589.9L1563.9 1589.9L1570.1 1600.6L1570.1 1604.4L1555.6 1604.4L1555.6 1600.6zM1571 1590L1573.2 1590L1579.4 1600.7L1579.4 1604.5L1564.9 1604.5L1564.9 1600.7zM1580.4 1590L1582.6 1590L1588.7 1600.8L1588.7 1604.5L1574.2 1604.5L1574.2 1600.8zM1589.7 1590.1L1591.9 1590.1L1598.1 1600.8L1598.1 1604.6L1583.6 1604.6L1583.6 1600.8zM1599.1 1590.2L1601.3 1590.2L1607.4 1600.9L1607.4 1604.7L1592.9 1604.7L1592.9 1600.9zM1608.4 1590.3L1610.6 1590.3L1616.8 1601L1616.8 1604.8L1602.2 1604.8L1602.2 1601zM1617.7 1590.3L1619.9 1590.3L1626.1 1601.1L1626.1 1604.8L1611.6 1604.8L1611.6 1601.1zM1627.1 1590.4L1629.3 1590.4L1635.4 1601.1L1635.4 1604.9L1620.9 1604.9L1620.9 1601.1zM1636.4 1590.5L1638.6 1590.5L1644.8 1601.2L1644.8 1605L1630.3 1605L1630.3 1601.2zM1645.8 1590.5L1648 1590.5L1654.1 1601.3L1654.1 1605L1639.6 1605L1639.6 1601.3zM1655.1 1590.6L1657.3 1590.6L1663.5 1601.3L1663.5 1605.1L1649 1605.1L1649 1601.3zM1664.4 1590.7L1666.6 1590.7L1672.8 1601.4L1672.8 1605.2L1658.3 1605.2L1658.3 1601.4zM1673.8 1590.7L1676 1590.7L1682.1 1601.5L1682.1 1605.2L1667.6 1605.2L1667.6 1601.5zM1683.1 1590.8L1685.3 1590.8L1691.5 1601.5L1691.5 1605.3L1677 1605.3L1677 1601.5zM1692.5 1590.9L1694.7 1590.9L1700.8 1601.6L1700.8 1605.4L1686.3 1605.4L1686.3 1601.6zM1701.8 1590.9L1704 1590.9L1710.2 1601.7L1710.2 1605.4L1695.7 1605.4L1695.7 1601.7zM1711.1 1591L1713.3 1591L1719.5 1601.7L1719.5 1605.5L1705 1605.5L1705 1601.7zM1720.5 1591.1L1722.7 1591.1L1728.8 1601.8L1728.8 1605.6L1714.3 1605.6L1714.3 1601.8zM1729.8 1591.1L1732 1591.1L1738.2 1601.9L1738.2 1605.6L1723.7 1605.6L1723.7 1601.9zM1739.2 1591.2L1741.4 1591.2L1747.5 1601.9L1747.5 1605.7L1733 1605.7L1733 1601.9zM1748.5 1591.3L1750.7 1591.3L1756.8 1602L1756.8 1605.8L1742.3 1605.8L1742.3 1602z" fill="#00008f"/>
<path d="M824.9 1599.8L834.3 1601.1L843.6 1602.4L853 1603.7L862.3 1604.2L871.6 1604.6L881 1605.1L890.3 1605.5L899.7 1605.6L909 1605.7L918.3 1605.8L927.7 1606L937 1606.1L946.4 1606.2L955.7 1606.3L965 1606.3L974.4 1606.3L983.7 1606.3L993.1 1606.3L1002.4 1606.3L1011.7 1606.3L1021.1 1606.3L1030.4 1606.3L1039.8 1606.3L1049.1 1606.3L1058.4 1606.3L1067.8 1606.3L1077.1 1606.3L1086.5 1606.3L1095.8 1606.3L1105.1 1606.3L1114.5 1606.3L1123.8 1606.3L1133.2 1606.3L1142.5 1606.3L1151.8 1606.3L1161.2 1606.4L1170.5 1606.4L1179.9 1606.4L1189.2 1606.4L1198.5 1606.4L1207.9 1606.4L1217.2 1606.4L1226.6 1606.4L1235.9 1606.4L1245.2 1606.4L1254.6 1606.4L1263.9 1606.4L1273.3 1606.4L1282.6 1606.4L1291.9 1606.4L1301.3 1606.4L1310.6 1606.4L1320 1606.4L1329.3 1606.4L1338.6 1606.4L1348 1606.4L1357.3 1606.4L1366.7 1606.4L1376 1606.4L1385.3 1606.4L1394.7 1606.4L1404 1606.4L1413.4 1606.4L1422.7 1606.4L1432 1606.4L1441.4 1606.4L1450.7 1606.4L1460.1 1606.4L1469.4 1606.5L1478.7 1606.5L1488.1 1606.5L1497.4 1606.5L1506.8 1606.5L1516.1 1606.5L1525.4 1606.5L1534.8 1606.5L1544.1 1606.5L1553.5 1606.5L1562.8 1606.5L1572.1 1606.5L1581.5 1606.5L1590.8 1606.5L1600.2 1606.5L1609.5 1606.5L1618.8 1606.5L1628.2 1606.5L1637.5 1606.5L1646.9 1606.5L1656.2 1606.5L1665.5 1606.5L1674.9 1606.5L1684.2 1606.5L1693.6 1606.5L1702.9 1606.5L1712.2 1606.5L1721.6 1606.5L1730.9 1606.5L1740.3 1606.5L1749.6 1606.5" fill="none" stroke="#c00000" stroke-width="2.2" stroke-linejoin="round"/>
<path d="M817.4 1592.3h15v15h-15zM826.8 1593.6h15v15h-15zM836.1 1594.9h15v15h-15zM845.5 1596.2h15v15h-15zM854.8 1596.7h15v15h-15zM864.1 1597.1h15v15h-15zM873.5 1597.6h15v15h-15zM882.8 1598h15v15h-15zM892.2 1598.1h15v15h-15zM901.5 1598.2h15v15h-15zM910.8 1598.3h15v15h-15zM920.2 1598.5h15v15h-15zM929.5 1598.6h15v15h-15zM938.9 1598.7h15v15h-15zM948.2 1598.8h15v15h-15zM957.5 1598.8h15v15h-15zM966.9 1598.8h15v15h-15zM976.2 1598.8h15v15h-15zM985.6 1598.8h15v15h-15zM994.9 1598.8h15v15h-15zM1004.2 1598.8h15v15h-15zM1013.6 1598.8h15v15h-15zM1022.9 1598.8h15v15h-15zM1032.3 1598.8h15v15h-15zM1041.6 1598.8h15v15h-15zM1050.9 1598.8h15v15h-15zM1060.3 1598.8h15v15h-15zM1069.6 1598.8h15v15h-15zM1079 1598.8h15v15h-15zM1088.3 1598.8h15v15h-15zM1097.6 1598.8h15v15h-15zM1107 1598.8h15v15h-15zM1116.3 1598.8h15v15h-15zM1125.7 1598.8h15v15h-15zM1135 1598.8h15v15h-15zM1144.3 1598.8h15v15h-15zM1153.7 1598.9h15v15h-15zM1163 1598.9h15v15h-15zM1172.4 1598.9h15v15h-15zM1181.7 1598.9h15v15h-15zM1191 1598.9h15v15h-15zM1200.4 1598.9h15v15h-15zM1209.7 1598.9h15v15h-15zM1219.1 1598.9h15v15h-15zM1228.4 1598.9h15v15h-15zM1237.7 1598.9h15v15h-15zM1247.1 1598.9h15v15h-15zM1256.4 1598.9h15v15h-15zM1265.8 1598.9h15v15h-15zM1275.1 1598.9h15v15h-15zM1284.4 1598.9h15v15h-15zM1293.8 1598.9h15v15h-15zM1303.1 1598.9h15v15h-15zM1312.5 1598.9h15v15h-15zM1321.8 1598.9h15v15h-15zM1331.1 1598.9h15v15h-15zM1340.5 1598.9h15v15h-15zM1349.8 1598.9h15v15h-15zM1359.2 1598.9h15v15h-15zM1368.5 1598.9h15v15h-15zM1377.8 1598.9h15v15h-15zM1387.2 1598.9h15v15h-15zM1396.5 1598.9h15v15h-15zM1405.9 1598.9h15v15h-15zM1415.2 1598.9h15v15h-15zM1424.5 1598.9h15v15h-15zM1433.9 1598.9h15v15h-15zM1443.2 1598.9h15v15h-15zM1452.6 1598.9h15v15h-15zM1461.9 1599h15v15h-15zM1471.2 1599h15v15h-15zM1480.6 1599h15v15h-15zM1489.9 1599h15v15h-15zM1499.3 1599h15v15h-15zM1508.6 1599h15v15h-15zM1517.9 1599h15v15h-15zM1527.3 1599h15v15h-15zM1536.6 1599h15v15h-15zM1546 1599h15v15h-15zM1555.3 1599h15v15h-15zM1564.6 1599h15v15h-15zM1574 1599h15v15h-15zM1583.3 1599h15v15h-15zM1592.7 1599h15v15h-15zM1602 1599h15v15h-15zM1611.3 1599h15v15h-15zM1620.7 1599h15v15h-15zM1630 1599h15v15h-15zM1639.4 1599h15v15h-15zM1648.7 1599h15v15h-15zM1658 1599h15v15h-15zM1667.4 1599h15v15h-15zM1676.7 1599h15v15h-15zM1686.1 1599h15v15h-15zM1695.4 1599h15v15h-15zM1704.7 1599h15v15h-15zM1714.1 1599h15v15h-15zM1723.4 1599h15v15h-15zM1732.8 1599h15v15h-15zM1742.1 1599h15v15h-15z" fill="#c00000"/>
<path d="M824.9 1605.3L834.3 1605.4L843.6 1605.6L853 1605.8L862.3 1606L871.6 1606L881 1606L890.3 1606L899.7 1606L909 1606.1L918.3 1606.1L927.7 1606.1L937 1606.1L946.4 1606.1L955.7 1606.1L965 1606.1L974.4 1606.1L983.7 1606.1L993.1 1606.1L1002.4 1606.1L1011.7 1606.1L1021.1 1606.1L1030.4 1606.1L1039.8 1606.1L1049.1 1606.1L1058.4 1606.1L1067.8 1606.1L1077.1 1606.2L1086.5 1606.2L1095.8 1606.2L1105.1 1606.2L1114.5 1606.2L1123.8 1606.2L1133.2 1606.2L1142.5 1606.2L1151.8 1606.2L1161.2 1606.2L1170.5 1606.2L1179.9 1606.2L1189.2 1606.2L1198.5 1606.2L1207.9 1606.2L1217.2 1606.2L1226.6 1606.2L1235.9 1606.2L1245.2 1606.2L1254.6 1606.3L1263.9 1606.3L1273.3 1606.3L1282.6 1606.3L1291.9 1606.3L1301.3 1606.3L1310.6 1606.3L1320 1606.3L1329.3 1606.3L1338.6 1606.3L1348 1606.3L1357.3 1606.3L1366.7 1606.3L1376 1606.3L1385.3 1606.3L1394.7 1606.3L1404 1606.3L1413.4 1606.3L1422.7 1606.4L1432 1606.4L1441.4 1606.4L1450.7 1606.4L1460.1 1606.4L1469.4 1606.4L1478.7 1606.4L1488.1 1606.4L1497.4 1606.4L1506.8 1606.4L1516.1 1606.4L1525.4 1606.4L1534.8 1606.4L1544.1 1606.4L1553.5 1606.4L1562.8 1606.4L1572.1 1606.4L1581.5 1606.4L1590.8 1606.4L1600.2 1606.5L1609.5 1606.5L1618.8 1606.5L1628.2 1606.5L1637.5 1606.5L1646.9 1606.5L1656.2 1606.5L1665.5 1606.5L1674.9 1606.5L1684.2 1606.5L1693.6 1606.5L1702.9 1606.5L1712.2 1606.5L1721.6 1606.5L1730.9 1606.5L1740.3 1606.5L1749.6 1606.5" fill="none" stroke="#e06400" stroke-width="2.2" stroke-linejoin="round"/>
<path d="M816.9 1605.3a8 8 0 1 0 16 0a8 8 0 1 0 -16 0zM826.3 1605.4a8 8 0 1 0 16 0a8 8 0 1 0 -16 0zM835.6 1605.6a8 8 0 1 0 16 0a8 8 0 1 0 -16 0zM845 1605.8a8 8 0 1 0 16 0a8 8 0 1 0 -16 0zM854.3 1606a8 8 0 1 0 16 0a8 8 0 1 0 -16 0zM863.6 1606a8 8 0 1 0 16 0a8 8 0 1 0 -16 0zM873 1606a8 8 0 1 0 16 0a8 8 0 1 0 -16 0zM882.3 1606a8 8 0 1 0 16 0a8 8 0 1 0 -16 0zM891.7 1606a8 8 0 1 0 16 0a8 8 0 1 0 -16 0zM901 1606.1a8 8 0 1 0 16 0a8 8 0 1 0 -16 0zM910.3 1606.1a8 8 0 1 0 16 0a8 8 0 1 0 -16 0zM919.7 1606.1a8 8 0 1 0 16 0a8 8 0 1 0 -16 0zM929 1606.1a8 8 0 1 0 16 0a8 8 0 1 0 -16 0zM938.4 1606.1a8 8 0 1 0 16 0a8 8 0 1 0 -16 0zM947.7 1606.1a8 8 0 1 0 16 0a8 8 0 1 0 -16 0zM957 1606.1a8 8 0 1 0 16 0a8 8 0 1 0 -16 0zM966.4 1606.1a8 8 0 1 0 16 0a8 8 0 1 0 -16 0zM975.7 1606.1a8 8 0 1 0 16 0a8 8 0 1 0 -16 0zM985.1 1606.1a8 8 0 1 0 16 0a8 8 0 1 0 -16 0zM994.4 1606.1a8 8 0 1 0 16 0a8 8 0 1 0 -16 0zM1003.7 1606.1a8 8 0 1 0 16 0a8 8 0 1 0 -16 0zM1013.1 1606.1a8 8 0 1 0 16 0a8 8 0 1 0 -16 0zM1022.4 1606.1a8 8 0 1 0 16 0a8 8 0 1 0 -16 0zM1031.8 1606.1a8 8 0 1 0 16 0a8 8 0 1 0 -16 0zM1041.1 1606.1a8 8 0 1 0 16 0a8 8 0 1 0 -16 0zM1050.4 1606.1a8 8 0 1 0 16 0a8 8 0 1 0 -16 0zM1059.8 1606.1a8 8 0 1 0 16 0a8 8 0 1 0 -16 0zM1069.1 1606.2a8 8 0 1 0 16 0a8 8 0 1 0 -16 0zM1078.5 1606.2a8 8 0 1 0 16 0a8 8 0 1 0 -16 0zM1087.8 1606.2a8 8 0 1 0 16 0a8 8 0 1 0 -16 0zM1097.1 1606.2a8 8 0 1 0 16 0a8 8 0 1 0 -16 0zM1106.5 1606.2a8 8 0 1 0 16 0a8 8 0 1 0 -16 0zM1115.8 1606.2a8 8 0 1 0 16 0a8 8 0 1 0 -16 0zM1125.2 1606.2a8 8 0 1 0 16 0a8 8 0 1 0 -16 0zM1134.5 1606.2a8 8 0 1 0 16 0a8 8 0 1 0 -16 0zM1143.8 1606.2a8 8 0 1 0 16 0a8 8 0 1 0 -16 0zM1153.2 1606.2a8 8 0 1 0 16 0a8 8 0 1 0 -16 0zM1162.5 1606.2a8 8 0 1 0 16 0a8 8 0 1 0 -16 0zM1171.9 1606.2a8 8 0 1 0 16 0a8 8 0 1 0 -16 0zM1181.2 1606.2a8 8 0 1 0 16 0a8 8 0 1 0 -16 0zM1190.5 1606.2a8 8 0 1 0 16 0a8 8 0 1 0 -16 0zM1199.9 1606.2a8 8 0 1 0 16 0a8 8 0 1 0 -16 0zM1209.2 1606.2a8 8 0 1 0 16 0a8 8 0 1 0 -16 0zM1218.6 1606.2a8 8 0 1 0 16 0a8 8 0 1 0 -16 0zM1227.9 1606.2a8 8 0 1 0 16 0a8 8 0 1 0 -16 0zM1237.2 1606.2a8 8 0 1 0 16 0a8 8 0 1 0 -16 0zM1246.6 1606.3a8 8 0 1 0 16 0a8 8 0 1 0 -16 0zM1255.9 1606.3a8 8 0 1 0 16 0a8 8 0 1 0 -16 0zM1265.3 1606.3a8 8 0 1 0 16 0a8 8 0 1 0 -16 0zM1274.6 1606.3a8 8 0 1 0 16 0a8 8 0 1 0 -16 0zM1283.9 1606.3a8 8 0 1 0 16 0a8 8 0 1 0 -16 0zM1293.3 1606.3a8 8 0 1 0 16 0a8 8 0 1 0 -16 0zM1302.6 1606.3a8 8 0 1 0 16 0a8 8 0 1 0 -16 0zM1312 1606.3a8 8 0 1 0 16 0a8 8 0 1 0 -16 0zM1321.3 1606.3a8 8 0 1 0 16 0a8 8 0 1 0 -16 0zM1330.6 1606.3a8 8 0 1 0 16 0a8 8 0 1 0 -16 0zM1340 1606.3a8 8 0 1 0 16 0a8 8 0 1 0 -16 0zM1349.3 1606.3a8 8 0 1 0 16 0a8 8 0 1 0 -16 0zM1358.7 1606.3a8 8 0 1 0 16 0a8 8 0 1 0 -16 0zM1368 1606.3a8 8 0 1 0 16 0a8 8 0 1 0 -16 0zM1377.3 1606.3a8 8 0 1 0 16 0a8 8 0 1 0 -16 0zM1386.7 1606.3a8 8 0 1 0 16 0a8 8 0 1 0 -16 0zM1396 1606.3a8 8 0 1 0 16 0a8 8 0 1 0 -16 0zM1405.4 1606.3a8 8 0 1 0 16 0a8 8 0 1 0 -16 0zM1414.7 1606.4a8 8 0 1 0 16 0a8 8 0 1 0 -16 0zM1424 1606.4a8 8 0 1 0 16 0a8 8 0 1 0 -16 0zM1433.4 1606.4a8 8 0 1 0 16 0a8 8 0 1 0 -16 0zM1442.7 1606.4a8 8 0 1 0 16 0a8 8 0 1 0 -16 0zM1452.1 1606.4a8 8 0 1 0 16 0a8 8 0 1 0 -16 0zM1461.4 1606.4a8 8 0 1 0 16 0a8 8 0 1 0 -16 0zM1470.7 1606.4a8 8 0 1 0 16 0a8 8 0 1 0 -16 0zM1480.1 1606.4a8 8 0 1 0 16 0a8 8 0 1 0 -16 0zM1489.4 1606.4a8 8 0 1 0 16 0a8 8 0 1 0 -16 0zM1498.8 1606.4a8 8 0 1 0 16 0a8 8 0 1 0 -16 0zM1508.1 1606.4a8 8 0 1 0 16 0a8 8 0 1 0 -16 0zM1517.4 1606.4a8 8 0 1 0 16 0a8 8 0 1 0 -16 0zM1526.8 1606.4a8 8 0 1 0 16 0a8 8 0 1 0 -16 0zM1536.1 1606.4a8 8 0 1 0 16 0a8 8 0 1 0 -16 0zM1545.5 1606.4a8 8 0 1 0 16 0a8 8 0 1 0 -16 0zM1554.8 1606.4a8 8 0 1 0 16 0a8 8 0 1 0 -16 0zM1564.1 1606.4a8 8 0 1 0 16 0a8 8 0 1 0 -16 0zM1573.5 1606.4a8 8 0 1 0 16 0a8 8 0 1 0 -16 0zM1582.8 1606.4a8 8 0 1 0 16 0a8 8 0 1 0 -16 0zM1592.2 1606.5a8 8 0 1 0 16 0a8 8 0 1 0 -16 0zM1601.5 1606.5a8 8 0 1 0 16 0a8 8 0 1 0 -16 0zM1610.8 1606.5a8 8 0 1 0 16 0a8 8 0 1 0 -16 0zM1620.2 1606.5a8 8 0 1 0 16 0a8 8 0 1 0 -16 0zM1629.5 1606.5a8 8 0 1 0 16 0a8 8 0 1 0 -16 0zM1638.9 1606.5a8 8 0 1 0 16 0a8 8 0 1 0 -16 0zM1648.2 1606.5a8 8 0 1 0 16 0a8 8 0 1 0 -16 0zM1657.5 1606.5a8 8 0 1 0 16 0a8 8 0 1 0 -16 0zM1666.9 1606.5a8 8 0 1 0 16 0a8 8 0 1 0 -16 0zM1676.2 1606.5a8 8 0 1 0 16 0a8 8 0 1 0 -16 0zM1685.6 1606.5a8 8 0 1 0 16 0a8 8 0 1 0 -16 0zM1694.9 1606.5a8 8 0 1 0 16 0a8 8 0 1 0 -16 0zM1704.2 1606.5a8 8 0 1 0 16 0a8 8 0 1 0 -16 0zM1713.6 1606.5a8 8 0 1 0 16 0a8 8 0 1 0 -16 0zM1722.9 1606.5a8 8 0 1 0 16 0a8 8 0 1 0 -16 0zM1732.3 1606.5a8 8 0 1 0 16 0a8 8 0 1 0 -16 0zM1741.6 1606.5a8 8 0 1 0 16 0a8 8 0 1 0 -16 0z" fill="#e06400"/>
</g>
<g class="t" transform="translate(806 1622) scale(0.905 1)"><text font-size="48.5" text-anchor="end">0</text></g>
<g class="t" transform="translate(806 1492.8) scale(0.905 1)"><text font-size="48.5" text-anchor="end">50</text></g>
<g class="t" transform="translate(806 1363.7) scale(0.905 1)"><text font-size="48.5" text-anchor="end" clip-path="url(#c8)">100</text></g>
<g class="t" transform="translate(806 1234.5) scale(0.905 1)"><text font-size="48.5" text-anchor="end" clip-path="url(#c9)">150</text></g>
<g class="t" transform="translate(806 1105.4) scale(0.905 1)"><text font-size="48.5" text-anchor="end">200</text></g>
<g class="t" transform="translate(806 976.2) scale(0.905 1)"><text font-size="48.5" text-anchor="end">250</text></g>
<g class="t" transform="translate(909 1663.3) scale(0.905 1)"><text font-size="48.5" text-anchor="middle" clip-path="url(#c2)">10</text></g>
<g class="t" transform="translate(1002.4 1663.3) scale(0.905 1)"><text font-size="48.5" text-anchor="middle">20</text></g>
<g class="t" transform="translate(1095.8 1663.3) scale(0.905 1)"><text font-size="48.5" text-anchor="middle">30</text></g>
<g class="t" transform="translate(1189.2 1663.3) scale(0.905 1)"><text font-size="48.5" text-anchor="middle">40</text></g>
<g class="t" transform="translate(1282.6 1663.3) scale(0.905 1)"><text font-size="48.5" text-anchor="middle">50</text></g>
<g class="t" transform="translate(1376 1663.3) scale(0.905 1)"><text font-size="48.5" text-anchor="middle">60</text></g>
<g class="t" transform="translate(1469.4 1663.3) scale(0.905 1)"><text font-size="48.5" text-anchor="middle">70</text></g>
<g class="t" transform="translate(1562.8 1663.3) scale(0.905 1)"><text font-size="48.5" text-anchor="middle">80</text></g>
<g class="t" transform="translate(1656.2 1663.3) scale(0.905 1)"><text font-size="48.5" text-anchor="middle">90</text></g>
<g class="t" transform="translate(1749.6 1663.3) scale(0.905 1)"><text font-size="48.5" text-anchor="middle" clip-path="url(#c3)">100</text></g>
<g class="tb" transform="translate(1287.8 1728) scale(0.966 1)"><text font-size="52" text-anchor="middle" clip-path="url(#c4)">Shear rate (1/s)</text></g>
<g class="t eta" transform="translate(710.5 1369) rotate(-90) scale(1.35 1)"><text font-size="45" text-anchor="start">η</text></g>
<g class="t" transform="translate(710.5 1318) rotate(-90)"><text font-size="48" text-anchor="start" letter-spacing="2.1">(Pa.s)</text></g>
<g class="tag" transform="translate(609.5 990) scale(0.93 1)"><text font-size="84" text-anchor="start">c)</text></g>
</g>
<g id="legend">
<g filter="url(#blur)">
<rect x="1574.5" y="1037" width="57.5" height="4" fill="#e8791f"/>
<path d="M1591.8 1039a11.7 11.7 0 1 0 23.4 0a11.7 11.7 0 1 0 -23.4 0z" fill="#e06400"/>
<rect x="1574.5" y="1151" width="57.5" height="4" fill="#ea6464"/>
<path d="M1591.8 1141.3h23.4v23.4h-23.4z" fill="#c00000"/>
<rect x="1574.5" y="1264.8" width="57.5" height="4" fill="#4646b4"/>
<path d="M1602.5 1255.8L1604.5 1255.8L1615.2 1277L1615.2 1278.4L1591.8 1278.4L1591.8 1277z" fill="#00008f"/>
<rect x="1574.5" y="1379.2" width="57.5" height="4" fill="#8a3aa0"/>
<path d="M1602.5 1392.2L1604.5 1392.2L1615.2 1371L1615.2 1369.6L1591.8 1369.6L1591.8 1371z" fill="#5a0a78"/>
</g>
<g class="lg" transform="translate(1666 1066) scale(0.953 1)"><text font-size="82" text-anchor="start" clip-path="url(#c10)">15%</text></g>
<g class="lg" transform="translate(1666 1181) scale(0.953 1)"><text font-size="82" text-anchor="start" clip-path="url(#c11)">16%</text></g>
<g class="lg" transform="translate(1666 1293.4) scale(0.953 1)"><text font-size="82" text-anchor="start" clip-path="url(#c12)">17.5%</text></g>
<g class="lg" transform="translate(1664.5 1408) scale(0.953 1)"><text font-size="82" text-anchor="start">20%</text></g>
</g>
</svg>
</body>
</html>
